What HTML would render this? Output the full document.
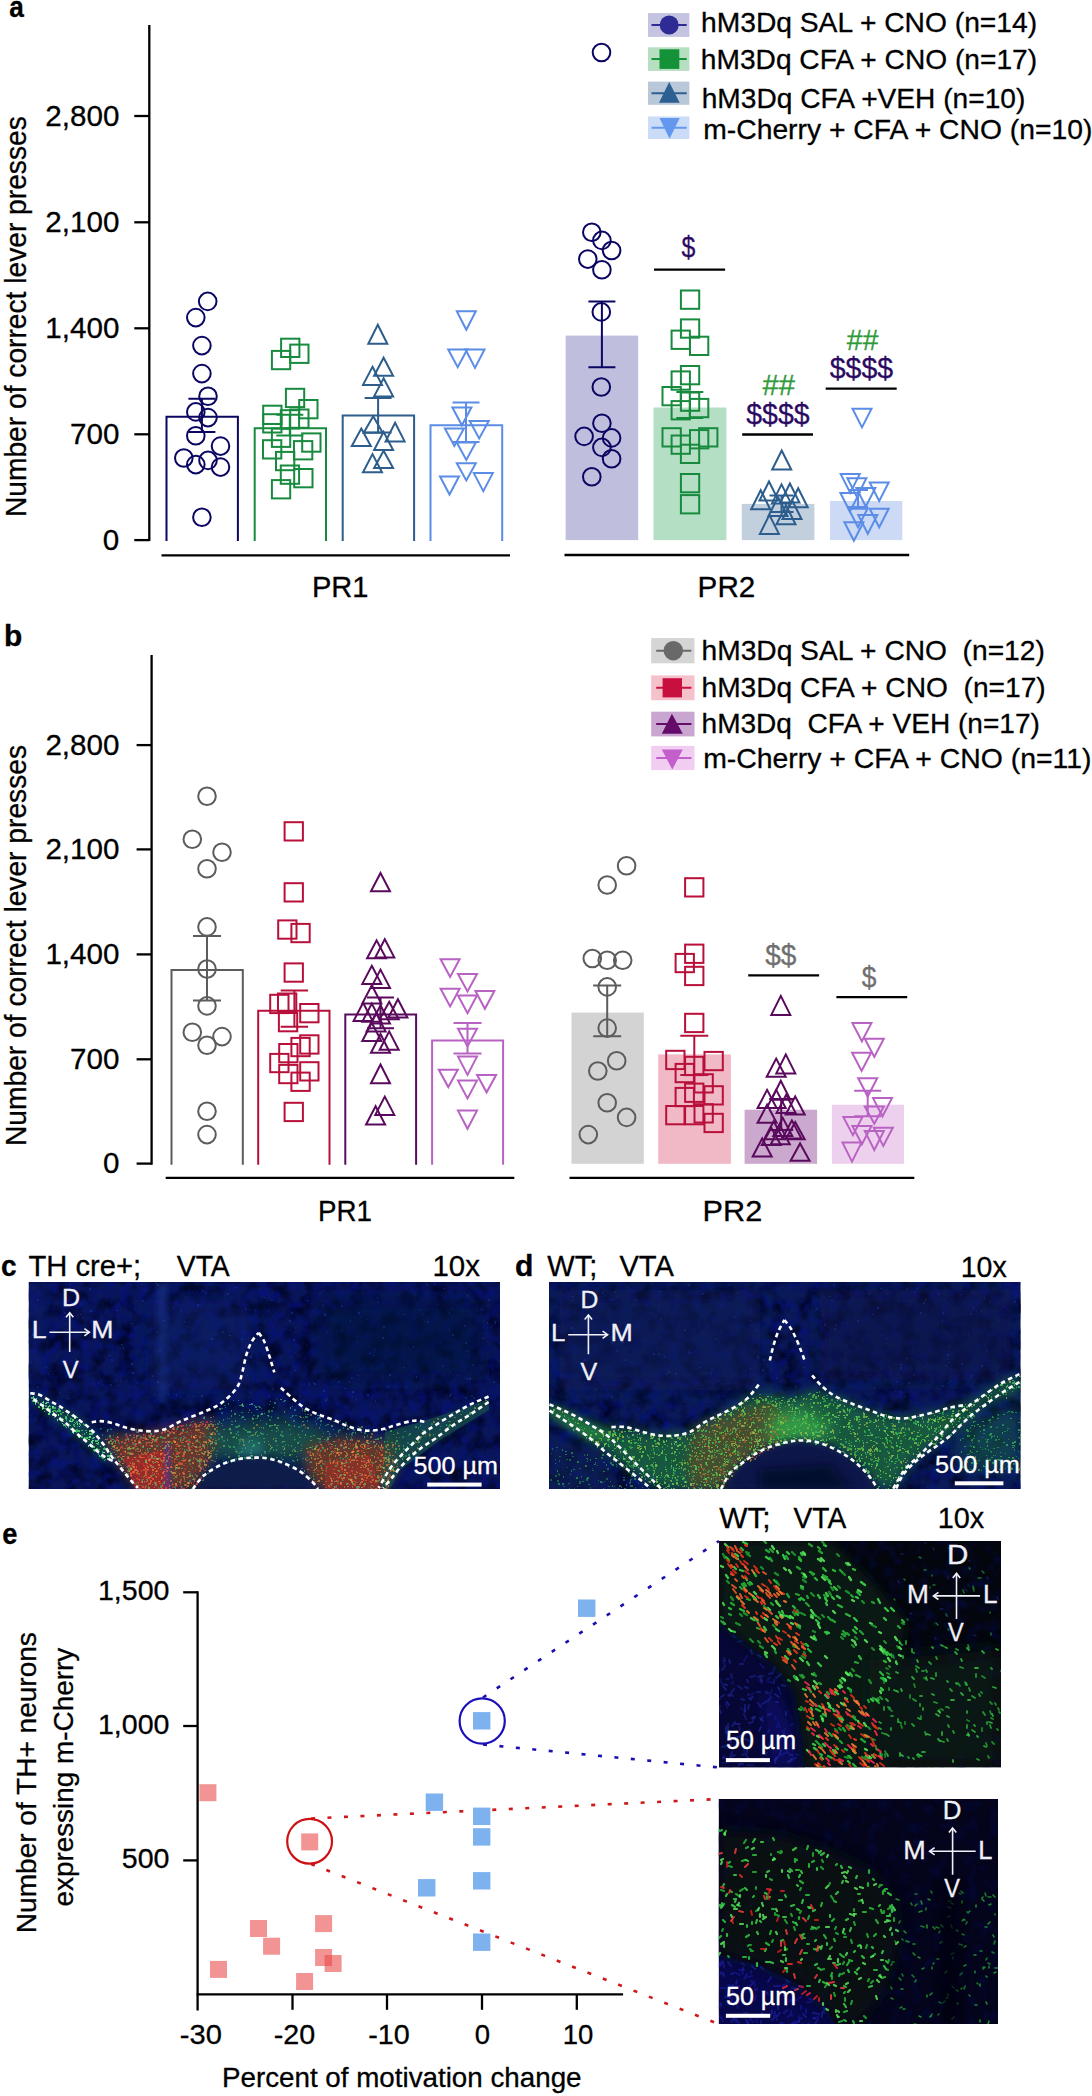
<!DOCTYPE html><html><head><meta charset="utf-8"><style>html,body{margin:0;padding:0;background:#fff;}svg{display:block;}text{font-family:"Liberation Sans",sans-serif;}</style></head><body>
<svg width="1092" height="2096" viewBox="0 0 1092 2096">
<rect width="1092" height="2096" fill="#fff"/>
<text x="9.31" y="17.4" font-size="30" fill="#000" stroke="#000" stroke-width="0.3" font-weight="bold" textLength="14.59" lengthAdjust="spacingAndGlyphs" xml:space="preserve" >a</text>
<line x1="149.3" y1="25" x2="149.3" y2="541.1" stroke="#000" stroke-width="2.3" />
<line x1="134.3" y1="116" x2="149.3" y2="116" stroke="#000" stroke-width="2.3" />
<text x="45.33" y="125.6" font-size="29" fill="#000" stroke="#000" stroke-width="0.3" textLength="74.02" lengthAdjust="spacingAndGlyphs" xml:space="preserve" >2,800</text>
<line x1="134.3" y1="222.3" x2="149.3" y2="222.3" stroke="#000" stroke-width="2.3" />
<text x="45.33" y="231.9" font-size="29" fill="#000" stroke="#000" stroke-width="0.3" textLength="74.02" lengthAdjust="spacingAndGlyphs" xml:space="preserve" >2,100</text>
<line x1="134.3" y1="328.3" x2="149.3" y2="328.3" stroke="#000" stroke-width="2.3" />
<text x="45.33" y="337.90000000000003" font-size="29" fill="#000" stroke="#000" stroke-width="0.3" textLength="74.02" lengthAdjust="spacingAndGlyphs" xml:space="preserve" >1,400</text>
<line x1="134.3" y1="434.3" x2="149.3" y2="434.3" stroke="#000" stroke-width="2.3" />
<text x="70.03" y="443.90000000000003" font-size="29" fill="#000" stroke="#000" stroke-width="0.3" textLength="49.35" lengthAdjust="spacingAndGlyphs" xml:space="preserve" >700</text>
<line x1="134.3" y1="540.1" x2="149.3" y2="540.1" stroke="#000" stroke-width="2.3" />
<text x="102.87" y="549.7" font-size="29" fill="#000" stroke="#000" stroke-width="0.3" textLength="16.45" lengthAdjust="spacingAndGlyphs" xml:space="preserve" >0</text>
<text transform="rotate(-90)" x="-517.05" y="25.7" font-size="29.5" fill="#000" stroke="#000" stroke-width="0.3" textLength="400.81" lengthAdjust="spacingAndGlyphs" xml:space="preserve">Number of correct lever presses</text>
<line x1="161.5" y1="555.3" x2="510" y2="555.3" stroke="#000" stroke-width="2.3" />
<line x1="564.5" y1="555.0" x2="909.2" y2="555.0" stroke="#000" stroke-width="2.3" />
<text x="311.97" y="597.1" font-size="29" fill="#000" stroke="#000" stroke-width="0.3" textLength="56.59" lengthAdjust="spacingAndGlyphs" xml:space="preserve" >PR1</text>
<text x="697.63" y="597.1" font-size="29" fill="#000" stroke="#000" stroke-width="0.3" textLength="57.67" lengthAdjust="spacingAndGlyphs" xml:space="preserve" >PR2</text>
<rect x="565.6" y="335.6" width="72.60000000000002" height="204.5" fill="#bfbfdd"/>
<rect x="653.5" y="407.5" width="72.89999999999998" height="132.60000000000002" fill="#b4dfc5"/>
<rect x="741.8" y="503.9" width="72.60000000000002" height="36.200000000000045" fill="#c2cfdc"/>
<rect x="830" y="501" width="72.29999999999995" height="39.10000000000002" fill="#ccdaf6"/>
<path d="M166.5 541.1V416.8H237.9V541.1" fill="none" stroke="#0b0662" stroke-width="2"/>
<path d="M254.7 541.1V428.2H326V541.1" fill="none" stroke="#178a3e" stroke-width="2"/>
<path d="M342.7 541.1V415.4H414.1V541.1" fill="none" stroke="#2c5d8c" stroke-width="2"/>
<path d="M430.5 541.1V425.3H502.2V541.1" fill="none" stroke="#5b8de6" stroke-width="2"/>
<circle cx="207.7" cy="301.4" r="8.8" fill="none" stroke="#0b0662" stroke-width="2"/>
<circle cx="195.8" cy="317.6" r="8.8" fill="none" stroke="#0b0662" stroke-width="2"/>
<circle cx="201.9" cy="345.6" r="8.8" fill="none" stroke="#0b0662" stroke-width="2"/>
<circle cx="201.9" cy="373.6" r="8.8" fill="none" stroke="#0b0662" stroke-width="2"/>
<circle cx="208.0" cy="396.2" r="8.8" fill="none" stroke="#0b0662" stroke-width="2"/>
<circle cx="195.8" cy="411.9" r="8.8" fill="none" stroke="#0b0662" stroke-width="2"/>
<circle cx="208.0" cy="417.6" r="8.8" fill="none" stroke="#0b0662" stroke-width="2"/>
<circle cx="195.8" cy="435.8" r="8.8" fill="none" stroke="#0b0662" stroke-width="2"/>
<circle cx="220.5" cy="446.1" r="8.8" fill="none" stroke="#0b0662" stroke-width="2"/>
<circle cx="183.8" cy="458.0" r="8.8" fill="none" stroke="#0b0662" stroke-width="2"/>
<circle cx="195.8" cy="464.6" r="8.8" fill="none" stroke="#0b0662" stroke-width="2"/>
<circle cx="208.0" cy="460.4" r="8.8" fill="none" stroke="#0b0662" stroke-width="2"/>
<circle cx="220.5" cy="467.1" r="8.8" fill="none" stroke="#0b0662" stroke-width="2"/>
<circle cx="201.9" cy="517.3" r="8.8" fill="none" stroke="#0b0662" stroke-width="2"/>
<path d="M188.4 398.7H215.4M201.9 398.7V432.0M188.4 432.0H215.4" fill="none" stroke="#0b0662" stroke-width="2"/>
<rect x="281.1" y="338.7" width="18.3" height="18.3" fill="none" stroke="#178a3e" stroke-width="2"/>
<rect x="290.2" y="344.6" width="18.3" height="18.3" fill="none" stroke="#178a3e" stroke-width="2"/>
<rect x="271.9" y="350.9" width="18.3" height="18.3" fill="none" stroke="#178a3e" stroke-width="2"/>
<rect x="285.9" y="388.8" width="18.3" height="18.3" fill="none" stroke="#178a3e" stroke-width="2"/>
<rect x="299.2" y="400.0" width="18.3" height="18.3" fill="none" stroke="#178a3e" stroke-width="2"/>
<rect x="263.2" y="405.7" width="18.3" height="18.3" fill="none" stroke="#178a3e" stroke-width="2"/>
<rect x="263.2" y="414.2" width="18.3" height="18.3" fill="none" stroke="#178a3e" stroke-width="2"/>
<rect x="290.2" y="409.5" width="18.3" height="18.3" fill="none" stroke="#178a3e" stroke-width="2"/>
<rect x="271.9" y="428.6" width="18.3" height="18.3" fill="none" stroke="#178a3e" stroke-width="2"/>
<rect x="302.2" y="433.4" width="18.3" height="18.3" fill="none" stroke="#178a3e" stroke-width="2"/>
<rect x="263.0" y="440.2" width="18.3" height="18.3" fill="none" stroke="#178a3e" stroke-width="2"/>
<rect x="294.0" y="441.1" width="18.3" height="18.3" fill="none" stroke="#178a3e" stroke-width="2"/>
<rect x="276.0" y="451.9" width="18.3" height="18.3" fill="none" stroke="#178a3e" stroke-width="2"/>
<rect x="280.8" y="465.5" width="18.3" height="18.3" fill="none" stroke="#178a3e" stroke-width="2"/>
<rect x="294.2" y="469.0" width="18.3" height="18.3" fill="none" stroke="#178a3e" stroke-width="2"/>
<rect x="271.9" y="480.1" width="18.3" height="18.3" fill="none" stroke="#178a3e" stroke-width="2"/>
<rect x="280.8" y="410.2" width="18.3" height="18.3" fill="none" stroke="#178a3e" stroke-width="2"/>
<path d="M276.3 414.8H303.3M289.8 414.8V435.5M276.3 435.5H303.3" fill="none" stroke="#178a3e" stroke-width="2"/>
<path d="M377.8 324.7L387.3 343.7L368.3 343.7Z" fill="none" stroke="#2c5d8c" stroke-width="2" stroke-linejoin="miter"/>
<path d="M383.6 357.7L393.1 375.8L374.1 375.8Z" fill="none" stroke="#2c5d8c" stroke-width="2" stroke-linejoin="miter"/>
<path d="M372.5 366.8L382.0 384.9L363.0 384.9Z" fill="none" stroke="#2c5d8c" stroke-width="2" stroke-linejoin="miter"/>
<path d="M383.6 378.3L393.1 396.4L374.1 396.4Z" fill="none" stroke="#2c5d8c" stroke-width="2" stroke-linejoin="miter"/>
<path d="M373.2 416.2L382.7 432.7L363.7 432.7Z" fill="none" stroke="#2c5d8c" stroke-width="2" stroke-linejoin="miter"/>
<path d="M361.3 428.6L370.8 445.9L351.8 445.9Z" fill="none" stroke="#2c5d8c" stroke-width="2" stroke-linejoin="miter"/>
<path d="M395.1 422.8L404.6 441.4L385.6 441.4Z" fill="none" stroke="#2c5d8c" stroke-width="2" stroke-linejoin="miter"/>
<path d="M383.6 431.9L393.1 450.0L374.1 450.0Z" fill="none" stroke="#2c5d8c" stroke-width="2" stroke-linejoin="miter"/>
<path d="M383.6 450.8L393.1 468.1L374.1 468.1Z" fill="none" stroke="#2c5d8c" stroke-width="2" stroke-linejoin="miter"/>
<path d="M372.5 454.1L382.0 472.2L363.0 472.2Z" fill="none" stroke="#2c5d8c" stroke-width="2" stroke-linejoin="miter"/>
<path d="M364.6 398.1H391.6M378.1 398.1V432.5M364.6 432.5H391.6" fill="none" stroke="#2c5d8c" stroke-width="2"/>
<path d="M456.8 311.2L475.8 311.2L466.3 329.7Z" fill="none" stroke="#5b8de6" stroke-width="2"/>
<path d="M448.2 349.4L467.2 349.4L457.7 367.2Z" fill="none" stroke="#5b8de6" stroke-width="2"/>
<path d="M465.5 349.4L484.5 349.4L475.0 367.9Z" fill="none" stroke="#5b8de6" stroke-width="2"/>
<path d="M452.4 407.5L471.4 407.5L461.9 425.3Z" fill="none" stroke="#5b8de6" stroke-width="2"/>
<path d="M469.7 421.1L488.7 421.1L479.2 438.5Z" fill="none" stroke="#5b8de6" stroke-width="2"/>
<path d="M444.9 428.6L463.9 428.6L454.4 445.9Z" fill="none" stroke="#5b8de6" stroke-width="2"/>
<path d="M456.8 442.6L475.8 442.6L466.3 459.9Z" fill="none" stroke="#5b8de6" stroke-width="2"/>
<path d="M456.8 463.2L475.8 463.2L466.3 480.5Z" fill="none" stroke="#5b8de6" stroke-width="2"/>
<path d="M473.8 473.1L492.8 473.1L483.3 491.2Z" fill="none" stroke="#5b8de6" stroke-width="2"/>
<path d="M440.0 476.4L459.0 476.4L449.5 494.5Z" fill="none" stroke="#5b8de6" stroke-width="2"/>
<path d="M452.5 402.5H479.5M466 402.5V442.1M452.5 442.1H479.5" fill="none" stroke="#5b8de6" stroke-width="2"/>
<circle cx="601.5" cy="52.5" r="8.8" fill="none" stroke="#0b0662" stroke-width="2"/>
<circle cx="591.8" cy="232.2" r="8.8" fill="none" stroke="#0b0662" stroke-width="2"/>
<circle cx="601.9" cy="240.4" r="8.8" fill="none" stroke="#0b0662" stroke-width="2"/>
<circle cx="611.6" cy="250.5" r="8.8" fill="none" stroke="#0b0662" stroke-width="2"/>
<circle cx="587.8" cy="259.1" r="8.8" fill="none" stroke="#0b0662" stroke-width="2"/>
<circle cx="601.9" cy="269.7" r="8.8" fill="none" stroke="#0b0662" stroke-width="2"/>
<circle cx="601.3" cy="311.9" r="8.8" fill="none" stroke="#0b0662" stroke-width="2"/>
<circle cx="601.3" cy="387.0" r="8.8" fill="none" stroke="#0b0662" stroke-width="2"/>
<circle cx="601.9" cy="423.2" r="8.8" fill="none" stroke="#0b0662" stroke-width="2"/>
<circle cx="584.1" cy="436.4" r="8.8" fill="none" stroke="#0b0662" stroke-width="2"/>
<circle cx="611.6" cy="437.9" r="8.8" fill="none" stroke="#0b0662" stroke-width="2"/>
<circle cx="601.9" cy="447.4" r="8.8" fill="none" stroke="#0b0662" stroke-width="2"/>
<circle cx="611.6" cy="458.8" r="8.8" fill="none" stroke="#0b0662" stroke-width="2"/>
<circle cx="591.8" cy="476.7" r="8.8" fill="none" stroke="#0b0662" stroke-width="2"/>
<path d="M588.4 301.4H615.4M601.9 301.4V367.2M588.4 367.2H615.4" fill="none" stroke="#0b0662" stroke-width="2"/>
<rect x="680.9" y="290.5" width="18.3" height="18.3" fill="none" stroke="#178a3e" stroke-width="2"/>
<rect x="680.9" y="319.4" width="18.3" height="18.3" fill="none" stroke="#178a3e" stroke-width="2"/>
<rect x="671.6" y="330.6" width="18.3" height="18.3" fill="none" stroke="#178a3e" stroke-width="2"/>
<rect x="690.0" y="336.7" width="18.3" height="18.3" fill="none" stroke="#178a3e" stroke-width="2"/>
<rect x="680.9" y="366.0" width="18.3" height="18.3" fill="none" stroke="#178a3e" stroke-width="2"/>
<rect x="671.6" y="371.4" width="18.3" height="18.3" fill="none" stroke="#178a3e" stroke-width="2"/>
<rect x="662.5" y="387.0" width="18.3" height="18.3" fill="none" stroke="#178a3e" stroke-width="2"/>
<rect x="680.9" y="392.5" width="18.3" height="18.3" fill="none" stroke="#178a3e" stroke-width="2"/>
<rect x="671.6" y="401.1" width="18.3" height="18.3" fill="none" stroke="#178a3e" stroke-width="2"/>
<rect x="690.0" y="398.9" width="18.3" height="18.3" fill="none" stroke="#178a3e" stroke-width="2"/>
<rect x="662.5" y="428.2" width="18.3" height="18.3" fill="none" stroke="#178a3e" stroke-width="2"/>
<rect x="671.6" y="435.5" width="18.3" height="18.3" fill="none" stroke="#178a3e" stroke-width="2"/>
<rect x="680.9" y="444.7" width="18.3" height="18.3" fill="none" stroke="#178a3e" stroke-width="2"/>
<rect x="690.0" y="430.1" width="18.3" height="18.3" fill="none" stroke="#178a3e" stroke-width="2"/>
<rect x="699.1" y="428.2" width="18.3" height="18.3" fill="none" stroke="#178a3e" stroke-width="2"/>
<rect x="680.9" y="474.0" width="18.3" height="18.3" fill="none" stroke="#178a3e" stroke-width="2"/>
<rect x="680.9" y="495.1" width="18.3" height="18.3" fill="none" stroke="#178a3e" stroke-width="2"/>
<path d="M676.3 392H703.3M689.8 392V418M676.3 418H703.3" fill="none" stroke="#178a3e" stroke-width="2"/>
<path d="M781.7 450.5L791.2 469.5L772.2 469.5Z" fill="none" stroke="#2c5d8c" stroke-width="2" stroke-linejoin="miter"/>
<path d="M769.0 481.5L778.5 500.5L759.5 500.5Z" fill="none" stroke="#2c5d8c" stroke-width="2" stroke-linejoin="miter"/>
<path d="M760.7 490.2L770.2 509.2L751.2 509.2Z" fill="none" stroke="#2c5d8c" stroke-width="2" stroke-linejoin="miter"/>
<path d="M781.5 484.4L791.0 503.4L772.0 503.4Z" fill="none" stroke="#2c5d8c" stroke-width="2" stroke-linejoin="miter"/>
<path d="M789.9 483.5L799.4 502.5L780.4 502.5Z" fill="none" stroke="#2c5d8c" stroke-width="2" stroke-linejoin="miter"/>
<path d="M798.2 488.3L807.7 507.3L788.7 507.3Z" fill="none" stroke="#2c5d8c" stroke-width="2" stroke-linejoin="miter"/>
<path d="M769.4 514.9L778.9 533.9L759.9 533.9Z" fill="none" stroke="#2c5d8c" stroke-width="2" stroke-linejoin="miter"/>
<path d="M786.0 505.3L795.5 524.3L776.5 524.3Z" fill="none" stroke="#2c5d8c" stroke-width="2" stroke-linejoin="miter"/>
<path d="M778.0 497.0L787.5 516.0L768.5 516.0Z" fill="none" stroke="#2c5d8c" stroke-width="2" stroke-linejoin="miter"/>
<path d="M792.0 500.0L801.5 519.0L782.5 519.0Z" fill="none" stroke="#2c5d8c" stroke-width="2" stroke-linejoin="miter"/>
<path d="M769.5 495.6H793.5M781.5 495.6V512M769.5 512H793.5" fill="none" stroke="#2c5d8c" stroke-width="2"/>
<path d="M852.5 408.8L871.5 408.8L862.0 427.4Z" fill="none" stroke="#5b8de6" stroke-width="2"/>
<path d="M840.7 474.1L859.7 474.1L850.2 492.7Z" fill="none" stroke="#5b8de6" stroke-width="2"/>
<path d="M847.4 478.3L866.4 478.3L856.9 496.9Z" fill="none" stroke="#5b8de6" stroke-width="2"/>
<path d="M869.7 482.4L888.7 482.4L879.2 501.0Z" fill="none" stroke="#5b8de6" stroke-width="2"/>
<path d="M856.3 487.9L875.3 487.9L865.8 506.5Z" fill="none" stroke="#5b8de6" stroke-width="2"/>
<path d="M840.4 493.0L859.4 493.0L849.9 511.6Z" fill="none" stroke="#5b8de6" stroke-width="2"/>
<path d="M869.7 508.7L888.7 508.7L879.2 527.3Z" fill="none" stroke="#5b8de6" stroke-width="2"/>
<path d="M848.5 508.7L867.5 508.7L858.0 527.3Z" fill="none" stroke="#5b8de6" stroke-width="2"/>
<path d="M858.3 515.1L877.3 515.1L867.8 533.7Z" fill="none" stroke="#5b8de6" stroke-width="2"/>
<path d="M844.4 522.2L863.4 522.2L853.9 540.8Z" fill="none" stroke="#5b8de6" stroke-width="2"/>
<path d="M848 490H868M858 490V507.1M848 507.1H868" fill="none" stroke="#5b8de6" stroke-width="2"/>
<line x1="654" y1="269.7" x2="725.1" y2="269.7" stroke="#000" stroke-width="2.3" />
<text x="681.45" y="257" font-size="29" fill="#2b0a63" stroke="#2b0a63" stroke-width="0.3" textLength="13.85" lengthAdjust="spacingAndGlyphs" xml:space="preserve" >$</text>
<line x1="742.2" y1="434.5" x2="813" y2="434.5" stroke="#000" stroke-width="2.3" />
<text x="746.22" y="424.2" font-size="29" fill="#2b0a63" stroke="#2b0a63" stroke-width="0.3" textLength="63.40" lengthAdjust="spacingAndGlyphs" xml:space="preserve" >$$$$</text>
<text x="762.55" y="394.8" font-size="29" fill="#2f9a3a" stroke="#2f9a3a" stroke-width="0.3" textLength="32.36" lengthAdjust="spacingAndGlyphs" xml:space="preserve" >##</text>
<line x1="825.7" y1="388.7" x2="896.7" y2="388.7" stroke="#000" stroke-width="2.3" />
<text x="829.72" y="378.4" font-size="29" fill="#2b0a63" stroke="#2b0a63" stroke-width="0.3" textLength="63.40" lengthAdjust="spacingAndGlyphs" xml:space="preserve" >$$$$</text>
<text x="846.86" y="349.6" font-size="29" fill="#2f9a3a" stroke="#2f9a3a" stroke-width="0.3" textLength="31.55" lengthAdjust="spacingAndGlyphs" xml:space="preserve" >##</text>
<rect x="648" y="13.1" width="41.4" height="23.8" fill="#c4c4e0"/>
<line x1="651.5" y1="25.0" x2="686.7" y2="25.0" stroke="#2e2b95" stroke-width="2" />
<circle cx="669.2" cy="25.0" r="9.5" fill="#2e2b95"/>
<text x="701.03" y="32.3" font-size="28.5" fill="#000" stroke="#000" stroke-width="0.3" textLength="336.05" lengthAdjust="spacingAndGlyphs" xml:space="preserve" >hM3Dq SAL + CNO (n=14)</text>
<rect x="648" y="47.3" width="41.4" height="23.6" fill="#b6dec0"/>
<line x1="651.5" y1="59.1" x2="686.7" y2="59.1" stroke="#149237" stroke-width="2" />
<rect x="659.5" y="49.3" width="19.8" height="19.6" fill="#149237"/>
<text x="700.83" y="68.6" font-size="28.5" fill="#000" stroke="#000" stroke-width="0.3" textLength="336.29" lengthAdjust="spacingAndGlyphs" xml:space="preserve" >hM3Dq CFA + CNO (n=17)</text>
<rect x="648" y="81.6" width="41.4" height="23.2" fill="#b9c8d8"/>
<line x1="651.5" y1="93.19999999999999" x2="686.7" y2="93.19999999999999" stroke="#2d5f90" stroke-width="2" />
<path d="M669.2 82.1L679.7 102.8L659 102.8Z" fill="#2d5f90"/>
<text x="701.73" y="107.8" font-size="28.5" fill="#000" stroke="#000" stroke-width="0.3" textLength="323.58" lengthAdjust="spacingAndGlyphs" xml:space="preserve" >hM3Dq CFA +VEH (n=10)</text>
<rect x="648" y="116.5" width="41.4" height="22.5" fill="#cadcf8"/>
<line x1="651.5" y1="127.75" x2="686.7" y2="127.75" stroke="#6497ee" stroke-width="2" />
<path d="M659.5 118.0L679.7 118.0L669.6 138.7Z" fill="#6497ee"/>
<text x="703.26" y="138.7" font-size="28.5" fill="#000" stroke="#000" stroke-width="0.3" textLength="389.06" lengthAdjust="spacingAndGlyphs" xml:space="preserve" >m-Cherry + CFA + CNO (n=10)</text>
<text x="4.06" y="646.2" font-size="29.5" fill="#000" stroke="#000" stroke-width="0.3" font-weight="bold" textLength="18.27" lengthAdjust="spacingAndGlyphs" xml:space="preserve" >b</text>
<line x1="151.6" y1="655" x2="151.6" y2="1164.8" stroke="#000" stroke-width="2.3" />
<line x1="136.6" y1="745.1" x2="151.6" y2="745.1" stroke="#000" stroke-width="2.3" />
<text x="45.43" y="754.7" font-size="29" fill="#000" stroke="#000" stroke-width="0.3" textLength="74.02" lengthAdjust="spacingAndGlyphs" xml:space="preserve" >2,800</text>
<line x1="136.6" y1="849.4" x2="151.6" y2="849.4" stroke="#000" stroke-width="2.3" />
<text x="45.43" y="859.0" font-size="29" fill="#000" stroke="#000" stroke-width="0.3" textLength="74.02" lengthAdjust="spacingAndGlyphs" xml:space="preserve" >2,100</text>
<line x1="136.6" y1="954.4" x2="151.6" y2="954.4" stroke="#000" stroke-width="2.3" />
<text x="45.43" y="964.0" font-size="29" fill="#000" stroke="#000" stroke-width="0.3" textLength="74.02" lengthAdjust="spacingAndGlyphs" xml:space="preserve" >1,400</text>
<line x1="136.6" y1="1059.3" x2="151.6" y2="1059.3" stroke="#000" stroke-width="2.3" />
<text x="70.13" y="1068.8999999999999" font-size="29" fill="#000" stroke="#000" stroke-width="0.3" textLength="49.35" lengthAdjust="spacingAndGlyphs" xml:space="preserve" >700</text>
<line x1="136.6" y1="1163.6" x2="151.6" y2="1163.6" stroke="#000" stroke-width="2.3" />
<text x="102.97" y="1173.1999999999998" font-size="29" fill="#000" stroke="#000" stroke-width="0.3" textLength="16.45" lengthAdjust="spacingAndGlyphs" xml:space="preserve" >0</text>
<text transform="rotate(-90)" x="-1146.06" y="25.8" font-size="29.5" fill="#000" stroke="#000" stroke-width="0.3" textLength="401.11" lengthAdjust="spacingAndGlyphs" xml:space="preserve">Number of correct lever presses</text>
<line x1="165.7" y1="1177.9" x2="514.3" y2="1177.9" stroke="#000" stroke-width="2.3" />
<line x1="569.5" y1="1177.9" x2="914.3" y2="1177.9" stroke="#000" stroke-width="2.3" />
<text x="317.88" y="1221.1" font-size="29" fill="#000" stroke="#000" stroke-width="0.3" textLength="54.02" lengthAdjust="spacingAndGlyphs" xml:space="preserve" >PR1</text>
<text x="702.54" y="1220.9" font-size="29" fill="#000" stroke="#000" stroke-width="0.3" textLength="59.70" lengthAdjust="spacingAndGlyphs" xml:space="preserve" >PR2</text>
<rect x="571.5" y="1012.6" width="72.29999999999995" height="151.19999999999993" fill="#d3d3d3"/>
<rect x="658.2" y="1054.4" width="72.69999999999993" height="109.39999999999986" fill="#f1b9c6"/>
<rect x="744.6" y="1109.7" width="72.5" height="54.09999999999991" fill="#cba8cd"/>
<rect x="831.9" y="1104.7" width="72.10000000000002" height="59.09999999999991" fill="#edd0ee"/>
<path d="M171.5 1164.8V970.1H242.8V1164.8" fill="none" stroke="#5c5c5c" stroke-width="2"/>
<path d="M258.2 1164.8V1010.7H329.5V1164.8" fill="none" stroke="#b8103a" stroke-width="2"/>
<path d="M345.3 1164.8V1014.5H416.1V1164.8" fill="none" stroke="#5a0a5c" stroke-width="2"/>
<path d="M432.1 1164.8V1040.4H503.1V1164.8" fill="none" stroke="#b862c4" stroke-width="2"/>
<circle cx="207.0" cy="796.3" r="8.8" fill="none" stroke="#5c5c5c" stroke-width="2"/>
<circle cx="192.3" cy="839.3" r="8.8" fill="none" stroke="#5c5c5c" stroke-width="2"/>
<circle cx="222.0" cy="852.3" r="8.8" fill="none" stroke="#5c5c5c" stroke-width="2"/>
<circle cx="207.0" cy="868.7" r="8.8" fill="none" stroke="#5c5c5c" stroke-width="2"/>
<circle cx="207.0" cy="926.9" r="8.8" fill="none" stroke="#5c5c5c" stroke-width="2"/>
<circle cx="207.0" cy="969.0" r="8.8" fill="none" stroke="#5c5c5c" stroke-width="2"/>
<circle cx="207.0" cy="1005.9" r="8.8" fill="none" stroke="#5c5c5c" stroke-width="2"/>
<circle cx="192.3" cy="1032.2" r="8.8" fill="none" stroke="#5c5c5c" stroke-width="2"/>
<circle cx="222.0" cy="1036.6" r="8.8" fill="none" stroke="#5c5c5c" stroke-width="2"/>
<circle cx="207.0" cy="1045.3" r="8.8" fill="none" stroke="#5c5c5c" stroke-width="2"/>
<circle cx="207.0" cy="1111.2" r="8.8" fill="none" stroke="#5c5c5c" stroke-width="2"/>
<circle cx="207.0" cy="1134.6" r="8.8" fill="none" stroke="#5c5c5c" stroke-width="2"/>
<path d="M193 936.1H221M207 936.1V1000.4M193 1000.4H221" fill="none" stroke="#5c5c5c" stroke-width="2"/>
<rect x="284.6" y="822.2" width="18.3" height="18.3" fill="none" stroke="#b8103a" stroke-width="2"/>
<rect x="284.6" y="883.2" width="18.3" height="18.3" fill="none" stroke="#b8103a" stroke-width="2"/>
<rect x="278.2" y="920.4" width="18.3" height="18.3" fill="none" stroke="#b8103a" stroke-width="2"/>
<rect x="291.4" y="923.9" width="18.3" height="18.3" fill="none" stroke="#b8103a" stroke-width="2"/>
<rect x="284.6" y="963.4" width="18.3" height="18.3" fill="none" stroke="#b8103a" stroke-width="2"/>
<rect x="270.2" y="994.8" width="18.3" height="18.3" fill="none" stroke="#b8103a" stroke-width="2"/>
<rect x="278.0" y="993.5" width="18.3" height="18.3" fill="none" stroke="#b8103a" stroke-width="2"/>
<rect x="300.2" y="1004.0" width="18.3" height="18.3" fill="none" stroke="#b8103a" stroke-width="2"/>
<rect x="278.9" y="1013.0" width="18.3" height="18.3" fill="none" stroke="#b8103a" stroke-width="2"/>
<rect x="291.4" y="1037.9" width="18.3" height="18.3" fill="none" stroke="#b8103a" stroke-width="2"/>
<rect x="300.2" y="1035.3" width="18.3" height="18.3" fill="none" stroke="#b8103a" stroke-width="2"/>
<rect x="279.2" y="1044.0" width="18.3" height="18.3" fill="none" stroke="#b8103a" stroke-width="2"/>
<rect x="270.2" y="1053.9" width="18.3" height="18.3" fill="none" stroke="#b8103a" stroke-width="2"/>
<rect x="279.2" y="1064.9" width="18.3" height="18.3" fill="none" stroke="#b8103a" stroke-width="2"/>
<rect x="300.2" y="1062.2" width="18.3" height="18.3" fill="none" stroke="#b8103a" stroke-width="2"/>
<rect x="291.4" y="1072.6" width="18.3" height="18.3" fill="none" stroke="#b8103a" stroke-width="2"/>
<rect x="284.6" y="1102.8" width="18.3" height="18.3" fill="none" stroke="#b8103a" stroke-width="2"/>
<path d="M280.7 990.5H308.09999999999997M294.4 990.5V1026.7M280.7 1026.7H308.09999999999997" fill="none" stroke="#b8103a" stroke-width="2"/>
<path d="M380.5 873.0L390.0 891.3L371.0 891.3Z" fill="none" stroke="#5a0a5c" stroke-width="2" stroke-linejoin="miter"/>
<path d="M376.6 940.4L386.1 958.3L367.1 958.3Z" fill="none" stroke="#5a0a5c" stroke-width="2" stroke-linejoin="miter"/>
<path d="M384.8 939.2L394.3 957.4L375.3 957.4Z" fill="none" stroke="#5a0a5c" stroke-width="2" stroke-linejoin="miter"/>
<path d="M371.8 965.8L381.3 983.9L362.3 983.9Z" fill="none" stroke="#5a0a5c" stroke-width="2" stroke-linejoin="miter"/>
<path d="M380.5 969.6L390.0 987.9L371.0 987.9Z" fill="none" stroke="#5a0a5c" stroke-width="2" stroke-linejoin="miter"/>
<path d="M371.8 985.3L381.3 1003.6L362.3 1003.6Z" fill="none" stroke="#5a0a5c" stroke-width="2" stroke-linejoin="miter"/>
<path d="M363.1 1002.7L372.6 1021.0L353.6 1021.0Z" fill="none" stroke="#5a0a5c" stroke-width="2" stroke-linejoin="miter"/>
<path d="M371.8 1003.6L381.3 1021.8L362.3 1021.8Z" fill="none" stroke="#5a0a5c" stroke-width="2" stroke-linejoin="miter"/>
<path d="M380.5 1005.3L390.0 1023.6L371.0 1023.6Z" fill="none" stroke="#5a0a5c" stroke-width="2" stroke-linejoin="miter"/>
<path d="M389.2 1001.8L398.7 1019.2L379.7 1019.2Z" fill="none" stroke="#5a0a5c" stroke-width="2" stroke-linejoin="miter"/>
<path d="M397.9 999.2L407.4 1017.5L388.4 1017.5Z" fill="none" stroke="#5a0a5c" stroke-width="2" stroke-linejoin="miter"/>
<path d="M376.1 1013.1L385.6 1031.4L366.6 1031.4Z" fill="none" stroke="#5a0a5c" stroke-width="2" stroke-linejoin="miter"/>
<path d="M371.8 1022.7L381.3 1041.0L362.3 1041.0Z" fill="none" stroke="#5a0a5c" stroke-width="2" stroke-linejoin="miter"/>
<path d="M389.2 1031.4L398.7 1049.7L379.7 1049.7Z" fill="none" stroke="#5a0a5c" stroke-width="2" stroke-linejoin="miter"/>
<path d="M380.5 1034.0L390.0 1052.8L371.0 1052.8Z" fill="none" stroke="#5a0a5c" stroke-width="2" stroke-linejoin="miter"/>
<path d="M380.5 1064.5L390.0 1083.2L371.0 1083.2Z" fill="none" stroke="#5a0a5c" stroke-width="2" stroke-linejoin="miter"/>
<path d="M384.8 1096.6L394.3 1114.9L375.3 1114.9Z" fill="none" stroke="#5a0a5c" stroke-width="2" stroke-linejoin="miter"/>
<path d="M375.6 1106.2L385.1 1124.5L366.1 1124.5Z" fill="none" stroke="#5a0a5c" stroke-width="2" stroke-linejoin="miter"/>
<path d="M367.0 997.5H394.0M380.5 997.5V1028.3M367.0 1028.3H394.0" fill="none" stroke="#5a0a5c" stroke-width="2"/>
<path d="M440.6 959.2L459.6 959.2L450.1 976.9Z" fill="none" stroke="#b862c4" stroke-width="2"/>
<path d="M458.0 974.0L477.0 974.0L467.5 991.4Z" fill="none" stroke="#b862c4" stroke-width="2"/>
<path d="M440.6 988.8L459.6 988.8L450.1 1006.5Z" fill="none" stroke="#b862c4" stroke-width="2"/>
<path d="M458.0 995.4L477.0 995.4L467.5 1013.1Z" fill="none" stroke="#b862c4" stroke-width="2"/>
<path d="M475.4 990.9L494.4 990.9L484.9 1008.8Z" fill="none" stroke="#b862c4" stroke-width="2"/>
<path d="M458.0 1028.8L477.0 1028.8L467.5 1046.5Z" fill="none" stroke="#b862c4" stroke-width="2"/>
<path d="M458.0 1056.6L477.0 1056.6L467.5 1074.9Z" fill="none" stroke="#b862c4" stroke-width="2"/>
<path d="M438.8 1069.7L457.8 1069.7L448.3 1087.1Z" fill="none" stroke="#b862c4" stroke-width="2"/>
<path d="M477.1 1074.9L496.1 1074.9L486.6 1092.3Z" fill="none" stroke="#b862c4" stroke-width="2"/>
<path d="M458.0 1080.6L477.0 1080.6L467.5 1098.4Z" fill="none" stroke="#b862c4" stroke-width="2"/>
<path d="M458.0 1110.6L477.0 1110.6L467.5 1128.8Z" fill="none" stroke="#b862c4" stroke-width="2"/>
<path d="M453.5 1023H481.5M467.5 1023V1053.5M453.5 1053.5H481.5" fill="none" stroke="#b862c4" stroke-width="2"/>
<circle cx="626.6" cy="865.8" r="8.8" fill="none" stroke="#5c5c5c" stroke-width="2"/>
<circle cx="607.2" cy="885.0" r="8.8" fill="none" stroke="#5c5c5c" stroke-width="2"/>
<circle cx="592.3" cy="958.5" r="8.8" fill="none" stroke="#5c5c5c" stroke-width="2"/>
<circle cx="607.2" cy="960.2" r="8.8" fill="none" stroke="#5c5c5c" stroke-width="2"/>
<circle cx="622.7" cy="960.2" r="8.8" fill="none" stroke="#5c5c5c" stroke-width="2"/>
<circle cx="607.2" cy="986.9" r="8.8" fill="none" stroke="#5c5c5c" stroke-width="2"/>
<circle cx="607.2" cy="1028.1" r="8.8" fill="none" stroke="#5c5c5c" stroke-width="2"/>
<circle cx="616.7" cy="1060.7" r="8.8" fill="none" stroke="#5c5c5c" stroke-width="2"/>
<circle cx="597.8" cy="1071.0" r="8.8" fill="none" stroke="#5c5c5c" stroke-width="2"/>
<circle cx="607.2" cy="1102.8" r="8.8" fill="none" stroke="#5c5c5c" stroke-width="2"/>
<circle cx="626.6" cy="1117.4" r="8.8" fill="none" stroke="#5c5c5c" stroke-width="2"/>
<circle cx="588.3" cy="1134.6" r="8.8" fill="none" stroke="#5c5c5c" stroke-width="2"/>
<path d="M593.2 985.5H621.2M607.2 985.5V1036.3M593.2 1036.3H621.2" fill="none" stroke="#5c5c5c" stroke-width="2"/>
<rect x="685.1" y="878.2" width="18.3" height="18.3" fill="none" stroke="#b8103a" stroke-width="2"/>
<rect x="685.1" y="944.6" width="18.3" height="18.3" fill="none" stroke="#b8103a" stroke-width="2"/>
<rect x="675.6" y="953.9" width="18.3" height="18.3" fill="none" stroke="#b8103a" stroke-width="2"/>
<rect x="685.1" y="966.8" width="18.3" height="18.3" fill="none" stroke="#b8103a" stroke-width="2"/>
<rect x="685.1" y="1013.8" width="18.3" height="18.3" fill="none" stroke="#b8103a" stroke-width="2"/>
<rect x="666.2" y="1050.8" width="18.3" height="18.3" fill="none" stroke="#b8103a" stroke-width="2"/>
<rect x="704.5" y="1051.9" width="18.3" height="18.3" fill="none" stroke="#b8103a" stroke-width="2"/>
<rect x="685.1" y="1056.8" width="18.3" height="18.3" fill="none" stroke="#b8103a" stroke-width="2"/>
<rect x="675.6" y="1063.9" width="18.3" height="18.3" fill="none" stroke="#b8103a" stroke-width="2"/>
<rect x="694.5" y="1074.2" width="18.3" height="18.3" fill="none" stroke="#b8103a" stroke-width="2"/>
<rect x="675.6" y="1087.9" width="18.3" height="18.3" fill="none" stroke="#b8103a" stroke-width="2"/>
<rect x="685.1" y="1083.6" width="18.3" height="18.3" fill="none" stroke="#b8103a" stroke-width="2"/>
<rect x="704.5" y="1086.2" width="18.3" height="18.3" fill="none" stroke="#b8103a" stroke-width="2"/>
<rect x="666.2" y="1106.0" width="18.3" height="18.3" fill="none" stroke="#b8103a" stroke-width="2"/>
<rect x="685.1" y="1106.0" width="18.3" height="18.3" fill="none" stroke="#b8103a" stroke-width="2"/>
<rect x="694.5" y="1104.2" width="18.3" height="18.3" fill="none" stroke="#b8103a" stroke-width="2"/>
<rect x="704.5" y="1113.8" width="18.3" height="18.3" fill="none" stroke="#b8103a" stroke-width="2"/>
<path d="M680.3 1035.8H708.3M694.3 1035.8V1075M680.3 1075H708.3" fill="none" stroke="#b8103a" stroke-width="2"/>
<path d="M780.8 995.9L790.3 1014.9L771.3 1014.9Z" fill="none" stroke="#5a0a5c" stroke-width="2" stroke-linejoin="miter"/>
<path d="M776.2 1058.6L785.7 1076.7L766.7 1076.7Z" fill="none" stroke="#5a0a5c" stroke-width="2" stroke-linejoin="miter"/>
<path d="M785.8 1054.4L795.3 1073.4L776.3 1073.4Z" fill="none" stroke="#5a0a5c" stroke-width="2" stroke-linejoin="miter"/>
<path d="M780.8 1080.8L790.3 1099.8L771.3 1099.8Z" fill="none" stroke="#5a0a5c" stroke-width="2" stroke-linejoin="miter"/>
<path d="M767.1 1089.9L776.6 1108.0L757.6 1108.0Z" fill="none" stroke="#5a0a5c" stroke-width="2" stroke-linejoin="miter"/>
<path d="M776.2 1089.9L785.7 1108.0L766.7 1108.0Z" fill="none" stroke="#5a0a5c" stroke-width="2" stroke-linejoin="miter"/>
<path d="M795.2 1096.5L804.7 1114.6L785.7 1114.6Z" fill="none" stroke="#5a0a5c" stroke-width="2" stroke-linejoin="miter"/>
<path d="M786.1 1094.8L795.6 1112.9L776.6 1112.9Z" fill="none" stroke="#5a0a5c" stroke-width="2" stroke-linejoin="miter"/>
<path d="M767.1 1104.7L776.6 1122.8L757.6 1122.8Z" fill="none" stroke="#5a0a5c" stroke-width="2" stroke-linejoin="miter"/>
<path d="M773.7 1121.2L783.2 1139.3L764.2 1139.3Z" fill="none" stroke="#5a0a5c" stroke-width="2" stroke-linejoin="miter"/>
<path d="M782.8 1117.9L792.3 1136.0L773.3 1136.0Z" fill="none" stroke="#5a0a5c" stroke-width="2" stroke-linejoin="miter"/>
<path d="M791.9 1120.4L801.4 1138.5L782.4 1138.5Z" fill="none" stroke="#5a0a5c" stroke-width="2" stroke-linejoin="miter"/>
<path d="M795.2 1122.0L804.7 1139.3L785.7 1139.3Z" fill="none" stroke="#5a0a5c" stroke-width="2" stroke-linejoin="miter"/>
<path d="M780.3 1126.1L789.8 1144.3L770.8 1144.3Z" fill="none" stroke="#5a0a5c" stroke-width="2" stroke-linejoin="miter"/>
<path d="M762.2 1138.5L771.7 1156.6L752.7 1156.6Z" fill="none" stroke="#5a0a5c" stroke-width="2" stroke-linejoin="miter"/>
<path d="M800.1 1143.4L809.6 1160.8L790.6 1160.8Z" fill="none" stroke="#5a0a5c" stroke-width="2" stroke-linejoin="miter"/>
<path d="M771.3 1127.8L780.8 1145.0L761.8 1145.0Z" fill="none" stroke="#5a0a5c" stroke-width="2" stroke-linejoin="miter"/>
<path d="M769.2 1099H793.2M781.2 1099V1130M769.2 1130H793.2" fill="none" stroke="#5a0a5c" stroke-width="2"/>
<path d="M852.4 1023.1L871.4 1023.1L861.9 1041.3Z" fill="none" stroke="#b862c4" stroke-width="2"/>
<path d="M864.8 1038.8L883.8 1038.8L874.3 1056.9Z" fill="none" stroke="#b862c4" stroke-width="2"/>
<path d="M852.1 1052.8L871.1 1052.8L861.6 1070.9Z" fill="none" stroke="#b862c4" stroke-width="2"/>
<path d="M858.2 1078.3L877.2 1078.3L867.7 1096.5Z" fill="none" stroke="#b862c4" stroke-width="2"/>
<path d="M873.0 1098.1L892.0 1098.1L882.5 1116.3Z" fill="none" stroke="#b862c4" stroke-width="2"/>
<path d="M864.8 1106.4L883.8 1106.4L874.3 1123.7Z" fill="none" stroke="#b862c4" stroke-width="2"/>
<path d="M843.4 1117.1L862.4 1117.1L852.9 1135.2Z" fill="none" stroke="#b862c4" stroke-width="2"/>
<path d="M852.4 1126.1L871.4 1126.1L861.9 1144.3Z" fill="none" stroke="#b862c4" stroke-width="2"/>
<path d="M873.8 1127.8L892.8 1127.8L883.3 1145.9Z" fill="none" stroke="#b862c4" stroke-width="2"/>
<path d="M864.8 1131.1L883.8 1131.1L874.3 1150.0Z" fill="none" stroke="#b862c4" stroke-width="2"/>
<path d="M842.5 1142.6L861.5 1142.6L852.0 1161.6Z" fill="none" stroke="#b862c4" stroke-width="2"/>
<path d="M854.2 1090.7H881.2M867.7 1090.7V1116.3M854.2 1116.3H881.2" fill="none" stroke="#b862c4" stroke-width="2"/>
<line x1="748.2" y1="975.3" x2="819.1" y2="975.3" stroke="#000" stroke-width="2.3" />
<text x="765.22" y="965" font-size="29" fill="#6f6f6f" stroke="#6f6f6f" stroke-width="0.3" textLength="31.27" lengthAdjust="spacingAndGlyphs" xml:space="preserve" >$$</text>
<line x1="836.4" y1="997.2" x2="907.2" y2="997.2" stroke="#000" stroke-width="2.3" />
<text x="861.64" y="986.5" font-size="29" fill="#6f6f6f" stroke="#6f6f6f" stroke-width="0.3" textLength="14.69" lengthAdjust="spacingAndGlyphs" xml:space="preserve" >$</text>
<rect x="651.2" y="638.1" width="43.3" height="25.2" fill="#d5d5d5"/>
<line x1="656.2" y1="650.7" x2="691.4" y2="650.7" stroke="#696969" stroke-width="2" />
<circle cx="673.3" cy="650.7" r="9.7" fill="#696969"/>
<text x="701.53" y="660.1" font-size="28.5" fill="#000" stroke="#000" stroke-width="0.3" textLength="343.28" lengthAdjust="spacingAndGlyphs" xml:space="preserve" >hM3Dq SAL + CNO  (n=12)</text>
<rect x="651.2" y="675.4" width="43.3" height="24.8" fill="#f5c1cb"/>
<line x1="656.2" y1="687.8" x2="691.4" y2="687.8" stroke="#c8103e" stroke-width="2" />
<rect x="662.6" y="678.2" width="19.4" height="19.2" fill="#c8103e"/>
<text x="701.53" y="697.2" font-size="28.5" fill="#000" stroke="#000" stroke-width="0.3" textLength="344.23" lengthAdjust="spacingAndGlyphs" xml:space="preserve" >hM3Dq CFA + CNO  (n=17)</text>
<rect x="651.2" y="711.7" width="43.3" height="24.7" fill="#c8a6cf"/>
<line x1="656.2" y1="724.05" x2="691.4" y2="724.05" stroke="#650b69" stroke-width="2" />
<path d="M671.9 713.7L682.8 733.8L661.8 733.8Z" fill="#650b69"/>
<text x="701.54" y="732.6" font-size="28.5" fill="#000" stroke="#000" stroke-width="0.3" textLength="338.39" lengthAdjust="spacingAndGlyphs" xml:space="preserve" >hM3Dq  CFA + VEH (n=17)</text>
<rect x="651.2" y="745.9" width="43.3" height="24.2" fill="#f2cdf2"/>
<line x1="656.2" y1="758.0" x2="691.4" y2="758.0" stroke="#c25fcb" stroke-width="2" />
<path d="M661.8 749.5L682.8 749.5L672.3 769.5Z" fill="#c25fcb"/>
<text x="703.15" y="767.9" font-size="28.5" fill="#000" stroke="#000" stroke-width="0.3" textLength="388.39" lengthAdjust="spacingAndGlyphs" xml:space="preserve" >m-Cherry + CFA + CNO (n=11)</text>
<defs>
<filter id="b2" x="-50%" y="-50%" width="200%" height="200%"><feGaussianBlur stdDeviation="2"/></filter>
<filter id="b3" x="-50%" y="-50%" width="200%" height="200%"><feGaussianBlur stdDeviation="3"/></filter>
<filter id="b4" x="-50%" y="-50%" width="200%" height="200%"><feGaussianBlur stdDeviation="4"/></filter>
<filter id="b6" x="-50%" y="-50%" width="200%" height="200%"><feGaussianBlur stdDeviation="6"/></filter>
<filter id="b8" x="-50%" y="-50%" width="200%" height="200%"><feGaussianBlur stdDeviation="8"/></filter>
<filter id="b10" x="-50%" y="-50%" width="200%" height="200%"><feGaussianBlur stdDeviation="10"/></filter>
<filter id="b14" x="-50%" y="-50%" width="200%" height="200%"><feGaussianBlur stdDeviation="14"/></filter>
<clipPath id="cc"><rect x="28.6" y="1282" width="471.4" height="207"/></clipPath>
<clipPath id="cd"><rect x="549" y="1282" width="471.7" height="207"/></clipPath>
<clipPath id="ce1"><rect x="719" y="1541" width="282" height="226.5"/></clipPath>
<clipPath id="ce2"><rect x="718.6" y="1799" width="279.4" height="225"/></clipPath>
<filter id="motB" x="0" y="0" width="100%" height="100%" color-interpolation-filters="sRGB"><feTurbulence type="fractalNoise" baseFrequency="0.1" numOctaves="3" seed="7"/><feColorMatrix type="matrix" values="0 0 0 0 0.03  0 0 0 0 0.07  0 0 0 0 0.55  2.6 0 0 0 -1.15"/></filter>
<filter id="motD" x="0" y="0" width="100%" height="100%" color-interpolation-filters="sRGB"><feTurbulence type="fractalNoise" baseFrequency="0.06" numOctaves="3" seed="11"/><feColorMatrix type="matrix" values="0 0 0 0 0.0  0 0 0 0 0.01  0 0 0 0 0.1  0 2.6 0 0 -1.05"/></filter>
<filter id="motE" x="0" y="0" width="100%" height="100%" color-interpolation-filters="sRGB"><feTurbulence type="fractalNoise" baseFrequency="0.09" numOctaves="3" seed="3"/><feColorMatrix type="matrix" values="0 0 0 0 0.02  0 0 0 0 0.05  0 0 0 0 0.3  2.4 0 0 0 -1.1"/></filter>
</defs>
<text x="1.08" y="1275.8" font-size="29" fill="#000" stroke="#000" stroke-width="0.3" font-weight="bold" textLength="15.60" lengthAdjust="spacingAndGlyphs" xml:space="preserve" >c</text>
<text x="28.47" y="1275.8" font-size="29" fill="#000" stroke="#000" stroke-width="0.3" textLength="112.56" lengthAdjust="spacingAndGlyphs" xml:space="preserve" >TH cre+;</text>
<text x="176.76" y="1275.8" font-size="29" fill="#000" stroke="#000" stroke-width="0.3" textLength="52.96" lengthAdjust="spacingAndGlyphs" xml:space="preserve" >VTA</text>
<text x="432.49" y="1275.9" font-size="29" fill="#000" stroke="#000" stroke-width="0.3" textLength="47.47" lengthAdjust="spacingAndGlyphs" xml:space="preserve" >10x</text>
<g clip-path="url(#cc)">
<rect x="28.6" y="1282" width="471.4" height="207" fill="#09165a"/>
<rect x="28.6" y="1282" width="471.4" height="207" filter="url(#motD)" opacity="0.8"/>
<rect x="28.6" y="1282" width="471.4" height="207" filter="url(#motB)" opacity="0.6"/>
<polygon points="158.0,1282.0 166.0,1282.0 166.0,1400.0 160.0,1400.0" fill="#2a50b0" opacity="0.45" filter="url(#b3)"/>
<polygon points="28.0,1282.0 45.0,1282.0 40.0,1380.0 28.0,1380.0" fill="#0c2070" opacity="0.5" filter="url(#b6)"/>
<polygon points="320.0,1300.0 480.0,1300.0 480.0,1380.0 320.0,1380.0" fill="#06123c" opacity="0.6" filter="url(#b14)"/>
<polygon points="150.0,1300.0 250.0,1300.0 250.0,1390.0 150.0,1390.0" fill="#0c2266" opacity="0.5" filter="url(#b14)"/>
<polygon points="100.0,1432.0 150.0,1438.0 200.0,1428.0 235.0,1412.0 258.0,1416.0 280.0,1410.0 320.0,1425.0 380.0,1438.0 425.0,1430.0 470.0,1410.0 489.0,1402.0 450.0,1432.0 400.0,1462.0 385.0,1489.0 318.0,1489.0 300.0,1470.0 260.0,1458.0 220.0,1462.0 195.0,1489.0 138.0,1489.0 112.0,1458.0" fill="#184a48" opacity="0.5" filter="url(#b6)"/>
<polygon points="30.0,1393.0 80.0,1418.0 112.0,1455.0 105.0,1462.0 72.0,1432.0 32.0,1402.0" fill="#1f6a48" opacity="0.6" filter="url(#b4)"/>
<polygon points="104.0,1438.0 150.0,1432.0 185.0,1423.0 212.0,1419.0 218.0,1440.0 205.0,1470.0 193.0,1489.0 138.0,1489.0 118.0,1462.0" fill="#7a3a26" opacity="0.8" filter="url(#b6)"/>
<polygon points="124.0,1458.0 165.0,1450.0 170.0,1489.0 135.0,1489.0" fill="#a82828" opacity="0.75" filter="url(#b5)"/>
<polygon points="205.0,1432.0 250.0,1425.0 290.0,1425.0 325.0,1432.0 320.0,1452.0 280.0,1458.0 230.0,1458.0 208.0,1448.0" fill="#1e5a48" opacity="0.7" filter="url(#b6)"/>
<polygon points="240.0,1440.0 262.0,1440.0 262.0,1458.0 240.0,1458.0" fill="#2a8a8a" opacity="0.5" filter="url(#b4)"/>
<polygon points="306.0,1446.0 340.0,1438.0 370.0,1440.0 394.0,1444.0 396.0,1468.0 386.0,1489.0 318.0,1489.0 306.0,1470.0" fill="#7a3a24" opacity="0.8" filter="url(#b6)"/>
<polygon points="325.0,1462.0 370.0,1455.0 380.0,1489.0 325.0,1489.0" fill="#a03028" opacity="0.6" filter="url(#b5)"/>
<polygon points="385.0,1432.0 420.0,1422.0 470.0,1406.0 489.0,1399.0 489.0,1410.0 440.0,1440.0 400.0,1470.0 390.0,1489.0 382.0,1489.0" fill="#1c5a48" opacity="0.6" filter="url(#b5)"/>
<polygon points="195.0,1489.0 205.0,1473.0 225.0,1463.0 255.0,1457.0 280.0,1461.0 300.0,1470.0 315.0,1489.0" fill="#081a4a" opacity="1" filter="url(#b3)"/>
<polygon points="165.0,1442.0 170.0,1442.0 170.0,1489.0 165.0,1489.0" fill="#3a3ac0" opacity="0.6" filter="url(#b2)"/>
<path fill="#ff5a3a" opacity="0.5" d="M116 1439h2v2h-2zM117 1436h1v1h-1zM160 1455h1v1h-1zM178 1462h1v2h-1zM135 1450h1v1h-1zM165 1487h2v2h-2zM144 1467h2v1h-2zM206 1422h2v1h-2zM175 1441h1v2h-1zM127 1470h1v2h-1zM147 1457h2v1h-2zM134 1468h1v1h-1zM184 1481h2v1h-2zM205 1428h1v1h-1zM196 1453h1v2h-1zM149 1459h2v2h-2zM133 1447h2v2h-2zM172 1472h2v2h-2zM186 1440h2v2h-2zM182 1440h1v1h-1zM171 1431h2v2h-2zM188 1482h1v2h-1zM120 1453h2v2h-2zM164 1469h2v1h-2zM152 1439h2v2h-2zM143 1457h2v1h-2zM175 1455h1v2h-1zM200 1477h2v2h-2zM166 1454h2v1h-2zM167 1489h2v2h-2zM126 1445h1v2h-1zM199 1460h1v1h-1zM143 1465h2v1h-2zM142 1440h2v1h-2zM123 1461h2v1h-2zM122 1448h1v1h-1zM210 1423h2v2h-2zM150 1454h2v1h-2zM139 1461h1v2h-1zM132 1480h2v1h-2zM138 1442h2v1h-2zM128 1440h1v2h-1zM211 1450h1v2h-1zM146 1465h2v1h-2zM141 1453h2v2h-2zM172 1473h2v1h-2zM167 1452h2v2h-2zM145 1473h1v1h-1zM149 1445h2v1h-2zM137 1470h2v2h-2zM133 1453h1v2h-1zM191 1466h1v1h-1zM139 1455h2v1h-2zM155 1441h2v1h-2zM180 1483h1v2h-1zM192 1426h2v1h-2zM183 1488h2v1h-2zM171 1431h2v2h-2zM130 1475h2v2h-2zM122 1456h2v1h-2zM208 1457h2v1h-2zM150 1435h2v1h-2zM188 1448h1v1h-1zM155 1482h2v2h-2zM145 1477h2v1h-2zM183 1465h2v1h-2zM151 1457h1v1h-1zM130 1472h2v2h-2zM165 1462h1v1h-1zM146 1442h2v2h-2zM180 1445h2v1h-2zM187 1466h1v1h-1zM196 1437h1v1h-1zM188 1434h1v1h-1zM212 1439h2v1h-2zM107 1438h1v2h-1zM132 1442h2v2h-2zM131 1452h1v1h-1zM164 1432h2v1h-2zM126 1437h2v1h-2zM177 1442h1v2h-1zM151 1440h2v1h-2zM195 1484h2v1h-2zM168 1457h1v2h-1zM141 1470h1v2h-1zM168 1450h2v1h-2zM200 1468h2v2h-2zM180 1479h2v2h-2zM202 1423h2v2h-2zM174 1458h2v2h-2zM209 1440h1v1h-1zM171 1438h1v1h-1zM149 1464h2v1h-2zM153 1458h2v2h-2zM121 1446h2v2h-2zM189 1441h2v2h-2zM151 1465h1v1h-1zM131 1439h2v2h-2zM200 1461h2v1h-2zM139 1488h1v1h-1zM167 1443h1v2h-1zM181 1487h2v2h-2zM176 1452h2v2h-2zM119 1461h2v2h-2zM201 1425h1v1h-1zM155 1461h1v1h-1zM184 1449h1v1h-1zM200 1446h1v1h-1zM138 1440h2v2h-2zM158 1473h1v2h-1zM130 1470h1v1h-1zM194 1437h2v2h-2zM151 1476h1v1h-1zM137 1448h2v2h-2z"/>
<path fill="#ff8a3a" opacity="0.5" d="M158 1462h1v1h-1zM179 1462h2v2h-2zM185 1441h2v1h-2zM159 1467h2v1h-2zM146 1463h2v1h-2zM170 1480h2v1h-2zM130 1462h1v2h-1zM183 1460h2v2h-2zM188 1482h2v2h-2zM176 1475h2v1h-2zM170 1441h1v1h-1zM199 1436h2v2h-2zM127 1452h2v2h-2zM124 1442h2v2h-2zM212 1425h2v2h-2zM199 1458h2v2h-2zM173 1440h2v2h-2zM164 1430h2v2h-2zM166 1460h1v2h-1zM199 1449h1v2h-1zM163 1459h1v1h-1zM133 1483h2v1h-2zM183 1473h2v2h-2zM153 1452h1v1h-1zM196 1483h2v2h-2zM202 1444h1v1h-1zM145 1471h2v2h-2zM136 1472h2v2h-2zM147 1452h2v1h-2zM141 1481h2v2h-2zM181 1460h2v1h-2zM125 1439h2v2h-2zM194 1423h2v2h-2zM207 1451h2v2h-2zM192 1479h2v1h-2zM119 1463h1v1h-1zM174 1441h2v2h-2zM163 1459h2v2h-2zM186 1477h2v1h-2zM179 1473h1v2h-1zM156 1470h2v2h-2zM206 1442h1v2h-1zM137 1482h2v1h-2zM193 1484h1v2h-1zM144 1452h2v2h-2zM168 1456h1v2h-1zM138 1484h1v2h-1zM137 1472h1v2h-1zM154 1473h1v2h-1zM185 1459h1v2h-1zM195 1424h2v2h-2zM194 1436h1v1h-1zM151 1445h2v2h-2zM167 1430h2v2h-2zM134 1447h1v1h-1zM173 1453h1v2h-1zM146 1462h1v1h-1zM210 1433h2v2h-2zM145 1459h2v2h-2zM128 1447h2v2h-2zM127 1458h2v1h-2zM147 1466h2v2h-2zM158 1468h1v1h-1zM199 1479h2v1h-2zM170 1466h2v2h-2zM136 1485h2v1h-2zM199 1470h2v2h-2zM115 1442h1v2h-1zM166 1467h2v1h-2zM129 1448h2v1h-2zM148 1483h2v2h-2zM172 1484h2v1h-2zM133 1463h2v2h-2zM150 1480h2v2h-2zM165 1441h2v2h-2zM179 1434h1v1h-1zM183 1452h1v1h-1zM127 1448h2v1h-2zM150 1465h2v2h-2zM179 1481h2v2h-2zM139 1456h2v2h-2zM143 1479h1v1h-1zM182 1425h2v1h-2zM196 1426h1v1h-1zM145 1474h2v2h-2zM146 1444h1v2h-1zM204 1426h2v1h-2zM113 1445h2v2h-2zM138 1442h2v2h-2zM191 1436h1v2h-1zM152 1466h2v2h-2zM213 1449h1v1h-1zM210 1443h1v2h-1zM212 1432h2v1h-2zM133 1471h2v2h-2zM181 1463h2v2h-2zM161 1453h2v1h-2zM197 1440h1v2h-1zM203 1441h2v2h-2zM134 1469h2v2h-2zM161 1488h2v2h-2zM157 1462h2v1h-2zM193 1436h2v2h-2zM164 1454h2v2h-2zM194 1481h1v1h-1zM199 1424h2v1h-2zM124 1451h2v1h-2zM195 1435h1v1h-1zM195 1429h2v2h-2zM172 1483h1v1h-1zM179 1464h2v1h-2zM198 1429h2v2h-2zM132 1464h1v1h-1zM165 1445h2v2h-2zM134 1440h2v2h-2zM184 1484h2v2h-2zM159 1483h2v1h-2zM152 1461h2v1h-2zM146 1481h2v1h-2zM178 1452h2v2h-2zM167 1441h2v1h-2zM132 1466h2v1h-2zM144 1452h2v2h-2zM195 1442h1v1h-1zM115 1448h1v1h-1zM198 1425h2v2h-2zM128 1465h2v2h-2zM208 1452h2v1h-2zM113 1449h2v1h-2zM187 1443h2v2h-2zM190 1430h1v1h-1zM135 1446h2v1h-2z"/>
<path fill="#e83030" opacity="0.5" d="M126 1435h2v2h-2zM127 1466h1v1h-1zM133 1473h2v1h-2zM131 1468h2v2h-2zM158 1444h2v1h-2zM177 1453h1v2h-1zM163 1455h2v1h-2zM159 1482h1v2h-1zM154 1481h2v1h-2zM123 1451h2v2h-2zM148 1455h2v2h-2zM181 1439h1v2h-1zM165 1464h2v2h-2zM161 1476h2v2h-2zM165 1474h1v2h-1zM105 1439h1v1h-1zM196 1482h2v2h-2zM157 1473h2v1h-2zM144 1434h1v2h-1zM110 1438h2v2h-2zM153 1454h2v2h-2zM146 1439h2v1h-2zM149 1460h1v2h-1zM180 1451h2v2h-2zM175 1444h2v2h-2zM184 1432h2v1h-2zM179 1488h1v2h-1zM198 1432h2v1h-2zM179 1425h2v2h-2zM185 1459h2v2h-2zM191 1447h2v1h-2zM151 1477h2v2h-2zM159 1475h1v1h-1zM164 1430h1v1h-1zM176 1485h2v2h-2zM168 1470h2v1h-2zM183 1442h1v2h-1zM168 1458h1v2h-1zM156 1441h2v2h-2zM187 1441h2v2h-2zM201 1461h1v2h-1zM171 1489h2v2h-2zM163 1457h2v2h-2zM176 1459h2v1h-2zM201 1458h2v2h-2zM203 1435h1v1h-1zM133 1479h2v1h-2zM147 1478h2v1h-2zM162 1441h2v1h-2zM173 1438h2v1h-2zM205 1467h1v1h-1zM151 1453h1v2h-1zM195 1446h2v2h-2zM185 1463h2v1h-2zM195 1478h1v2h-1zM135 1459h2v1h-2zM130 1453h2v2h-2zM165 1466h2v2h-2zM146 1473h2v2h-2zM130 1446h2v1h-2zM171 1460h2v2h-2zM116 1437h1v2h-1zM185 1437h2v2h-2zM203 1433h2v1h-2zM197 1431h1v1h-1zM147 1476h2v2h-2zM143 1463h1v2h-1zM183 1471h2v2h-2zM162 1485h2v1h-2zM147 1461h2v1h-2zM178 1463h2v2h-2zM206 1421h2v2h-2zM207 1447h1v2h-1zM172 1486h2v2h-2zM195 1449h2v1h-2zM140 1476h2v1h-2zM159 1488h1v1h-1zM137 1479h1v1h-1zM135 1439h2v1h-2zM171 1464h1v2h-1zM181 1425h2v2h-2zM133 1434h2v2h-2zM116 1440h2v1h-2zM150 1442h2v2h-2zM133 1453h1v2h-1zM195 1469h2v1h-2zM183 1455h2v2h-2zM192 1442h1v2h-1zM190 1456h1v2h-1zM171 1484h2v2h-2zM191 1424h2v1h-2zM145 1434h1v2h-1zM195 1471h1v1h-1zM170 1466h2v1h-2zM184 1468h2v2h-2zM169 1462h1v1h-1zM175 1430h2v2h-2zM203 1435h1v1h-1zM211 1421h1v1h-1zM141 1452h1v1h-1zM199 1467h2v1h-2zM155 1457h2v2h-2zM205 1464h2v2h-2zM148 1477h2v2h-2zM176 1446h2v1h-2zM175 1471h2v1h-2zM119 1461h2v1h-2zM202 1466h1v2h-1zM124 1454h2v1h-2zM147 1448h1v1h-1zM157 1458h2v2h-2zM144 1487h2v2h-2zM182 1428h2v1h-2zM205 1424h2v2h-2zM190 1432h2v1h-2zM156 1452h2v2h-2zM140 1445h2v1h-2zM182 1462h1v1h-1zM139 1438h2v2h-2z"/>
<path fill="#ffb040" opacity="0.5" d="M156 1458h2v2h-2zM204 1461h1v2h-1zM208 1452h2v2h-2zM187 1428h1v1h-1zM167 1467h2v2h-2zM117 1437h2v1h-2zM188 1460h2v2h-2zM130 1468h2v2h-2zM174 1472h2v2h-2zM130 1448h1v1h-1zM175 1483h2v2h-2zM108 1443h2v1h-2zM207 1455h2v1h-2zM168 1441h2v2h-2zM195 1458h1v1h-1zM210 1451h1v1h-1zM118 1449h2v1h-2zM200 1432h2v1h-2zM112 1443h1v2h-1zM169 1456h2v1h-2zM169 1489h2v1h-2zM148 1487h2v2h-2zM176 1448h1v1h-1zM155 1471h2v1h-2zM141 1457h2v1h-2zM139 1441h2v2h-2zM152 1469h2v2h-2zM129 1435h2v1h-2zM164 1481h1v2h-1zM209 1425h1v2h-1zM116 1447h2v2h-2zM118 1450h2v1h-2zM192 1443h2v1h-2zM183 1453h2v2h-2zM175 1467h2v1h-2zM201 1448h1v1h-1zM187 1482h2v2h-2zM208 1457h2v2h-2zM205 1459h1v1h-1zM171 1457h2v1h-2zM172 1428h2v2h-2zM167 1436h1v1h-1zM211 1434h2v1h-2zM191 1452h2v2h-2zM202 1433h2v1h-2zM108 1441h2v2h-2zM136 1469h1v2h-1zM148 1442h2v1h-2zM163 1471h2v1h-2zM205 1464h2v2h-2zM175 1448h1v1h-1zM157 1450h1v1h-1zM149 1436h2v2h-2zM122 1463h2v1h-2zM205 1441h2v2h-2zM133 1466h2v2h-2zM203 1453h2v2h-2zM212 1447h1v2h-1zM188 1471h2v1h-2zM209 1456h2v2h-2zM116 1450h2v1h-2zM213 1424h1v1h-1zM152 1439h2v1h-2zM158 1481h2v1h-2zM193 1436h2v2h-2zM128 1457h1v1h-1zM194 1446h2v1h-2zM182 1429h2v2h-2zM150 1482h1v2h-1zM160 1450h2v1h-2zM198 1465h2v2h-2zM148 1459h2v2h-2zM176 1444h2v1h-2zM147 1469h2v1h-2zM160 1453h2v2h-2zM177 1426h2v2h-2zM156 1461h2v1h-2zM189 1475h2v2h-2zM195 1435h2v1h-2zM207 1454h2v1h-2zM178 1467h2v2h-2zM158 1464h2v2h-2zM154 1448h2v2h-2zM169 1485h1v2h-1zM184 1451h2v2h-2zM112 1446h2v1h-2zM162 1448h2v1h-2zM180 1433h1v2h-1zM204 1451h2v2h-2zM187 1485h2v2h-2zM168 1446h2v1h-2zM114 1446h1v2h-1zM189 1449h2v2h-2zM143 1445h1v2h-1zM160 1453h2v1h-2zM163 1457h2v1h-2zM172 1472h2v2h-2zM145 1438h2v2h-2zM214 1428h2v2h-2zM125 1451h1v2h-1zM136 1435h2v2h-2zM173 1432h2v2h-2zM176 1464h2v2h-2zM131 1453h2v2h-2zM152 1441h1v2h-1zM133 1437h2v1h-2zM178 1445h2v2h-2zM174 1441h2v2h-2zM198 1454h2v1h-2zM192 1462h2v2h-2zM209 1440h2v2h-2zM176 1456h1v2h-1zM196 1440h1v2h-1zM167 1436h2v1h-2zM157 1437h1v1h-1zM154 1468h2v1h-2zM200 1422h2v1h-2zM118 1440h1v2h-1zM181 1442h2v1h-2zM150 1477h1v1h-1z"/>
<path fill="#ff7050" opacity="0.5" d="M156 1438h2v2h-2zM128 1438h1v2h-1zM128 1447h2v1h-2zM194 1479h1v2h-1zM130 1474h2v2h-2zM169 1433h1v1h-1zM161 1460h2v2h-2zM195 1426h2v2h-2zM162 1472h2v2h-2zM136 1466h1v2h-1zM169 1432h2v2h-2zM135 1443h2v2h-2zM173 1427h2v1h-2zM135 1449h1v1h-1zM195 1450h2v2h-2zM163 1457h1v1h-1zM200 1449h2v2h-2zM175 1485h2v1h-2zM195 1446h2v2h-2zM141 1437h1v2h-1zM191 1482h1v2h-1zM188 1446h2v2h-2zM169 1431h1v1h-1zM211 1442h2v2h-2zM203 1445h2v2h-2zM129 1471h1v1h-1zM164 1429h1v1h-1zM135 1469h2v2h-2zM154 1456h2v1h-2zM175 1483h2v2h-2zM161 1432h2v2h-2zM200 1467h2v2h-2zM173 1475h2v1h-2zM183 1476h2v2h-2zM161 1465h1v1h-1zM122 1467h2v1h-2zM186 1487h1v1h-1zM139 1485h1v1h-1zM136 1485h1v1h-1zM205 1442h2v1h-2zM144 1481h1v2h-1zM151 1445h2v2h-2zM145 1468h2v2h-2zM168 1434h2v2h-2zM188 1447h2v2h-2zM176 1454h2v1h-2zM148 1435h2v1h-2zM148 1478h2v1h-2zM134 1445h2v1h-2zM162 1453h1v1h-1zM153 1435h2v2h-2zM161 1477h2v2h-2zM131 1465h2v1h-2zM164 1447h2v2h-2zM145 1486h2v1h-2zM200 1434h1v1h-1zM191 1422h1v1h-1zM143 1469h2v2h-2zM167 1479h1v1h-1zM124 1448h2v1h-2zM180 1439h1v1h-1zM148 1477h2v2h-2zM166 1470h2v2h-2zM143 1434h1v2h-1zM205 1424h1v2h-1zM207 1426h2v1h-2zM169 1488h2v1h-2zM160 1458h1v2h-1zM171 1467h2v1h-2zM182 1455h2v2h-2zM146 1470h2v1h-2zM174 1461h1v2h-1zM147 1439h2v1h-2zM118 1456h2v1h-2zM113 1441h1v2h-1zM215 1443h2v2h-2zM170 1448h2v1h-2zM210 1441h2v1h-2zM150 1454h2v1h-2zM121 1441h2v2h-2zM208 1439h2v2h-2zM138 1479h2v1h-2zM182 1472h2v2h-2zM161 1485h2v2h-2zM132 1471h2v2h-2zM130 1473h2v2h-2zM199 1446h2v2h-2zM139 1480h1v1h-1zM181 1432h2v2h-2zM175 1465h1v2h-1zM149 1458h2v2h-2zM206 1460h2v2h-2zM186 1484h1v2h-1zM142 1486h2v2h-2zM160 1446h1v1h-1zM145 1462h1v1h-1zM171 1446h1v2h-1zM143 1437h2v2h-2zM203 1444h2v2h-2zM120 1447h1v2h-1zM179 1449h1v1h-1zM162 1461h2v1h-2zM193 1457h1v2h-1zM214 1433h2v2h-2zM152 1478h2v2h-2zM137 1451h2v1h-2zM204 1470h2v1h-2zM120 1457h2v1h-2zM173 1428h2v2h-2zM151 1455h2v2h-2zM123 1459h1v2h-1zM127 1456h2v2h-2zM136 1478h2v1h-2zM122 1456h2v1h-2zM145 1450h1v1h-1z"/>
<path fill="#ff6a3a" opacity="0.5" d="M336 1459h1v1h-1zM388 1464h2v1h-2zM356 1488h2v2h-2zM379 1464h2v2h-2zM337 1470h2v1h-2zM351 1451h2v2h-2zM332 1451h2v1h-2zM387 1479h2v2h-2zM377 1457h2v1h-2zM347 1483h2v1h-2zM357 1454h1v1h-1zM376 1466h2v1h-2zM307 1451h2v2h-2zM389 1475h2v2h-2zM363 1470h1v1h-1zM354 1481h2v1h-2zM325 1481h2v1h-2zM354 1484h2v2h-2zM393 1467h2v1h-2zM340 1484h2v1h-2zM378 1476h2v2h-2zM365 1480h2v1h-2zM384 1470h1v2h-1zM334 1486h2v1h-2zM337 1452h2v2h-2zM324 1449h2v2h-2zM358 1440h2v2h-2zM370 1481h2v2h-2zM392 1446h1v2h-1zM321 1468h2v1h-2zM375 1462h1v1h-1zM371 1488h2v1h-2zM371 1455h1v1h-1zM346 1444h1v1h-1zM317 1463h2v1h-2zM379 1452h1v2h-1zM345 1447h2v1h-2zM362 1461h2v1h-2zM364 1474h2v2h-2zM319 1448h1v2h-1zM345 1460h2v2h-2zM340 1467h2v1h-2zM385 1488h2v1h-2zM316 1468h1v1h-1zM361 1455h2v2h-2zM351 1470h2v2h-2zM322 1462h1v2h-1zM337 1483h2v1h-2zM367 1476h2v1h-2zM383 1460h2v1h-2zM389 1474h1v1h-1zM352 1473h1v1h-1zM352 1454h2v2h-2zM320 1455h1v2h-1zM386 1472h2v1h-2zM376 1470h2v1h-2zM353 1444h1v1h-1zM321 1469h1v1h-1zM344 1465h1v2h-1zM381 1450h2v1h-2zM341 1468h2v2h-2zM364 1444h2v2h-2zM332 1462h2v2h-2zM383 1462h1v2h-1zM364 1477h1v1h-1zM396 1466h2v1h-2zM341 1445h2v1h-2zM353 1451h2v1h-2zM341 1477h1v2h-1zM328 1444h1v1h-1zM355 1457h1v2h-1zM320 1489h1v1h-1zM363 1466h1v2h-1zM371 1476h2v2h-2zM329 1456h1v1h-1zM331 1480h2v1h-2zM344 1440h2v2h-2zM356 1447h2v2h-2zM366 1477h2v2h-2zM359 1455h1v2h-1zM364 1454h2v2h-2zM372 1465h1v2h-1zM370 1470h2v2h-2zM320 1457h2v1h-2zM363 1479h1v2h-1zM383 1447h1v1h-1zM336 1480h2v2h-2zM321 1478h1v2h-1zM352 1439h1v2h-1zM366 1462h2v1h-2zM331 1446h2v1h-2zM324 1455h1v1h-1zM320 1473h2v1h-2zM368 1470h1v1h-1zM321 1445h1v1h-1zM350 1443h1v1h-1zM330 1447h1v2h-1zM385 1455h1v1h-1zM364 1446h2v2h-2zM370 1475h1v2h-1zM343 1447h2v2h-2z"/>
<path fill="#ff9a40" opacity="0.5" d="M356 1472h2v1h-2zM337 1449h1v2h-1zM346 1472h2v2h-2zM367 1440h2v1h-2zM348 1466h1v2h-1zM368 1461h2v2h-2zM386 1459h1v1h-1zM359 1484h2v1h-2zM339 1476h1v2h-1zM350 1461h1v2h-1zM338 1452h2v1h-2zM361 1481h2v2h-2zM338 1454h2v2h-2zM379 1447h2v1h-2zM355 1454h2v2h-2zM331 1481h1v1h-1zM317 1449h2v2h-2zM331 1484h1v2h-1zM314 1448h2v2h-2zM360 1445h1v2h-1zM383 1488h2v1h-2zM355 1478h2v1h-2zM350 1479h2v2h-2zM367 1468h2v2h-2zM382 1467h2v1h-2zM386 1464h2v2h-2zM393 1470h2v2h-2zM354 1459h1v2h-1zM370 1447h2v1h-2zM368 1475h1v1h-1zM383 1457h2v2h-2zM369 1472h1v2h-1zM363 1452h2v1h-2zM328 1485h2v2h-2zM385 1488h2v2h-2zM355 1443h2v2h-2zM361 1460h1v2h-1zM368 1459h1v2h-1zM392 1460h2v2h-2zM351 1452h2v1h-2zM306 1460h2v1h-2zM385 1451h2v2h-2zM364 1464h2v1h-2zM356 1471h1v1h-1zM387 1444h2v2h-2zM323 1484h2v1h-2zM375 1461h2v1h-2zM333 1453h1v1h-1zM381 1454h2v2h-2zM377 1486h2v1h-2zM342 1478h1v2h-1zM312 1480h1v2h-1zM362 1447h1v1h-1zM332 1481h1v1h-1zM379 1479h1v2h-1zM344 1472h1v1h-1zM345 1455h2v2h-2zM375 1488h2v1h-2zM344 1465h2v1h-2zM307 1469h2v1h-2zM346 1446h1v1h-1zM384 1457h2v1h-2zM316 1445h2v1h-2zM359 1486h1v2h-1zM389 1452h1v1h-1zM345 1442h1v1h-1zM334 1448h2v1h-2zM392 1455h2v1h-2zM372 1479h2v2h-2zM352 1486h1v2h-1zM371 1485h2v1h-2zM349 1459h2v1h-2zM361 1474h2v2h-2zM314 1458h2v2h-2zM310 1453h1v1h-1zM321 1467h1v2h-1zM381 1444h1v2h-1zM365 1475h2v1h-2zM344 1451h2v1h-2zM376 1468h2v1h-2zM312 1453h2v2h-2zM334 1488h1v1h-1zM388 1469h2v1h-2zM334 1469h1v1h-1z"/>
<path fill="#e84030" opacity="0.5" d="M349 1472h1v1h-1zM366 1456h2v1h-2zM334 1451h2v2h-2zM355 1447h1v1h-1zM330 1477h1v2h-1zM351 1439h2v2h-2zM311 1467h2v1h-2zM338 1442h1v1h-1zM352 1445h1v1h-1zM361 1446h2v2h-2zM330 1483h2v2h-2zM375 1482h2v1h-2zM321 1446h2v2h-2zM320 1477h2v2h-2zM336 1441h1v1h-1zM350 1445h1v1h-1zM386 1486h2v2h-2zM350 1443h1v1h-1zM371 1464h2v1h-2zM377 1458h2v1h-2zM381 1459h1v1h-1zM329 1487h2v1h-2zM367 1452h1v1h-1zM384 1471h2v1h-2zM380 1476h2v2h-2zM325 1487h2v1h-2zM350 1459h1v1h-1zM334 1441h2v1h-2zM348 1478h2v2h-2zM365 1449h2v1h-2zM355 1447h2v2h-2zM329 1458h2v2h-2zM339 1454h1v2h-1zM395 1459h2v2h-2zM316 1452h2v1h-2zM382 1461h2v1h-2zM338 1454h1v1h-1zM352 1450h2v2h-2zM386 1487h2v1h-2zM359 1486h1v2h-1zM346 1473h1v1h-1zM383 1464h1v1h-1zM357 1482h1v1h-1zM367 1471h2v1h-2zM387 1452h2v1h-2zM335 1462h2v2h-2zM364 1461h2v2h-2zM344 1466h2v1h-2zM319 1453h2v1h-2zM382 1457h2v1h-2zM369 1464h2v1h-2zM326 1466h2v2h-2zM361 1473h2v2h-2zM361 1450h2v2h-2zM367 1445h2v2h-2zM356 1441h1v2h-1zM308 1459h2v1h-2zM313 1470h2v1h-2zM380 1454h2v2h-2zM332 1472h2v1h-2zM342 1471h1v1h-1zM349 1484h1v1h-1zM377 1451h1v2h-1zM383 1447h1v2h-1zM356 1476h2v1h-2zM350 1478h2v2h-2zM354 1483h2v1h-2zM352 1480h2v2h-2zM318 1470h1v2h-1zM322 1447h1v1h-1zM354 1456h2v1h-2zM374 1471h1v2h-1zM332 1469h2v1h-2zM325 1470h2v2h-2zM387 1477h2v1h-2zM383 1481h2v1h-2zM319 1454h1v2h-1zM368 1487h1v1h-1zM309 1454h2v2h-2zM315 1455h1v2h-1zM329 1443h1v2h-1zM373 1462h2v1h-2zM359 1450h1v2h-1zM317 1470h1v1h-1zM335 1487h2v1h-2zM314 1481h2v1h-2zM392 1462h1v2h-1zM388 1478h2v1h-2zM381 1446h2v2h-2zM360 1470h1v1h-1zM309 1452h1v1h-1zM321 1479h2v1h-2zM336 1474h2v2h-2zM327 1441h2v2h-2zM341 1442h2v1h-2zM338 1439h2v2h-2zM389 1453h2v2h-2z"/>
<path fill="#ffb050" opacity="0.5" d="M340 1452h2v2h-2zM314 1469h2v1h-2zM337 1461h1v2h-1zM331 1444h2v1h-2zM310 1455h2v1h-2zM330 1478h2v1h-2zM354 1474h2v1h-2zM334 1473h2v1h-2zM343 1474h2v1h-2zM318 1463h2v1h-2zM390 1469h2v2h-2zM361 1478h2v2h-2zM337 1477h2v1h-2zM368 1465h1v1h-1zM317 1458h2v1h-2zM363 1458h2v1h-2zM367 1460h2v1h-2zM337 1450h1v1h-1zM378 1470h2v1h-2zM349 1475h2v1h-2zM340 1482h2v2h-2zM361 1444h2v1h-2zM344 1443h1v2h-1zM360 1467h2v1h-2zM388 1485h1v2h-1zM319 1455h1v1h-1zM347 1486h2v1h-2zM381 1445h1v1h-1zM320 1444h2v1h-2zM350 1456h1v2h-1zM388 1461h2v2h-2zM319 1461h2v2h-2zM392 1469h2v2h-2zM352 1460h2v1h-2zM310 1462h2v1h-2zM388 1482h2v2h-2zM356 1446h2v2h-2zM312 1446h1v1h-1zM320 1460h2v2h-2zM388 1458h2v1h-2zM386 1446h1v2h-1zM306 1448h2v1h-2zM313 1455h1v1h-1zM327 1448h1v2h-1zM374 1456h1v2h-1zM321 1460h2v1h-2zM383 1467h2v2h-2zM350 1479h2v2h-2zM337 1488h1v1h-1zM361 1487h2v1h-2zM337 1448h1v2h-1zM340 1444h2v2h-2zM386 1461h1v1h-1zM331 1479h1v2h-1zM347 1454h1v2h-1zM318 1480h2v2h-2zM377 1476h1v2h-1zM380 1460h2v2h-2zM384 1481h1v1h-1zM351 1460h1v1h-1zM392 1444h2v2h-2zM343 1463h2v1h-2zM379 1470h2v1h-2zM352 1451h2v2h-2zM388 1458h2v2h-2zM366 1440h2v1h-2zM368 1443h2v1h-2zM316 1463h1v1h-1zM346 1452h1v2h-1zM381 1487h1v1h-1zM366 1441h2v2h-2zM387 1449h2v1h-2zM363 1484h1v1h-1zM341 1462h2v2h-2zM316 1464h1v2h-1zM343 1477h2v2h-2zM370 1459h1v2h-1zM356 1460h2v1h-2zM357 1450h2v2h-2zM390 1471h1v1h-1zM337 1463h1v2h-1zM345 1446h1v2h-1zM340 1482h2v1h-2zM344 1469h2v2h-2zM378 1466h1v2h-1zM322 1472h1v2h-1zM361 1465h2v1h-2zM355 1456h2v2h-2zM366 1463h1v1h-1zM368 1448h2v1h-2zM330 1462h1v2h-1zM351 1481h2v2h-2zM375 1480h2v2h-2zM335 1455h1v2h-1zM344 1443h2v1h-2zM385 1461h2v1h-2zM336 1452h2v2h-2zM373 1441h2v2h-2z"/>
<path fill="#3ccf6a" opacity="0.5" d="M145 1460h2v2h-2zM160 1460h2v1h-2zM201 1452h2v2h-2zM470 1412h1v2h-1zM291 1445h1v2h-1zM188 1444h1v2h-1zM364 1432h2v2h-2zM479 1406h2v2h-2zM391 1466h1v1h-1zM162 1437h2v2h-2zM114 1440h2v2h-2zM156 1473h1v1h-1zM102 1434h1v2h-1zM269 1404h1v1h-1zM320 1450h1v2h-1zM323 1433h1v1h-1zM367 1442h2v2h-2zM233 1436h2v2h-2zM407 1446h1v2h-1zM175 1450h2v1h-2zM215 1454h2v1h-2zM118 1460h2v2h-2zM151 1457h2v2h-2zM156 1445h2v2h-2zM193 1459h1v1h-1zM350 1480h1v1h-1zM271 1457h1v1h-1zM184 1478h1v2h-1zM204 1446h1v2h-1zM212 1450h2v1h-2zM319 1438h2v2h-2zM184 1437h1v2h-1zM292 1454h1v1h-1zM384 1441h1v1h-1zM241 1412h2v1h-2zM304 1409h2v2h-2zM347 1425h1v2h-1zM147 1480h1v1h-1zM305 1414h1v1h-1zM268 1410h2v2h-2zM313 1478h1v2h-1zM201 1459h1v1h-1zM158 1487h1v2h-1zM351 1479h2v1h-2zM191 1446h1v1h-1zM362 1456h1v2h-1zM374 1474h1v2h-1zM186 1424h1v2h-1zM202 1456h1v1h-1zM185 1484h1v2h-1zM375 1453h1v1h-1zM195 1451h1v1h-1zM333 1429h1v1h-1zM313 1475h1v2h-1zM356 1486h2v2h-2zM132 1447h2v2h-2zM397 1432h1v1h-1zM267 1434h1v1h-1zM403 1448h2v2h-2zM107 1429h2v1h-2zM148 1432h1v1h-1zM225 1407h1v1h-1zM364 1444h1v1h-1zM272 1458h1v1h-1zM357 1440h1v2h-1zM152 1461h1v2h-1zM162 1468h1v1h-1zM118 1459h1v1h-1zM238 1425h2v2h-2zM114 1452h1v1h-1zM280 1434h2v2h-2zM322 1447h2v2h-2zM401 1455h2v2h-2zM317 1418h1v2h-1zM316 1462h1v1h-1zM355 1432h1v2h-1zM238 1400h1v1h-1zM244 1419h2v1h-2zM163 1482h2v2h-2zM230 1461h1v1h-1zM327 1449h1v1h-1zM238 1434h1v2h-1zM310 1436h2v1h-2zM164 1447h2v2h-2zM313 1472h1v1h-1zM349 1434h1v1h-1zM390 1468h2v1h-2zM315 1421h1v1h-1zM358 1429h1v1h-1zM129 1452h2v1h-2zM418 1427h1v2h-1zM340 1457h1v1h-1zM336 1481h1v1h-1zM438 1434h1v2h-1zM270 1401h1v1h-1zM233 1400h1v1h-1zM245 1447h1v2h-1zM318 1451h1v1h-1zM177 1456h2v1h-2zM338 1470h2v2h-2zM223 1419h1v2h-1zM260 1432h1v2h-1zM127 1473h2v2h-2zM117 1450h1v2h-1zM233 1446h2v2h-2zM207 1450h2v1h-2zM193 1478h2v2h-2zM160 1436h2v2h-2zM277 1417h2v2h-2zM420 1438h1v2h-1zM341 1462h1v1h-1zM288 1424h2v2h-2zM335 1465h2v2h-2zM217 1451h1v1h-1zM410 1433h1v2h-1zM295 1447h1v1h-1zM177 1459h1v1h-1zM149 1437h1v1h-1zM251 1440h2v1h-2zM264 1441h1v2h-1zM129 1448h2v2h-2zM267 1415h2v1h-2zM354 1447h2v1h-2zM253 1444h2v2h-2zM215 1442h2v2h-2zM144 1475h1v2h-1zM370 1441h2v1h-2zM247 1458h1v1h-1zM140 1443h2v1h-2zM202 1445h2v2h-2zM385 1484h1v1h-1zM333 1478h1v1h-1zM252 1455h1v2h-1zM343 1440h1v1h-1zM310 1447h2v1h-2zM313 1435h2v1h-2zM244 1457h2v2h-2zM149 1448h2v1h-2zM412 1443h1v2h-1zM114 1457h2v2h-2zM241 1451h2v1h-2zM197 1451h2v1h-2zM199 1461h1v2h-1zM392 1468h2v2h-2zM283 1401h2v1h-2zM320 1450h2v1h-2zM336 1485h1v2h-1zM307 1420h1v1h-1zM242 1448h1v1h-1zM327 1437h2v1h-2zM228 1403h1v2h-1zM174 1487h1v1h-1zM151 1442h1v2h-1zM274 1402h2v2h-2zM178 1456h2v1h-2zM127 1448h2v2h-2zM211 1424h2v1h-2zM422 1430h2v1h-2zM335 1445h1v1h-1zM229 1446h2v2h-2zM415 1426h2v2h-2zM127 1438h2v2h-2zM250 1435h2v1h-2zM377 1480h2v2h-2zM236 1426h2v2h-2zM188 1450h1v2h-1zM129 1446h1v2h-1zM136 1437h1v2h-1zM228 1461h1v2h-1z"/>
<path fill="#2fb05a" opacity="0.5" d="M352 1459h2v1h-2zM153 1437h1v2h-1zM112 1447h2v1h-2zM193 1477h1v2h-1zM189 1473h2v2h-2zM397 1463h1v2h-1zM285 1444h1v2h-1zM152 1474h2v2h-2zM136 1448h2v2h-2zM186 1449h2v2h-2zM182 1458h2v1h-2zM162 1441h2v1h-2zM294 1437h1v1h-1zM339 1458h2v1h-2zM398 1459h1v2h-1zM121 1465h1v1h-1zM176 1428h2v2h-2zM239 1441h2v1h-2zM190 1469h1v1h-1zM145 1442h1v1h-1zM346 1433h1v2h-1zM224 1405h2v1h-2zM255 1418h2v1h-2zM323 1463h2v2h-2zM279 1463h2v1h-2zM222 1439h1v1h-1zM143 1476h1v2h-1zM273 1449h1v2h-1zM385 1445h2v2h-2zM278 1429h1v2h-1zM370 1487h1v2h-1zM295 1415h2v1h-2zM149 1448h2v1h-2zM145 1485h2v1h-2zM370 1486h1v1h-1zM183 1459h2v1h-2zM162 1462h2v1h-2zM173 1478h2v1h-2zM345 1465h1v2h-1zM230 1429h1v2h-1zM470 1412h1v1h-1zM197 1447h2v1h-2zM317 1453h1v2h-1zM148 1487h2v2h-2zM301 1448h1v1h-1zM436 1438h2v1h-2zM291 1426h1v1h-1zM380 1473h2v1h-2zM206 1437h1v1h-1zM188 1439h2v2h-2zM161 1442h2v1h-2zM135 1483h2v2h-2zM261 1433h1v2h-1zM403 1456h1v2h-1zM335 1445h1v2h-1zM165 1465h2v1h-2zM282 1435h2v2h-2zM174 1486h2v2h-2zM339 1461h2v1h-2zM347 1438h1v2h-1zM218 1438h2v2h-2zM175 1437h2v2h-2zM189 1463h2v2h-2zM216 1458h1v1h-1zM258 1435h2v1h-2zM387 1459h2v2h-2zM151 1438h1v1h-1zM322 1478h1v1h-1zM166 1464h1v1h-1zM174 1472h1v1h-1zM215 1438h1v1h-1zM198 1480h1v2h-1zM154 1439h2v2h-2zM342 1480h2v1h-2zM207 1444h1v2h-1zM429 1427h1v2h-1zM228 1429h1v1h-1zM236 1451h2v2h-2zM109 1437h2v1h-2zM220 1447h1v1h-1zM361 1487h1v1h-1zM134 1457h2v1h-2zM431 1423h2v2h-2zM306 1416h2v2h-2zM181 1476h1v1h-1zM228 1445h1v2h-1zM199 1466h2v2h-2zM210 1437h2v2h-2zM271 1410h2v2h-2zM128 1468h2v2h-2zM348 1489h1v1h-1zM171 1442h2v2h-2zM306 1457h2v1h-2zM154 1444h1v1h-1zM276 1438h1v1h-1zM429 1435h1v2h-1zM388 1449h2v1h-2zM271 1416h1v2h-1zM372 1463h2v1h-2zM238 1453h2v1h-2zM260 1414h2v1h-2zM243 1428h2v2h-2zM329 1476h2v1h-2zM235 1458h2v2h-2zM238 1458h1v2h-1zM388 1437h1v1h-1zM138 1435h2v1h-2zM310 1461h2v1h-2zM204 1463h1v2h-1zM393 1434h2v1h-2zM192 1421h2v1h-2zM151 1466h2v2h-2zM299 1441h1v1h-1zM402 1436h2v2h-2zM239 1440h2v2h-2zM223 1460h1v1h-1zM329 1422h1v1h-1zM251 1459h2v1h-2zM216 1456h1v1h-1zM186 1431h2v2h-2zM254 1434h2v1h-2zM127 1444h1v2h-1zM315 1472h1v1h-1zM118 1443h2v1h-2zM355 1482h2v1h-2zM253 1422h1v2h-1zM290 1417h2v1h-2zM334 1450h1v1h-1zM448 1426h2v2h-2zM182 1448h1v2h-1zM208 1466h1v1h-1zM257 1417h1v2h-1zM217 1423h2v2h-2zM202 1421h2v1h-2zM330 1484h2v1h-2zM110 1452h1v1h-1zM384 1441h1v2h-1zM347 1457h1v2h-1zM111 1443h2v2h-2zM329 1460h2v2h-2zM147 1450h2v2h-2zM344 1457h2v1h-2zM310 1477h2v1h-2zM325 1425h2v1h-2zM183 1436h1v1h-1zM113 1435h1v1h-1zM314 1469h2v1h-2zM117 1433h1v1h-1zM216 1430h2v2h-2zM198 1441h2v2h-2zM152 1438h2v1h-2zM392 1459h1v2h-1zM359 1427h2v2h-2zM325 1441h1v1h-1zM289 1429h2v1h-2zM200 1443h1v2h-1zM209 1432h1v1h-1zM188 1476h1v2h-1zM192 1467h1v2h-1zM276 1445h2v1h-2zM160 1436h1v2h-1zM348 1459h1v1h-1zM238 1439h2v1h-2zM271 1430h2v1h-2zM405 1455h2v2h-2zM294 1439h1v2h-1zM317 1415h2v1h-2zM345 1462h2v2h-2z"/>
<path fill="#7fdc5a" opacity="0.5" d="M128 1470h2v2h-2zM382 1447h1v2h-1zM175 1476h2v2h-2zM302 1410h1v1h-1zM282 1459h2v1h-2zM235 1420h1v2h-1zM284 1448h1v2h-1zM377 1477h2v1h-2zM192 1475h1v2h-1zM395 1442h1v2h-1zM294 1450h2v2h-2zM313 1455h1v1h-1zM131 1469h1v1h-1zM364 1436h1v2h-1zM284 1400h2v1h-2zM254 1405h1v1h-1zM239 1415h1v1h-1zM352 1483h2v2h-2zM333 1441h2v1h-2zM259 1427h1v1h-1zM417 1447h1v2h-1zM294 1425h1v2h-1zM209 1424h1v1h-1zM375 1439h2v1h-2zM352 1467h1v1h-1zM110 1440h2v2h-2zM338 1431h1v2h-1zM277 1425h2v1h-2zM276 1427h2v2h-2zM242 1403h1v2h-1zM283 1441h2v1h-2zM107 1430h1v2h-1zM257 1416h2v1h-2zM154 1487h1v1h-1zM140 1449h1v2h-1zM112 1442h1v2h-1zM317 1438h2v1h-2zM462 1408h1v1h-1zM383 1467h1v2h-1zM155 1439h2v2h-2zM208 1424h1v2h-1zM371 1455h2v1h-2zM357 1463h1v2h-1zM425 1433h1v2h-1zM314 1448h2v2h-2zM236 1437h1v2h-1zM210 1453h2v1h-2zM276 1431h1v1h-1zM297 1451h1v1h-1zM249 1440h1v2h-1zM108 1452h1v1h-1zM399 1448h1v2h-1zM415 1441h1v2h-1zM270 1445h1v2h-1zM364 1445h1v2h-1zM310 1440h2v1h-2zM290 1407h1v2h-1zM347 1428h2v2h-2zM197 1439h1v2h-1zM324 1439h1v1h-1zM355 1445h2v2h-2zM312 1449h1v1h-1zM337 1448h1v1h-1zM317 1481h1v1h-1zM288 1466h1v2h-1zM216 1427h2v1h-2zM158 1458h2v1h-2zM333 1462h1v1h-1zM105 1439h2v1h-2zM256 1409h2v1h-2zM316 1467h1v2h-1zM168 1444h1v2h-1zM153 1463h1v1h-1zM300 1417h2v1h-2zM304 1411h2v1h-2zM311 1457h1v2h-1zM285 1421h1v2h-1zM331 1483h2v1h-2zM449 1424h2v2h-2zM395 1448h2v2h-2zM289 1454h2v2h-2zM357 1453h2v2h-2zM302 1421h2v1h-2zM155 1476h2v1h-2zM305 1427h1v1h-1zM180 1440h1v2h-1zM395 1452h1v1h-1zM469 1413h2v2h-2zM352 1482h1v2h-1zM280 1399h2v1h-2zM214 1447h1v2h-1zM145 1473h1v1h-1zM158 1468h1v1h-1zM157 1437h2v1h-2zM160 1487h2v1h-2zM475 1408h1v1h-1zM177 1481h1v1h-1zM283 1449h1v1h-1zM230 1432h2v2h-2zM365 1465h2v2h-2zM378 1477h1v2h-1zM381 1445h1v2h-1zM384 1481h2v1h-2zM109 1435h2v2h-2zM271 1447h2v1h-2zM245 1430h2v1h-2zM258 1406h2v1h-2zM389 1455h2v1h-2zM305 1434h1v2h-1zM137 1460h2v2h-2zM338 1449h2v1h-2zM155 1439h2v1h-2zM380 1437h2v2h-2zM261 1454h1v2h-1zM347 1453h1v1h-1zM290 1434h1v1h-1zM204 1464h1v2h-1zM252 1435h2v1h-2zM234 1413h2v2h-2zM364 1483h2v2h-2zM282 1441h1v2h-1zM206 1427h2v2h-2zM329 1455h1v1h-1zM145 1487h1v1h-1zM274 1424h2v2h-2zM210 1417h2v1h-2zM229 1428h2v1h-2zM381 1475h1v2h-1zM211 1460h1v1h-1zM385 1457h2v2h-2zM276 1449h1v2h-1zM418 1441h2v2h-2zM304 1470h1v2h-1zM402 1458h1v2h-1zM300 1450h2v1h-2zM255 1432h2v1h-2zM329 1454h1v2h-1zM327 1438h2v2h-2zM228 1456h2v2h-2zM331 1425h2v2h-2zM250 1455h2v1h-2zM223 1445h2v2h-2zM243 1441h1v2h-1zM309 1447h2v1h-2zM284 1411h1v2h-1zM219 1408h2v2h-2zM327 1424h2v1h-2zM211 1433h2v2h-2zM344 1474h2v2h-2zM362 1455h1v1h-1zM225 1454h1v1h-1zM212 1441h1v2h-1zM171 1471h1v2h-1zM354 1476h2v2h-2zM196 1459h2v1h-2zM242 1405h2v2h-2zM231 1424h2v1h-2zM229 1428h2v2h-2zM321 1477h1v2h-1zM352 1432h2v1h-2zM346 1447h1v1h-1zM207 1473h2v1h-2zM203 1460h2v2h-2zM251 1458h2v1h-2z"/>
<path fill="#c0a040" opacity="0.5" d="M196 1475h2v2h-2zM437 1418h2v2h-2zM263 1427h1v2h-1zM181 1426h1v1h-1zM255 1433h1v2h-1zM292 1450h1v2h-1zM303 1424h2v2h-2zM417 1439h2v2h-2zM232 1437h1v1h-1zM252 1434h1v1h-1zM170 1481h2v1h-2zM175 1465h2v1h-2zM333 1421h2v1h-2zM341 1463h2v2h-2zM199 1463h2v2h-2zM403 1451h1v2h-1zM385 1429h2v2h-2zM114 1445h2v1h-2zM388 1466h1v1h-1zM363 1486h2v1h-2zM235 1451h2v1h-2zM429 1434h2v2h-2zM364 1485h1v1h-1zM358 1441h2v1h-2zM303 1417h1v1h-1zM249 1409h1v2h-1zM132 1448h2v1h-2zM293 1449h1v1h-1zM163 1472h1v2h-1zM180 1448h1v1h-1zM284 1447h1v2h-1zM243 1444h2v2h-2zM161 1477h1v2h-1zM429 1433h1v1h-1zM324 1451h2v1h-2zM303 1473h2v1h-2zM142 1437h1v1h-1zM373 1486h1v1h-1zM139 1451h2v1h-2zM170 1471h2v1h-2zM363 1443h1v2h-1zM387 1459h2v2h-2zM310 1451h1v2h-1zM178 1455h1v2h-1zM214 1461h2v1h-2zM302 1408h1v1h-1zM273 1438h1v2h-1zM294 1467h2v1h-2zM202 1480h2v1h-2zM164 1475h1v2h-1zM340 1482h1v2h-1zM301 1468h2v1h-2zM416 1442h2v1h-2zM310 1414h2v2h-2zM215 1440h2v1h-2zM256 1424h2v2h-2zM138 1454h1v1h-1zM145 1436h1v2h-1zM474 1407h2v2h-2zM384 1459h1v1h-1zM234 1459h1v1h-1zM284 1452h1v2h-1zM251 1455h1v1h-1zM395 1451h1v1h-1zM358 1426h1v1h-1zM296 1456h1v1h-1zM333 1460h2v2h-2zM253 1427h2v2h-2zM319 1427h1v2h-1zM421 1446h1v1h-1zM420 1436h2v2h-2zM175 1488h1v2h-1zM156 1476h1v2h-1zM211 1470h2v2h-2zM380 1466h2v2h-2zM363 1448h2v1h-2zM212 1460h1v1h-1zM196 1426h2v1h-2zM119 1464h2v2h-2zM369 1475h1v1h-1zM420 1445h1v1h-1zM132 1459h1v1h-1zM445 1428h1v1h-1zM140 1437h1v1h-1zM184 1446h2v1h-2zM335 1448h2v1h-2zM242 1439h2v2h-2zM152 1436h2v1h-2zM252 1417h1v2h-1zM117 1436h1v1h-1zM371 1433h2v2h-2zM361 1426h2v2h-2zM268 1441h1v1h-1zM330 1453h2v2h-2zM332 1488h2v2h-2zM152 1472h1v1h-1zM154 1452h1v2h-1zM241 1439h2v1h-2zM202 1453h1v1h-1zM213 1416h1v1h-1zM374 1445h2v2h-2zM254 1458h1v2h-1zM485 1400h2v1h-2zM288 1445h1v1h-1zM147 1480h1v1h-1zM375 1461h2v1h-2zM264 1413h1v1h-1zM135 1429h2v2h-2zM145 1454h1v1h-1zM454 1417h2v1h-2zM307 1427h2v2h-2zM448 1421h1v1h-1zM378 1445h1v2h-1zM396 1437h1v1h-1zM117 1456h2v2h-2zM201 1459h1v2h-1zM108 1442h2v1h-2zM146 1453h1v2h-1zM152 1489h2v1h-2zM355 1445h1v2h-1zM126 1433h1v2h-1zM180 1486h2v1h-2zM374 1446h1v2h-1zM364 1467h2v1h-2zM178 1439h1v1h-1zM376 1450h1v1h-1zM320 1417h1v2h-1zM340 1420h1v1h-1zM164 1437h2v2h-2zM271 1447h1v2h-1zM341 1466h2v1h-2zM418 1437h1v1h-1zM261 1433h1v1h-1zM412 1451h1v2h-1zM317 1474h2v1h-2zM124 1472h2v1h-2zM138 1473h2v2h-2zM243 1440h1v1h-1zM314 1470h1v1h-1zM299 1416h2v1h-2zM397 1433h2v1h-2zM130 1448h2v1h-2zM298 1434h1v2h-1zM307 1421h1v1h-1zM196 1429h2v2h-2zM150 1475h2v2h-2zM384 1489h2v2h-2zM460 1414h2v1h-2zM137 1432h2v1h-2zM398 1445h2v2h-2zM344 1486h1v2h-1zM370 1436h2v2h-2zM204 1447h1v2h-1zM268 1444h2v1h-2zM350 1439h1v2h-1zM391 1442h2v1h-2zM433 1421h2v2h-2z"/>
<path fill="#30a0a0" opacity="0.5" d="M353 1429h2v2h-2zM195 1440h1v2h-1zM322 1448h1v1h-1zM189 1443h1v2h-1zM110 1451h1v1h-1zM264 1452h2v2h-2zM221 1412h2v2h-2zM134 1443h2v2h-2zM269 1450h1v2h-1zM115 1454h2v1h-2zM251 1412h1v1h-1zM351 1437h1v2h-1zM379 1459h1v2h-1zM304 1437h1v1h-1zM371 1471h1v1h-1zM340 1445h2v2h-2zM206 1451h1v1h-1zM134 1443h1v2h-1zM398 1443h1v1h-1zM380 1466h1v2h-1zM399 1437h1v1h-1zM336 1435h1v2h-1zM326 1439h2v2h-2zM140 1436h2v1h-2zM469 1412h1v1h-1zM281 1457h1v2h-1zM182 1430h2v2h-2zM231 1421h2v1h-2zM125 1450h1v1h-1zM359 1429h1v1h-1zM281 1452h1v2h-1zM347 1477h1v1h-1zM145 1481h2v1h-2zM154 1457h2v2h-2zM357 1456h2v1h-2zM294 1409h2v2h-2zM309 1475h2v1h-2zM240 1438h1v2h-1zM331 1451h2v2h-2zM351 1434h2v2h-2zM208 1428h1v2h-1zM389 1460h1v2h-1zM315 1417h1v1h-1zM349 1466h1v2h-1zM281 1431h2v2h-2zM372 1430h1v2h-1zM161 1445h1v1h-1zM433 1434h1v2h-1zM126 1474h2v1h-2zM367 1435h1v2h-1zM319 1441h2v2h-2zM320 1465h2v2h-2zM324 1474h2v1h-2zM184 1449h1v2h-1zM269 1419h2v2h-2zM235 1433h2v1h-2zM294 1439h2v1h-2zM182 1440h2v1h-2zM326 1468h1v2h-1zM180 1437h2v2h-2zM191 1475h2v1h-2zM136 1431h2v2h-2zM193 1457h2v1h-2zM383 1476h2v2h-2zM335 1487h2v1h-2zM425 1436h1v1h-1zM370 1473h2v2h-2zM141 1479h2v2h-2zM294 1448h1v2h-1zM213 1460h1v1h-1zM127 1447h1v1h-1zM382 1466h1v1h-1zM358 1429h2v2h-2zM317 1415h2v1h-2zM407 1442h2v2h-2zM223 1440h2v2h-2zM126 1466h2v1h-2zM184 1480h1v1h-1zM141 1485h2v1h-2zM292 1406h1v1h-1zM250 1452h2v2h-2zM239 1452h2v1h-2zM248 1436h2v1h-2zM160 1469h2v1h-2zM235 1449h2v1h-2zM256 1431h2v1h-2zM214 1421h1v1h-1zM203 1479h1v1h-1zM351 1439h2v1h-2zM404 1431h2v1h-2zM314 1479h1v1h-1zM241 1417h1v2h-1zM359 1475h2v1h-2zM216 1450h1v1h-1zM379 1442h1v1h-1zM311 1457h1v1h-1zM160 1468h1v1h-1zM293 1415h1v1h-1zM210 1421h2v1h-2zM110 1428h1v2h-1zM119 1442h1v1h-1zM343 1427h1v2h-1zM447 1425h2v1h-2zM335 1434h1v1h-1zM348 1443h1v2h-1zM130 1434h1v1h-1zM374 1439h1v1h-1zM324 1461h2v1h-2zM364 1460h1v2h-1zM151 1466h2v1h-2zM112 1452h1v1h-1zM351 1433h2v1h-2zM261 1413h2v2h-2zM203 1436h1v1h-1zM320 1424h1v2h-1zM204 1416h1v2h-1zM202 1473h1v2h-1zM301 1425h1v2h-1zM262 1433h2v2h-2zM263 1434h1v1h-1zM301 1444h1v2h-1zM183 1436h2v1h-2zM346 1462h2v1h-2zM356 1451h1v2h-1zM356 1477h1v1h-1zM148 1436h2v1h-2zM316 1423h1v2h-1zM115 1450h2v1h-2zM209 1436h2v2h-2zM188 1439h1v1h-1zM132 1444h2v1h-2zM100 1428h2v1h-2zM237 1431h2v2h-2zM420 1425h1v2h-1zM160 1485h2v2h-2zM218 1433h2v2h-2zM221 1408h2v1h-2zM339 1475h2v2h-2zM203 1468h1v2h-1zM222 1412h1v2h-1zM174 1437h1v2h-1zM293 1461h2v1h-2zM340 1476h1v1h-1zM439 1429h2v1h-2zM373 1430h1v1h-1zM229 1418h1v1h-1zM352 1428h2v1h-2zM162 1483h1v2h-1zM293 1420h2v2h-2zM204 1435h1v2h-1zM125 1434h1v2h-1zM342 1458h2v2h-2zM357 1486h2v1h-2zM348 1462h1v1h-1zM395 1443h1v2h-1zM189 1480h2v2h-2zM241 1452h1v1h-1zM183 1445h2v1h-2zM100 1429h1v1h-1zM309 1462h2v1h-2zM268 1412h2v1h-2zM339 1429h2v2h-2zM253 1415h2v1h-2zM235 1426h1v2h-1zM139 1488h2v1h-2zM318 1417h2v2h-2zM227 1418h1v1h-1zM261 1408h1v1h-1zM388 1462h2v1h-2zM440 1426h2v1h-2zM302 1458h2v1h-2zM302 1430h1v2h-1zM455 1425h1v2h-1zM124 1472h1v1h-1zM298 1426h2v2h-2zM368 1470h2v1h-2zM167 1444h1v1h-1zM343 1447h2v2h-2zM462 1411h1v1h-1z"/>
<path fill="#50e080" opacity="0.5" d="M197 1460h2v2h-2zM367 1448h2v1h-2zM239 1405h2v1h-2zM161 1479h1v1h-1zM340 1474h2v2h-2zM248 1442h1v1h-1zM322 1436h1v1h-1zM376 1443h1v2h-1zM329 1433h1v2h-1zM151 1455h2v2h-2zM396 1440h2v2h-2zM334 1481h2v1h-2zM210 1443h2v1h-2zM143 1454h1v1h-1zM219 1421h1v2h-1zM121 1458h2v2h-2zM157 1458h2v2h-2zM167 1460h1v2h-1zM271 1425h2v1h-2zM134 1457h2v1h-2zM299 1437h2v1h-2zM177 1451h1v1h-1zM338 1481h1v1h-1zM111 1448h1v1h-1zM146 1479h2v1h-2zM360 1482h1v2h-1zM249 1431h2v2h-2zM334 1486h1v2h-1zM276 1457h2v1h-2zM251 1450h1v1h-1zM223 1429h2v1h-2zM183 1438h1v2h-1zM152 1484h1v1h-1zM251 1455h1v2h-1zM270 1448h1v2h-1zM478 1404h1v1h-1zM292 1415h1v2h-1zM282 1446h2v1h-2zM282 1436h1v1h-1zM329 1436h2v1h-2zM222 1425h1v1h-1zM330 1443h1v1h-1zM269 1425h2v2h-2zM145 1462h1v1h-1zM147 1448h1v2h-1zM357 1488h2v2h-2zM380 1448h1v2h-1zM257 1415h2v1h-2zM255 1406h2v2h-2zM145 1461h2v2h-2zM150 1433h2v2h-2zM259 1407h2v1h-2zM348 1448h2v1h-2zM154 1482h2v2h-2zM359 1473h2v1h-2zM297 1459h1v2h-1zM322 1470h2v1h-2zM387 1441h1v1h-1zM111 1443h1v1h-1zM371 1462h2v1h-2zM191 1488h1v1h-1zM251 1403h2v2h-2zM227 1439h1v2h-1zM319 1417h1v1h-1zM154 1441h1v1h-1zM273 1407h1v1h-1zM275 1440h2v2h-2zM263 1438h2v1h-2zM123 1456h2v1h-2zM137 1471h1v1h-1zM231 1415h1v2h-1zM292 1460h2v1h-2zM317 1474h1v1h-1zM176 1467h2v2h-2zM260 1420h1v1h-1zM215 1424h1v1h-1zM377 1438h2v2h-2zM409 1433h1v2h-1zM384 1488h1v1h-1zM252 1446h2v1h-2zM268 1415h1v2h-1zM409 1444h1v1h-1zM189 1459h2v2h-2zM458 1420h1v2h-1zM331 1451h1v1h-1zM195 1474h1v1h-1zM252 1418h2v2h-2zM252 1455h1v1h-1zM221 1423h1v1h-1zM199 1460h2v2h-2zM130 1467h2v2h-2zM214 1442h1v1h-1zM210 1455h2v2h-2zM338 1430h1v1h-1zM275 1438h1v1h-1zM236 1434h1v1h-1zM464 1419h1v1h-1zM315 1446h2v2h-2zM327 1431h2v1h-2zM247 1431h2v2h-2zM242 1416h2v2h-2zM305 1416h1v2h-1zM284 1455h1v1h-1zM142 1446h2v2h-2zM197 1461h1v1h-1zM189 1425h1v1h-1zM320 1420h2v2h-2zM257 1435h1v2h-1zM348 1479h2v1h-2zM241 1404h2v2h-2zM305 1458h1v2h-1zM127 1467h1v1h-1zM408 1454h2v2h-2zM307 1414h2v1h-2zM181 1468h2v1h-2zM346 1436h1v2h-1zM175 1468h1v2h-1zM385 1485h2v1h-2zM261 1413h2v2h-2zM231 1410h1v2h-1zM361 1432h1v1h-1zM346 1483h2v2h-2zM433 1434h1v1h-1zM249 1404h2v1h-2zM197 1451h1v1h-1zM191 1435h1v1h-1zM192 1445h2v1h-2zM297 1442h2v2h-2zM390 1430h2v2h-2zM357 1486h2v2h-2zM388 1456h1v2h-1zM261 1427h1v1h-1zM190 1424h1v2h-1zM353 1448h1v2h-1zM154 1462h2v1h-2zM129 1453h2v2h-2zM449 1421h2v1h-2zM208 1442h1v1h-1zM377 1475h2v1h-2zM345 1422h2v2h-2zM381 1478h2v1h-2zM132 1462h1v2h-1zM112 1439h2v1h-2zM196 1446h1v2h-1zM258 1442h2v2h-2zM264 1451h2v1h-2zM408 1435h1v1h-1zM203 1417h2v2h-2zM446 1424h1v2h-1zM111 1429h1v1h-1zM248 1412h1v1h-1zM463 1408h1v1h-1zM238 1455h2v2h-2zM167 1434h2v2h-2zM155 1484h2v2h-2zM459 1422h1v1h-1zM266 1423h1v2h-1zM221 1436h2v2h-2zM403 1445h1v2h-1zM148 1486h1v1h-1zM239 1443h1v1h-1zM142 1481h1v2h-1zM176 1468h2v1h-2z"/>
<path fill="#50e070" opacity="0.8" d="M107 1455h2v2h-2zM38 1406h2v2h-2zM59 1410h2v2h-2zM72 1431h2v1h-2zM49 1411h1v1h-1zM98 1449h1v2h-1zM93 1446h2v2h-2zM69 1420h2v2h-2zM65 1417h2v2h-2zM96 1449h2v2h-2zM35 1404h1v1h-1zM62 1421h2v1h-2zM62 1418h1v2h-1zM109 1457h1v1h-1zM31 1397h2v2h-2zM70 1425h1v1h-1zM71 1415h1v1h-1zM89 1433h2v2h-2zM48 1407h1v2h-1zM63 1424h2v2h-2zM74 1431h2v1h-2zM96 1441h2v1h-2zM52 1406h1v1h-1zM62 1412h2v1h-2zM81 1436h2v2h-2zM77 1431h1v1h-1zM40 1405h1v1h-1zM90 1434h2v1h-2zM78 1430h2v2h-2zM76 1431h2v1h-2zM94 1450h1v2h-1zM72 1419h2v2h-2zM44 1411h1v1h-1zM32 1398h2v1h-2zM72 1415h1v2h-1zM49 1405h1v2h-1zM72 1430h1v1h-1zM60 1419h1v2h-1zM66 1427h1v1h-1zM99 1456h2v1h-2zM65 1425h1v2h-1zM103 1452h2v1h-2zM52 1414h2v1h-2zM42 1408h1v2h-1zM71 1415h1v1h-1zM45 1408h1v1h-1zM36 1399h1v1h-1zM80 1420h1v2h-1zM107 1451h1v2h-1zM96 1443h2v1h-2zM73 1432h1v2h-1zM75 1423h1v1h-1zM104 1448h2v1h-2zM50 1408h1v2h-1zM107 1449h1v1h-1zM93 1437h2v1h-2zM78 1436h2v2h-2zM92 1438h2v1h-2zM95 1440h2v2h-2zM94 1447h1v1h-1zM109 1455h1v2h-1zM99 1455h1v2h-1zM60 1417h1v1h-1zM74 1426h1v1h-1zM94 1449h2v2h-2zM86 1437h2v2h-2zM110 1454h1v2h-1zM91 1433h2v2h-2z"/>
<path fill="#3cc060" opacity="0.8" d="M86 1430h1v1h-1zM83 1423h1v2h-1zM74 1422h1v1h-1zM83 1438h2v2h-2zM71 1429h1v1h-1zM57 1410h2v2h-2zM86 1438h1v2h-1zM55 1410h1v2h-1zM53 1410h2v1h-2zM32 1400h1v2h-1zM73 1415h1v2h-1zM79 1424h2v1h-2zM97 1440h2v1h-2zM52 1414h1v1h-1zM86 1430h1v1h-1zM102 1457h2v2h-2zM53 1411h1v2h-1zM43 1403h1v2h-1zM62 1421h2v1h-2zM56 1411h1v2h-1zM84 1424h1v2h-1zM86 1441h1v1h-1zM70 1418h2v1h-2zM97 1443h2v2h-2zM101 1456h1v2h-1zM96 1440h1v1h-1zM46 1402h1v1h-1zM104 1447h1v2h-1zM54 1417h1v1h-1zM70 1428h1v2h-1zM52 1408h2v1h-2zM46 1406h1v1h-1zM84 1437h2v2h-2zM63 1419h1v1h-1zM78 1436h2v2h-2zM66 1419h1v2h-1zM111 1456h2v2h-2zM67 1425h1v1h-1zM45 1405h2v2h-2zM58 1414h1v1h-1zM59 1410h1v1h-1zM37 1402h1v1h-1zM80 1424h1v2h-1zM76 1429h2v2h-2zM84 1433h1v2h-1zM82 1434h1v1h-1zM103 1456h2v2h-2zM77 1426h1v1h-1zM93 1449h2v2h-2zM91 1431h1v2h-1zM33 1400h2v1h-2zM76 1421h2v2h-2zM104 1460h1v1h-1zM49 1408h1v2h-1zM96 1448h2v2h-2zM54 1408h1v1h-1zM102 1451h1v2h-1zM105 1459h1v1h-1zM103 1445h1v1h-1zM60 1413h2v2h-2zM99 1449h1v1h-1zM80 1421h1v2h-1zM65 1416h2v1h-2zM67 1414h1v2h-1zM54 1407h2v2h-2zM43 1408h2v1h-2zM81 1430h2v1h-2zM38 1402h1v2h-1zM59 1410h2v1h-2zM70 1418h1v2h-1zM85 1430h2v1h-2zM98 1453h1v2h-1zM76 1431h1v2h-1zM45 1406h2v1h-2zM60 1419h2v2h-2zM49 1406h2v1h-2zM103 1448h2v2h-2zM88 1437h2v1h-2zM58 1408h2v2h-2zM35 1400h1v1h-1zM68 1426h1v2h-1zM73 1424h2v2h-2zM55 1411h2v1h-2zM88 1445h1v1h-1z"/>
<path fill="#80ff90" opacity="0.8" d="M52 1411h1v1h-1zM98 1442h1v1h-1zM110 1453h2v1h-2zM36 1398h1v1h-1zM79 1426h1v1h-1zM35 1402h1v2h-1zM76 1417h2v1h-2zM75 1430h1v2h-1zM74 1417h2v2h-2zM42 1407h2v2h-2zM107 1458h2v2h-2zM57 1419h1v2h-1zM48 1406h1v1h-1zM46 1402h2v1h-2zM46 1402h1v1h-1zM42 1402h1v1h-1zM79 1423h1v1h-1zM91 1441h2v2h-2zM73 1431h1v2h-1zM33 1396h1v2h-1zM92 1443h1v1h-1zM72 1431h1v2h-1zM86 1432h1v1h-1zM88 1445h1v2h-1zM92 1440h2v1h-2zM52 1406h2v2h-2zM100 1446h1v1h-1zM48 1402h1v1h-1zM53 1407h1v1h-1zM79 1419h1v2h-1zM58 1414h1v2h-1zM103 1452h2v1h-2zM77 1423h1v2h-1zM88 1439h2v1h-2zM43 1405h1v2h-1zM33 1401h2v1h-2zM62 1423h1v1h-1zM48 1413h2v2h-2zM49 1411h2v2h-2zM90 1445h1v2h-1zM70 1421h2v1h-2zM89 1430h2v2h-2zM43 1401h1v2h-1zM97 1437h1v1h-1zM89 1436h2v2h-2zM72 1421h1v1h-1zM45 1403h2v1h-2zM52 1414h2v2h-2z"/>
<path fill="#1e3a90" opacity="0.4" d="M484 1283h1v2h-1zM356 1335h1v2h-1zM449 1329h1v2h-1zM206 1381h1v1h-1zM440 1341h1v1h-1zM193 1328h1v1h-1zM110 1384h2v2h-2zM466 1351h2v1h-2zM103 1384h1v1h-1zM357 1341h1v2h-1zM142 1300h2v2h-2zM375 1349h1v2h-1zM290 1356h2v1h-2zM463 1333h1v1h-1zM191 1379h2v1h-2zM275 1313h1v1h-1zM272 1388h2v2h-2zM357 1375h2v1h-2zM65 1324h2v1h-2zM246 1346h2v1h-2zM457 1375h1v1h-1zM464 1325h2v2h-2zM420 1309h1v2h-1zM271 1299h2v2h-2zM397 1341h1v1h-1zM153 1394h2v1h-2zM117 1385h2v1h-2zM273 1291h1v2h-1zM245 1308h2v2h-2zM112 1335h1v1h-1zM472 1364h2v2h-2zM225 1294h1v2h-1zM141 1284h2v1h-2zM64 1312h2v2h-2zM149 1329h2v1h-2zM210 1283h1v2h-1zM437 1304h1v1h-1zM499 1343h2v2h-2zM342 1329h1v1h-1zM382 1364h1v2h-1zM152 1375h2v2h-2zM45 1367h2v1h-2zM349 1381h1v2h-1zM170 1398h1v1h-1zM377 1297h1v2h-1zM93 1383h1v2h-1zM327 1331h1v2h-1zM192 1396h2v1h-2zM442 1365h2v2h-2zM415 1294h1v1h-1zM466 1294h1v2h-1zM471 1395h2v2h-2zM351 1377h2v2h-2zM99 1293h1v2h-1zM352 1396h1v2h-1zM188 1395h2v1h-2zM192 1291h1v1h-1zM337 1366h1v2h-1zM412 1289h1v2h-1zM201 1355h1v1h-1zM488 1372h1v1h-1zM169 1384h1v2h-1zM380 1289h1v2h-1zM452 1334h2v2h-2zM222 1331h2v2h-2z"/>
<path fill="#24409a" opacity="0.4" d="M37 1386h2v2h-2zM465 1342h2v2h-2zM37 1299h2v2h-2zM290 1329h1v2h-1zM423 1314h1v1h-1zM450 1393h2v2h-2zM494 1321h2v1h-2zM179 1353h1v1h-1zM217 1385h1v1h-1zM338 1381h2v2h-2zM383 1326h2v2h-2zM403 1367h2v1h-2zM377 1302h2v1h-2zM252 1337h1v1h-1zM465 1397h2v2h-2zM242 1330h1v2h-1zM184 1321h1v2h-1zM48 1373h1v2h-1zM379 1349h1v1h-1zM109 1355h2v1h-2zM262 1296h1v2h-1zM80 1314h2v1h-2zM276 1398h2v2h-2zM373 1355h1v1h-1zM82 1317h1v2h-1zM499 1360h2v1h-2zM319 1293h2v1h-2zM331 1371h1v1h-1zM473 1397h2v2h-2zM145 1290h1v1h-1zM98 1382h1v2h-1zM67 1398h2v1h-2zM452 1307h1v2h-1zM443 1288h2v1h-2zM159 1350h2v2h-2zM341 1305h2v2h-2zM245 1353h2v2h-2zM493 1381h2v2h-2zM32 1334h2v2h-2zM324 1313h1v1h-1zM406 1386h1v2h-1zM327 1398h1v1h-1zM260 1373h1v1h-1zM120 1380h1v1h-1zM229 1289h1v1h-1zM260 1327h1v1h-1zM266 1340h1v1h-1zM386 1395h1v1h-1zM427 1321h2v2h-2zM488 1299h2v2h-2zM264 1297h2v1h-2zM424 1321h1v1h-1zM41 1374h1v1h-1zM235 1287h2v1h-2zM367 1319h2v1h-2zM482 1338h2v1h-2zM483 1389h1v2h-1zM375 1400h1v2h-1zM313 1382h1v2h-1zM255 1310h1v1h-1zM324 1314h2v2h-2zM75 1359h2v1h-2zM358 1312h2v2h-2zM135 1309h1v1h-1zM260 1289h1v1h-1zM268 1396h2v1h-2zM181 1310h1v2h-1zM449 1312h1v2h-1zM291 1312h2v2h-2zM449 1395h2v2h-2zM111 1359h2v2h-2zM89 1288h2v2h-2zM250 1392h1v1h-1zM449 1372h2v1h-2z"/>
<path fill="#183080" opacity="0.4" d="M142 1322h1v1h-1zM136 1383h2v1h-2zM259 1336h1v1h-1zM195 1310h1v2h-1zM69 1283h2v2h-2zM233 1289h2v1h-2zM341 1330h1v2h-1zM398 1294h1v2h-1zM156 1331h2v2h-2zM156 1350h1v2h-1zM215 1333h2v2h-2zM273 1360h2v2h-2zM184 1317h1v1h-1zM299 1395h2v2h-2zM205 1292h2v2h-2zM202 1290h2v2h-2zM439 1357h2v1h-2zM477 1308h1v2h-1zM137 1326h1v1h-1zM139 1363h1v1h-1zM387 1386h2v2h-2zM306 1345h2v1h-2zM140 1366h1v1h-1zM171 1349h1v2h-1zM433 1374h1v2h-1zM196 1316h1v1h-1zM404 1355h1v1h-1zM467 1295h2v2h-2zM268 1297h2v2h-2zM159 1395h2v1h-2zM59 1392h2v2h-2zM349 1315h1v1h-1zM404 1359h1v2h-1zM126 1380h1v2h-1zM229 1347h2v1h-2zM141 1306h1v1h-1zM491 1327h1v1h-1zM212 1334h1v2h-1zM366 1335h1v2h-1zM420 1282h1v2h-1zM289 1349h1v2h-1zM206 1351h2v1h-2zM97 1397h1v1h-1zM322 1304h2v2h-2zM428 1353h1v1h-1zM284 1307h2v1h-2zM130 1367h1v1h-1zM129 1387h2v1h-2zM49 1371h2v1h-2zM241 1310h2v1h-2zM434 1283h1v2h-1zM265 1395h1v1h-1zM230 1298h2v1h-2zM268 1310h1v2h-1z"/>
<path fill="#2a4ab0" opacity="0.4" d="M427 1284h1v2h-1zM211 1338h2v2h-2zM481 1309h2v1h-2zM416 1376h1v2h-1zM245 1354h2v1h-2zM325 1399h2v2h-2zM352 1391h2v2h-2zM197 1304h2v2h-2zM30 1362h1v1h-1zM247 1375h1v1h-1zM241 1339h2v1h-2zM132 1372h2v2h-2zM350 1320h1v2h-1zM250 1356h2v2h-2zM250 1309h1v1h-1zM173 1307h1v1h-1zM116 1310h2v1h-2zM326 1370h1v1h-1zM32 1334h1v1h-1zM367 1394h2v2h-2zM149 1299h1v1h-1zM168 1394h1v1h-1zM201 1395h2v2h-2zM123 1347h1v2h-1zM289 1320h2v2h-2zM81 1303h1v2h-1zM466 1378h2v1h-2zM469 1378h2v2h-2zM293 1339h2v2h-2zM176 1394h1v2h-1zM157 1284h2v2h-2zM314 1383h2v2h-2zM131 1363h2v2h-2zM294 1370h2v1h-2zM389 1374h2v2h-2zM403 1314h2v1h-2zM198 1371h1v1h-1zM356 1398h1v2h-1zM487 1322h1v2h-1zM382 1337h2v2h-2zM90 1310h2v2h-2zM495 1322h1v2h-1zM323 1390h2v2h-2zM157 1381h2v2h-2zM227 1293h2v2h-2zM121 1344h2v1h-2zM427 1390h1v1h-1zM229 1335h2v1h-2zM248 1337h1v1h-1zM369 1353h2v1h-2zM307 1300h2v1h-2zM413 1346h1v2h-1zM155 1283h2v1h-2zM131 1323h2v1h-2zM344 1388h2v1h-2zM309 1383h1v2h-1zM163 1320h2v1h-2z"/>
<path d="M91.7 1422.3C92.9 1422.1 96.3 1421.3 98.9 1421.2C101.5 1421.1 104.3 1421.3 107.1 1421.8C109.8 1422.3 112.8 1423.2 115.4 1424.0C118.0 1424.8 119.8 1425.9 122.5 1426.7C125.2 1427.5 128.4 1428.3 131.3 1428.9C134.2 1429.5 136.8 1430.1 140.1 1430.5C143.4 1430.9 147.1 1431.4 151.1 1431.2C155.1 1431.0 159.2 1431.2 164.3 1429.5C169.4 1427.8 175.2 1423.6 181.8 1420.7C188.4 1417.8 197.2 1414.8 203.8 1411.9C210.4 1409.0 215.9 1407.1 221.4 1403.1C226.9 1399.1 233.3 1392.8 236.8 1387.7C240.3 1382.6 240.8 1377.6 242.3 1372.3C243.8 1367.0 244.5 1361.0 246.0 1356.0C247.5 1351.0 249.4 1345.9 251.5 1342.0C253.6 1338.1 257.6 1334.2 258.8 1332.7" fill="none" stroke="#fff" stroke-width="2.6" stroke-dasharray="4.5 3.5"/>
<path d="M258.8 1332.7C259.8 1334.2 262.8 1338.3 264.5 1342.0C266.2 1345.7 267.8 1351.5 269.0 1355.0C270.2 1358.5 270.6 1360.1 271.5 1363.0C272.4 1365.9 273.8 1370.8 274.3 1372.3" fill="none" stroke="#fff" stroke-width="2.6" stroke-dasharray="4.5 3.5"/>
<path d="M280.9 1387.7C282.9 1389.5 289.1 1395.4 293.0 1398.7C296.9 1402.0 300.0 1405.0 304.0 1407.5C308.0 1410.0 312.4 1412.0 317.1 1414.0C321.9 1416.0 327.4 1417.6 332.5 1419.6C337.6 1421.6 342.8 1424.4 347.9 1426.2C353.0 1428.0 357.8 1430.0 363.3 1430.5C368.8 1431.0 375.4 1430.4 380.9 1429.5C386.4 1428.6 390.8 1426.5 396.3 1425.0C401.8 1423.5 409.1 1421.2 413.8 1420.7C418.6 1420.2 423.0 1421.6 424.8 1421.8" fill="none" stroke="#fff" stroke-width="2.6" stroke-dasharray="4.5 3.5"/>
<path d="M30.2 1393.2C31.5 1393.4 35.3 1393.5 37.9 1394.3C40.5 1395.1 43.1 1396.7 45.6 1398.1C48.1 1399.5 50.3 1401.1 52.7 1402.5C55.1 1403.9 57.5 1404.9 59.9 1406.4C62.3 1407.9 64.7 1409.8 67.0 1411.3C69.3 1412.8 71.3 1414.0 73.6 1415.7C75.9 1417.4 78.4 1419.5 80.7 1421.2C83.0 1423.0 85.2 1424.5 87.3 1426.2C89.3 1427.9 91.2 1429.6 93.0 1431.5C94.8 1433.4 96.5 1435.5 98.3 1437.7C100.1 1439.9 102.1 1442.5 103.8 1444.8C105.5 1447.1 106.6 1449.1 108.2 1451.4C109.8 1453.7 111.7 1456.6 113.2 1458.6C114.7 1460.6 115.5 1461.7 117.0 1463.5C118.5 1465.3 120.3 1467.6 122.0 1469.6C123.7 1471.6 125.2 1473.5 126.9 1475.6C128.6 1477.7 130.6 1480.1 132.4 1482.2C134.2 1484.3 137.0 1487.0 137.9 1488.0" fill="none" stroke="#fff" stroke-width="2.6" stroke-dasharray="4.5 3.5"/>
<path d="M33.5 1399.2C34.7 1400.0 38.3 1402.6 40.6 1404.2C42.9 1405.8 45.0 1407.4 47.2 1409.1C49.4 1410.8 51.6 1412.4 53.8 1414.1C56.0 1415.8 58.2 1417.3 60.4 1419.0C62.6 1420.7 64.9 1422.2 67.0 1424.0C69.1 1425.8 71.1 1428.1 73.1 1430.0C75.1 1431.9 77.0 1433.7 79.1 1435.5C81.2 1437.3 83.5 1439.2 85.7 1441.0C87.9 1442.8 90.2 1444.7 92.3 1446.5C94.4 1448.3 96.2 1450.3 98.3 1452.0C100.4 1453.7 102.3 1455.4 104.9 1456.9C107.5 1458.5 112.2 1460.6 113.7 1461.3" fill="none" stroke="#fff" stroke-width="2.6" stroke-dasharray="4.5 3.5"/>
<path d="M488.6 1396.5C485.7 1397.8 476.9 1401.3 471.0 1404.2C465.1 1407.1 459.3 1410.5 453.4 1414.0C447.5 1417.5 440.9 1421.7 435.8 1425.0C430.7 1428.3 426.6 1430.5 422.6 1433.8C418.6 1437.1 415.2 1441.1 411.6 1444.8C408.0 1448.5 404.4 1451.8 400.7 1455.8C397.0 1459.8 393.4 1463.6 389.7 1469.0C386.0 1474.4 380.5 1484.8 378.7 1488.0" fill="none" stroke="#fff" stroke-width="2.6" stroke-dasharray="4.5 3.5"/>
<path d="M488.6 1402.0C485.7 1404.0 476.9 1410.2 471.0 1414.0C465.1 1417.8 459.3 1421.0 453.4 1425.0C447.5 1429.0 440.9 1434.5 435.8 1438.2C430.7 1441.9 426.6 1444.1 422.6 1447.0C418.6 1449.9 415.2 1452.5 411.6 1455.8C408.0 1459.1 404.0 1463.1 400.7 1466.8C397.4 1470.5 394.8 1474.3 391.9 1477.8C389.0 1481.3 384.6 1486.3 383.1 1488.0" fill="none" stroke="#fff" stroke-width="2.6" stroke-dasharray="4.5 3.5"/>
<path d="M192.8 1489.0C194.6 1486.8 199.0 1479.7 203.8 1475.6C208.6 1471.5 215.5 1467.3 221.4 1464.6C227.3 1461.8 233.5 1460.3 239.0 1459.1C244.5 1457.9 249.6 1457.7 254.4 1457.6C259.2 1457.5 263.4 1457.7 268.0 1458.5C272.6 1459.3 276.7 1460.3 282.0 1462.4C287.3 1464.5 294.5 1467.9 299.6 1471.2C304.7 1474.5 309.6 1479.2 312.7 1482.2C315.8 1485.2 317.1 1487.9 318.0 1489.0" fill="none" stroke="#fff" stroke-width="2.6" stroke-dasharray="4.5 3.5"/>
</g>
<path d="M69.7 1312.7V1352M49.5 1332.2H89.4" stroke="#f0f0f8" stroke-width="1.6" fill="none"/>
<path d="M66.0 1317.3L69.7 1312.7L73.4 1317.3" stroke="#f0f0f8" stroke-width="1.6" fill="none"/>
<path d="M84.4 1328.6000000000001L89.4 1332.2L84.4 1335.8" stroke="#f0f0f8" stroke-width="1.6" fill="none"/>
<text x="61.90" y="1305.6" font-size="24" fill="#f0f0f8" stroke="#f0f0f8" stroke-width="0.3" textLength="18.09" lengthAdjust="spacingAndGlyphs" xml:space="preserve" >D</text>
<text x="31.86" y="1338.3" font-size="24" fill="#f0f0f8" stroke="#f0f0f8" stroke-width="0.3" textLength="14.87" lengthAdjust="spacingAndGlyphs" xml:space="preserve" >L</text>
<text x="91.37" y="1338.3" font-size="24" fill="#f0f0f8" stroke="#f0f0f8" stroke-width="0.3" textLength="22.13" lengthAdjust="spacingAndGlyphs" xml:space="preserve" >M</text>
<text x="62.68" y="1377.7" font-size="24" fill="#f0f0f8" stroke="#f0f0f8" stroke-width="0.3" textLength="15.89" lengthAdjust="spacingAndGlyphs" xml:space="preserve" >V</text>
<text x="413.60" y="1474.2" font-size="24.5" fill="#fff" stroke="#fff" stroke-width="0.3" textLength="84.25" lengthAdjust="spacingAndGlyphs" xml:space="preserve" >500 µm</text>
<rect x="427.2" y="1482.6" width="54.4" height="4" fill="#fff"/>
<text x="515.00" y="1276.3" font-size="29" fill="#000" stroke="#000" stroke-width="0.3" font-weight="bold" textLength="18.39" lengthAdjust="spacingAndGlyphs" xml:space="preserve" >d</text>
<text x="547.35" y="1276.3" font-size="29" fill="#000" stroke="#000" stroke-width="0.3" textLength="49.96" lengthAdjust="spacingAndGlyphs" xml:space="preserve" >WT;</text>
<text x="619.45" y="1276.3" font-size="29" fill="#000" stroke="#000" stroke-width="0.3" textLength="54.47" lengthAdjust="spacingAndGlyphs" xml:space="preserve" >VTA</text>
<text x="960.76" y="1276.6" font-size="29" fill="#000" stroke="#000" stroke-width="0.3" textLength="45.99" lengthAdjust="spacingAndGlyphs" xml:space="preserve" >10x</text>
<g clip-path="url(#cd)">
<rect x="549" y="1282" width="471.7" height="207" fill="#0b1a58"/>
<rect x="549" y="1282" width="471.7" height="207" filter="url(#motD)" opacity="0.8"/>
<rect x="549" y="1282" width="471.7" height="207" filter="url(#motB)" opacity="0.6"/>
<polygon points="560.0,1290.0 760.0,1290.0 760.0,1390.0 560.0,1390.0" fill="#0a1a55" opacity="0.6" filter="url(#b14)"/>
<polygon points="820.0,1290.0 1010.0,1290.0 1010.0,1380.0 820.0,1380.0" fill="#0a1848" opacity="0.6" filter="url(#b14)"/>
<polygon points="549.0,1404.0 592.0,1426.0 611.0,1427.0 660.0,1435.0 690.0,1432.0 718.0,1415.0 747.0,1398.0 765.0,1392.0 790.0,1398.0 815.0,1390.0 835.0,1396.0 870.0,1411.0 902.0,1418.0 935.0,1412.0 964.0,1405.0 1001.0,1383.0 1021.0,1374.0 1021.0,1392.0 986.0,1404.0 950.0,1435.0 917.0,1457.0 893.0,1489.0 878.0,1489.0 862.0,1468.0 833.0,1448.0 800.0,1440.0 768.0,1447.0 742.0,1463.0 721.0,1489.0 660.0,1489.0 616.0,1460.0 549.0,1411.0" fill="#1f6a3a" opacity="0.8" filter="url(#b6)"/>
<polygon points="695.0,1428.0 740.0,1410.0 770.0,1402.0 788.0,1418.0 775.0,1448.0 745.0,1463.0 722.0,1489.0 690.0,1489.0 688.0,1455.0" fill="#6a4a28" opacity="0.55" filter="url(#b6)"/>
<polygon points="770.0,1415.0 800.0,1410.0 835.0,1425.0 815.0,1442.0 790.0,1440.0 770.0,1445.0" fill="#3aa84a" opacity="0.85" filter="url(#b8)"/>
<polygon points="549.0,1404.0 600.0,1428.0 612.0,1440.0 590.0,1440.0 549.0,1415.0" fill="#2a8a40" opacity="0.7" filter="url(#b4)"/>
<polygon points="960.0,1425.0 1021.0,1405.0 1021.0,1470.0 960.0,1470.0" fill="#155a4a" opacity="0.6" filter="url(#b8)"/>
<path fill="#3ccf5a" opacity="0.6" d="M983 1465h1v2h-1zM1012 1442h2v2h-2zM998 1459h2v2h-2zM992 1462h2v1h-2zM964 1446h2v1h-2zM991 1436h2v1h-2zM971 1446h1v1h-1zM1018 1429h2v2h-2zM1003 1442h2v1h-2zM992 1416h1v2h-1zM985 1468h2v1h-2zM1019 1468h2v1h-2zM994 1461h1v2h-1zM961 1451h1v2h-1zM982 1421h2v1h-2zM987 1439h2v1h-2zM987 1458h1v1h-1zM1012 1457h2v2h-2zM967 1461h1v2h-1zM1018 1437h2v1h-2zM1005 1453h1v1h-1zM1010 1418h2v1h-2zM987 1445h1v2h-1zM981 1470h1v1h-1zM990 1451h1v1h-1zM973 1446h2v2h-2zM967 1430h2v2h-2zM1007 1430h1v1h-1zM990 1433h2v2h-2zM970 1445h1v1h-1zM1011 1468h2v2h-2zM1020 1412h2v2h-2zM993 1455h1v1h-1zM967 1435h1v2h-1zM1014 1445h1v2h-1zM1020 1451h1v2h-1zM1019 1443h2v2h-2zM1014 1441h2v2h-2zM1005 1468h1v1h-1zM997 1459h1v1h-1zM1008 1411h2v1h-2zM1000 1456h2v1h-2zM1000 1452h1v1h-1zM977 1424h2v1h-2zM1012 1445h2v1h-2zM975 1463h1v1h-1zM999 1469h2v1h-2zM989 1459h2v2h-2zM971 1440h2v1h-2zM980 1431h1v1h-1zM997 1418h2v1h-2zM971 1440h1v1h-1zM978 1469h2v2h-2zM1002 1432h1v2h-1zM971 1425h2v1h-2zM975 1456h1v2h-1zM986 1455h1v1h-1zM971 1462h2v2h-2zM979 1426h2v1h-2zM984 1466h2v1h-2zM1020 1468h2v1h-2zM974 1425h1v2h-1zM983 1429h2v2h-2zM960 1439h1v2h-1zM990 1422h1v1h-1zM1020 1434h1v2h-1zM970 1450h1v2h-1zM1011 1467h1v2h-1zM1008 1457h2v1h-2zM983 1425h2v1h-2zM990 1426h2v2h-2zM974 1435h1v2h-1zM1006 1444h2v2h-2zM976 1451h2v1h-2zM973 1421h1v2h-1zM1012 1447h2v1h-2zM988 1420h2v1h-2zM966 1429h2v2h-2zM1003 1414h2v1h-2zM998 1415h1v1h-1zM993 1417h1v1h-1zM991 1457h2v1h-2zM962 1466h2v2h-2z"/>
<path fill="#2fb04a" opacity="0.6" d="M1018 1422h2v1h-2zM982 1449h1v1h-1zM995 1455h1v1h-1zM970 1469h2v1h-2zM989 1419h2v2h-2zM1008 1439h1v1h-1zM988 1449h1v2h-1zM1017 1461h1v2h-1zM998 1439h2v1h-2zM1002 1424h2v2h-2zM997 1414h2v1h-2zM1016 1456h1v1h-1zM1000 1466h2v1h-2zM1014 1449h1v2h-1zM964 1467h2v2h-2zM967 1469h2v2h-2zM1019 1438h1v1h-1zM1021 1409h1v1h-1zM1010 1462h1v2h-1zM1018 1432h1v1h-1zM962 1462h1v1h-1zM1007 1412h1v1h-1zM1013 1463h2v2h-2zM986 1468h2v2h-2zM1015 1412h2v1h-2zM976 1463h2v1h-2zM995 1439h2v2h-2zM1004 1431h2v1h-2zM994 1435h1v2h-1zM987 1440h1v2h-1zM996 1427h2v1h-2zM1018 1458h1v1h-1zM1018 1469h2v2h-2zM967 1454h2v1h-2zM993 1448h2v1h-2zM983 1433h2v1h-2zM985 1448h1v2h-1zM1007 1428h2v1h-2zM968 1435h2v2h-2zM974 1421h2v1h-2zM974 1466h1v2h-1zM1007 1466h2v1h-2zM997 1447h2v1h-2zM989 1434h2v2h-2zM991 1451h1v2h-1zM972 1442h1v1h-1zM982 1437h1v1h-1zM970 1431h1v1h-1zM985 1439h1v1h-1zM973 1438h2v1h-2zM997 1436h1v2h-1zM978 1460h2v1h-2zM970 1427h1v2h-1zM992 1463h2v1h-2zM991 1437h1v2h-1zM962 1438h2v1h-2zM978 1440h2v2h-2zM971 1452h2v1h-2zM964 1460h1v2h-1zM1018 1451h1v1h-1zM1009 1461h1v2h-1zM969 1453h1v1h-1zM1011 1411h2v2h-2zM980 1447h1v1h-1zM986 1441h2v2h-2zM971 1439h2v1h-2zM1012 1412h2v1h-2z"/>
<polygon points="721.0,1489.0 742.0,1463.0 768.0,1447.0 800.0,1440.0 833.0,1448.0 862.0,1468.0 878.0,1489.0" fill="#0a1848" opacity="1" filter="url(#b3)"/>
<polygon points="760.0,1470.0 830.0,1465.0 850.0,1489.0 760.0,1489.0" fill="#050c28" opacity="0.8" filter="url(#b4)"/>
<polygon points="549.0,1440.0 600.0,1450.0 620.0,1489.0 549.0,1489.0" fill="#0d2050" opacity="0.6" filter="url(#b6)"/>
<path fill="#3ccf5a" opacity="0.7" d="M1018 1386h2v2h-2zM657 1479h1v1h-1zM726 1459h2v1h-2zM825 1428h2v1h-2zM815 1426h2v2h-2zM913 1431h2v1h-2zM673 1469h1v2h-1zM808 1424h2v1h-2zM809 1393h2v1h-2zM836 1424h1v1h-1zM878 1459h2v1h-2zM681 1464h2v1h-2zM628 1437h2v1h-2zM715 1436h1v2h-1zM927 1421h2v2h-2zM1012 1382h2v2h-2zM824 1405h2v2h-2zM840 1400h2v1h-2zM776 1404h1v1h-1zM806 1413h2v2h-2zM750 1405h1v1h-1zM837 1417h1v1h-1zM737 1446h1v2h-1zM762 1409h1v2h-1zM850 1427h1v2h-1zM709 1485h2v2h-2zM713 1425h1v1h-1zM816 1392h2v1h-2zM640 1448h1v1h-1zM864 1430h1v2h-1zM784 1402h1v1h-1zM815 1431h2v2h-2zM653 1482h1v2h-1zM787 1428h1v2h-1zM770 1441h2v2h-2zM652 1457h2v1h-2zM928 1428h2v2h-2zM665 1456h1v2h-1zM685 1450h2v1h-2zM1014 1384h1v2h-1zM724 1476h1v2h-1zM821 1418h2v1h-2zM780 1437h2v1h-2zM735 1431h1v2h-1zM665 1458h2v2h-2zM883 1471h1v2h-1zM768 1418h2v1h-2zM908 1453h2v1h-2zM880 1417h1v1h-1zM885 1437h2v2h-2zM905 1428h1v2h-1zM817 1432h2v1h-2zM643 1473h1v1h-1zM855 1440h2v2h-2zM755 1435h1v2h-1zM763 1439h1v2h-1zM732 1429h2v1h-2zM934 1421h1v1h-1zM890 1482h1v1h-1zM699 1488h2v2h-2zM650 1465h2v1h-2zM780 1403h2v1h-2zM892 1417h2v1h-2zM653 1448h1v1h-1zM643 1472h1v1h-1zM622 1435h1v1h-1zM905 1467h2v2h-2zM703 1470h1v1h-1zM608 1446h2v1h-2zM801 1396h1v1h-1zM747 1454h1v1h-1zM685 1481h2v2h-2zM849 1448h1v2h-1zM819 1435h2v2h-2zM660 1477h1v1h-1zM758 1431h1v2h-1zM643 1433h2v2h-2zM859 1459h1v1h-1zM614 1432h2v2h-2zM564 1415h1v2h-1zM812 1418h2v2h-2zM923 1421h1v2h-1zM875 1428h1v1h-1zM744 1415h1v1h-1zM863 1464h2v2h-2zM937 1421h2v1h-2zM730 1456h1v1h-1zM673 1472h1v2h-1zM665 1475h1v2h-1zM694 1456h2v1h-2zM858 1416h2v2h-2zM637 1434h1v1h-1zM712 1442h2v2h-2zM895 1477h2v1h-2zM868 1463h2v2h-2zM552 1413h2v1h-2zM1003 1393h1v2h-1zM868 1429h2v2h-2zM815 1417h1v1h-1zM684 1445h2v2h-2zM830 1447h2v2h-2zM974 1402h1v1h-1zM674 1435h1v1h-1zM896 1442h1v2h-1zM575 1422h1v1h-1zM794 1426h1v1h-1zM823 1409h1v1h-1zM845 1417h1v2h-1zM793 1417h2v2h-2zM682 1478h2v2h-2zM584 1428h1v1h-1zM747 1401h1v1h-1zM834 1446h1v2h-1zM739 1440h2v1h-2zM727 1470h1v2h-1zM858 1459h1v1h-1zM804 1422h2v1h-2zM934 1430h2v2h-2zM964 1406h1v1h-1zM680 1473h1v1h-1zM692 1476h2v1h-2zM917 1416h2v1h-2zM733 1414h1v1h-1zM672 1477h1v2h-1zM927 1426h1v2h-1zM921 1440h1v2h-1zM915 1420h1v1h-1zM728 1460h1v1h-1zM875 1478h1v1h-1zM596 1441h2v1h-2zM762 1399h2v2h-2zM950 1434h2v2h-2zM963 1406h1v1h-1zM845 1438h1v2h-1zM859 1465h1v2h-1zM759 1429h2v2h-2zM700 1459h2v1h-2zM869 1420h2v1h-2zM859 1460h2v2h-2zM901 1467h2v2h-2zM839 1430h1v1h-1zM708 1444h1v2h-1zM965 1409h1v2h-1zM772 1426h2v2h-2zM866 1454h1v1h-1zM928 1434h1v1h-1zM659 1483h2v1h-2zM889 1418h2v1h-2zM708 1437h1v2h-1zM732 1410h1v1h-1zM873 1461h2v1h-2zM662 1446h1v2h-1zM836 1407h2v2h-2zM907 1450h2v1h-2zM683 1469h1v2h-1zM942 1434h2v1h-2zM735 1429h2v2h-2zM903 1432h2v1h-2zM879 1450h2v2h-2zM640 1446h1v1h-1zM607 1453h1v1h-1zM895 1461h2v1h-2zM653 1452h2v1h-2zM883 1419h1v2h-1zM912 1438h2v2h-2zM705 1443h1v2h-1zM794 1413h1v2h-1zM779 1404h1v2h-1zM865 1452h1v2h-1zM1020 1387h1v1h-1zM740 1464h2v2h-2zM917 1448h1v2h-1zM884 1418h2v1h-2zM862 1440h1v1h-1zM779 1407h2v1h-2zM608 1444h1v1h-1zM811 1414h1v2h-1zM664 1449h1v1h-1zM699 1453h2v1h-2zM701 1430h2v2h-2zM702 1435h2v2h-2zM559 1415h2v2h-2zM819 1431h1v2h-1zM688 1470h1v2h-1zM705 1430h2v2h-2zM864 1462h2v2h-2zM673 1467h1v2h-1zM754 1453h2v1h-2zM924 1439h1v2h-1zM826 1398h2v1h-2zM891 1480h1v1h-1zM860 1448h1v2h-1zM886 1415h1v2h-1zM666 1471h1v1h-1zM1014 1381h1v2h-1zM709 1431h1v2h-1zM911 1461h2v1h-2zM1019 1383h2v1h-2zM782 1397h2v1h-2zM812 1396h2v2h-2zM684 1481h2v2h-2zM752 1432h1v2h-1zM849 1409h2v2h-2zM907 1451h1v2h-1zM1012 1380h2v1h-2zM717 1488h2v1h-2zM744 1438h1v2h-1zM889 1485h2v1h-2zM578 1420h1v1h-1zM901 1471h1v2h-1zM680 1437h2v1h-2zM831 1422h2v1h-2zM671 1460h1v1h-1zM886 1439h2v1h-2zM623 1436h1v2h-1zM877 1460h2v2h-2zM963 1411h1v2h-1zM876 1464h2v2h-2zM751 1442h1v2h-1zM851 1442h1v1h-1zM1012 1387h2v2h-2zM869 1422h2v1h-2zM663 1440h1v2h-1zM781 1443h2v1h-2zM896 1445h2v2h-2zM933 1419h2v2h-2zM708 1440h1v2h-1zM789 1436h2v1h-2zM963 1417h2v1h-2zM801 1424h1v1h-1zM944 1417h1v1h-1zM818 1435h2v1h-2zM722 1452h1v1h-1zM961 1423h1v1h-1zM758 1420h2v1h-2zM884 1426h2v1h-2zM856 1455h1v1h-1zM814 1412h1v1h-1zM702 1446h1v2h-1zM730 1412h2v2h-2zM824 1415h2v1h-2zM778 1420h1v1h-1zM842 1444h2v2h-2zM824 1441h1v1h-1zM867 1451h1v2h-1zM886 1427h2v2h-2zM733 1428h1v1h-1zM916 1436h2v1h-2zM932 1422h1v2h-1zM724 1449h2v1h-2zM765 1424h2v2h-2zM897 1454h1v2h-1zM734 1447h1v1h-1zM940 1417h2v2h-2zM627 1435h1v2h-1zM840 1443h2v1h-2zM817 1421h1v2h-1zM699 1429h1v2h-1zM922 1419h1v1h-1zM743 1412h2v1h-2zM644 1475h1v2h-1zM829 1403h1v2h-1zM756 1447h2v1h-2zM806 1441h2v1h-2zM772 1404h2v2h-2zM849 1411h1v2h-1zM858 1421h2v1h-2zM897 1438h2v1h-2zM751 1453h2v2h-2zM676 1444h1v1h-1zM916 1442h1v2h-1zM940 1417h1v2h-1zM876 1463h2v2h-2zM730 1433h2v1h-2zM720 1466h1v2h-1zM758 1449h2v2h-2zM915 1421h2v1h-2zM896 1432h1v1h-1zM877 1450h1v2h-1zM689 1454h2v2h-2zM716 1473h2v1h-2zM634 1442h2v2h-2zM815 1443h2v2h-2zM679 1437h2v1h-2zM875 1437h2v1h-2zM714 1449h1v2h-1zM823 1401h1v1h-1zM1007 1385h1v2h-1zM905 1465h2v2h-2zM909 1437h2v2h-2zM676 1479h2v2h-2zM633 1466h2v1h-2zM718 1441h2v2h-2zM716 1445h1v1h-1zM920 1425h1v2h-1zM682 1442h1v2h-1zM689 1434h2v1h-2zM624 1431h2v1h-2zM950 1418h2v2h-2zM863 1448h1v2h-1zM635 1442h2v1h-2zM736 1407h2v2h-2zM678 1468h2v1h-2zM675 1458h1v2h-1zM852 1458h1v2h-1zM743 1425h2v2h-2zM771 1396h1v2h-1zM898 1421h1v2h-1zM804 1415h2v2h-2zM737 1454h2v2h-2zM699 1488h2v1h-2zM778 1417h1v2h-1zM870 1432h1v2h-1zM854 1445h1v2h-1zM612 1450h2v1h-2zM741 1413h2v1h-2zM808 1394h2v1h-2zM922 1439h2v1h-2zM840 1426h1v1h-1zM868 1471h2v2h-2zM915 1423h2v2h-2zM812 1435h2v1h-2zM655 1446h2v1h-2zM718 1450h1v1h-1zM880 1438h1v1h-1zM690 1439h2v2h-2zM786 1425h2v1h-2zM894 1463h2v1h-2zM896 1433h2v2h-2zM756 1454h1v1h-1zM622 1440h2v2h-2zM899 1447h1v1h-1zM658 1487h2v1h-2zM703 1479h2v1h-2zM826 1413h1v1h-1zM652 1465h1v2h-1zM760 1438h1v2h-1zM817 1424h2v1h-2zM653 1436h1v2h-1zM769 1440h2v1h-2zM786 1442h2v2h-2zM654 1440h2v2h-2zM827 1414h2v2h-2zM590 1439h2v1h-2zM799 1412h1v2h-1zM849 1445h2v1h-2zM758 1444h1v2h-1zM778 1438h1v2h-1zM727 1444h1v1h-1zM856 1416h2v2h-2zM813 1423h1v2h-1zM945 1428h1v2h-1zM792 1401h1v1h-1zM942 1412h2v1h-2zM665 1460h2v1h-2zM618 1458h2v1h-2zM716 1450h2v2h-2zM777 1436h1v2h-1z"/>
<path fill="#2fb04a" opacity="0.7" d="M791 1432h2v1h-2zM617 1460h2v1h-2zM893 1420h1v1h-1zM674 1470h2v2h-2zM781 1417h2v1h-2zM871 1460h1v1h-1zM840 1411h1v1h-1zM572 1424h1v2h-1zM740 1423h1v1h-1zM725 1444h2v2h-2zM644 1475h1v1h-1zM971 1417h2v2h-2zM803 1421h2v2h-2zM715 1435h1v1h-1zM898 1459h2v2h-2zM897 1458h1v1h-1zM694 1447h2v2h-2zM598 1445h2v1h-2zM855 1416h2v1h-2zM959 1413h2v2h-2zM880 1477h2v1h-2zM704 1477h1v2h-1zM886 1461h1v2h-1zM876 1464h2v1h-2zM772 1433h2v1h-2zM777 1422h2v2h-2zM736 1445h1v1h-1zM791 1404h2v1h-2zM728 1446h1v2h-1zM711 1451h2v2h-2zM728 1413h1v2h-1zM991 1396h1v2h-1zM737 1454h2v2h-2zM952 1410h1v1h-1zM647 1468h2v2h-2zM637 1443h2v1h-2zM873 1478h1v2h-1zM895 1458h2v1h-2zM795 1428h1v1h-1zM645 1478h1v2h-1zM705 1436h2v2h-2zM865 1468h2v2h-2zM702 1452h1v1h-1zM604 1443h2v2h-2zM811 1407h2v1h-2zM900 1431h1v1h-1zM892 1428h2v2h-2zM1005 1394h2v1h-2zM759 1394h2v1h-2zM763 1429h2v2h-2zM810 1403h1v2h-1zM653 1462h1v2h-1zM900 1440h2v2h-2zM719 1432h2v2h-2zM765 1422h2v1h-2zM659 1454h2v1h-2zM810 1440h1v1h-1zM608 1433h1v2h-1zM745 1447h1v1h-1zM559 1415h1v2h-1zM967 1415h2v2h-2zM864 1431h2v2h-2zM845 1441h2v2h-2zM775 1405h1v1h-1zM922 1439h2v1h-2zM831 1399h2v2h-2zM769 1403h2v1h-2zM633 1431h2v1h-2zM970 1413h2v2h-2zM886 1488h1v2h-1zM591 1431h2v1h-2zM718 1453h2v1h-2zM893 1450h1v1h-1zM908 1417h2v2h-2zM725 1466h1v1h-1zM630 1448h2v1h-2zM725 1460h1v2h-1zM853 1409h2v1h-2zM889 1463h1v2h-1zM884 1458h1v2h-1zM693 1471h2v2h-2zM944 1427h1v2h-1zM754 1400h2v1h-2zM723 1466h1v1h-1zM948 1436h2v2h-2zM869 1464h1v1h-1zM858 1421h1v2h-1zM707 1471h2v2h-2zM773 1423h1v1h-1zM682 1459h1v2h-1zM658 1475h1v1h-1zM764 1420h1v2h-1zM778 1398h2v1h-2zM706 1464h2v2h-2zM654 1471h1v2h-1zM653 1467h1v2h-1zM1012 1391h1v1h-1zM937 1416h1v2h-1zM765 1432h2v1h-2zM701 1476h1v1h-1zM741 1406h1v2h-1zM920 1425h2v1h-2zM883 1430h2v1h-2zM905 1423h1v2h-1zM724 1458h1v2h-1zM772 1411h2v1h-2zM869 1450h2v2h-2zM761 1429h1v1h-1zM771 1413h2v2h-2zM878 1436h1v2h-1zM904 1434h2v2h-2zM752 1432h2v2h-2zM619 1436h2v1h-2zM681 1476h2v1h-2zM928 1424h1v1h-1zM650 1454h1v1h-1zM927 1421h2v1h-2zM816 1425h2v1h-2zM708 1470h2v2h-2zM767 1402h2v2h-2zM936 1442h1v1h-1zM780 1444h1v2h-1zM870 1458h1v2h-1zM671 1462h1v1h-1zM984 1406h2v1h-2zM733 1409h1v1h-1zM828 1421h2v2h-2zM615 1433h1v1h-1zM689 1466h2v1h-2zM778 1417h2v1h-2zM608 1445h1v2h-1zM726 1418h2v2h-2zM845 1454h1v1h-1zM702 1425h1v1h-1zM733 1464h1v1h-1zM979 1406h2v1h-2zM953 1410h1v2h-1zM707 1465h1v1h-1zM797 1432h1v1h-1zM647 1465h1v1h-1zM689 1442h1v2h-1zM1007 1390h1v1h-1zM843 1452h2v1h-2zM639 1437h1v2h-1zM849 1440h1v2h-1zM798 1407h1v2h-1zM708 1470h2v1h-2zM698 1487h1v1h-1zM918 1442h1v2h-1zM749 1415h2v1h-2zM685 1436h1v2h-1zM751 1439h2v1h-2zM883 1421h2v1h-2zM883 1416h2v2h-2zM714 1439h2v2h-2zM759 1439h1v2h-1zM608 1441h1v1h-1zM668 1477h2v1h-2zM898 1428h1v1h-1zM700 1450h2v2h-2zM959 1410h1v1h-1zM753 1422h2v2h-2zM729 1459h1v1h-1zM755 1449h2v1h-2zM671 1467h1v2h-1zM799 1430h1v2h-1zM795 1408h1v2h-1zM756 1439h1v2h-1zM568 1418h1v2h-1zM768 1441h2v1h-2zM687 1463h2v2h-2zM847 1447h2v2h-2zM823 1444h2v2h-2zM770 1436h2v2h-2zM765 1425h1v1h-1zM882 1416h2v1h-2zM698 1467h2v1h-2zM839 1447h2v1h-2zM773 1441h1v2h-1zM624 1448h2v2h-2zM897 1455h1v1h-1zM777 1429h2v2h-2zM665 1466h1v2h-1zM772 1428h1v2h-1zM768 1401h1v1h-1zM833 1432h1v2h-1zM934 1419h1v1h-1zM899 1446h2v2h-2zM742 1415h2v2h-2zM824 1400h2v2h-2zM885 1431h1v2h-1zM710 1481h1v2h-1zM763 1413h2v2h-2zM839 1432h2v1h-2zM795 1396h2v2h-2zM834 1402h2v1h-2zM1005 1389h1v2h-1zM695 1480h1v1h-1zM705 1470h1v1h-1zM687 1454h1v1h-1zM651 1450h1v1h-1zM674 1477h2v1h-2zM902 1452h2v1h-2zM757 1403h1v2h-1zM640 1437h2v1h-2zM849 1424h1v2h-1zM714 1454h1v2h-1zM637 1436h1v2h-1zM668 1484h2v2h-2zM674 1453h1v2h-1zM652 1480h1v1h-1zM620 1436h1v1h-1zM951 1415h2v2h-2zM636 1464h1v1h-1zM1017 1384h1v1h-1zM656 1454h2v1h-2zM898 1432h2v2h-2zM899 1478h1v1h-1zM581 1427h1v1h-1zM860 1419h1v1h-1zM852 1404h2v2h-2zM658 1449h1v1h-1zM692 1470h2v1h-2zM694 1482h1v2h-1zM918 1421h1v1h-1zM725 1446h2v2h-2zM886 1440h2v2h-2zM628 1441h2v2h-2zM589 1436h2v2h-2zM838 1450h2v1h-2zM667 1445h1v2h-1zM774 1429h2v1h-2zM770 1401h2v1h-2zM648 1481h1v1h-1zM953 1421h2v1h-2zM820 1440h2v1h-2zM920 1434h2v2h-2zM727 1427h1v1h-1zM882 1442h2v2h-2zM929 1429h1v2h-1zM828 1420h2v1h-2zM915 1438h2v2h-2zM913 1422h2v2h-2zM650 1478h2v1h-2zM655 1443h2v2h-2zM812 1395h1v2h-1zM942 1412h1v1h-1zM792 1406h1v2h-1zM619 1433h2v2h-2zM803 1422h1v1h-1zM831 1437h2v2h-2zM775 1398h2v2h-2zM700 1484h1v2h-1zM860 1448h2v1h-2zM991 1393h1v1h-1zM885 1479h2v1h-2zM689 1476h1v1h-1zM847 1410h2v1h-2zM870 1421h2v1h-2zM579 1427h1v1h-1zM891 1423h2v1h-2zM654 1484h1v2h-1zM854 1452h2v2h-2zM690 1459h2v1h-2zM753 1451h1v2h-1zM733 1438h2v1h-2zM653 1449h1v2h-1zM633 1439h2v1h-2zM592 1438h2v2h-2zM826 1395h2v1h-2zM876 1463h2v2h-2zM629 1446h2v2h-2zM913 1440h2v1h-2zM734 1464h2v2h-2zM743 1411h2v1h-2zM740 1415h1v1h-1zM941 1420h2v1h-2zM674 1473h1v2h-1zM772 1400h2v1h-2zM737 1451h2v2h-2zM1015 1377h2v1h-2zM989 1402h1v2h-1zM939 1413h2v1h-2zM864 1435h2v1h-2zM572 1418h2v1h-2zM905 1438h1v1h-1zM665 1487h2v1h-2zM651 1437h2v2h-2zM803 1435h1v2h-1zM889 1440h2v2h-2zM973 1415h2v2h-2zM649 1457h2v1h-2zM788 1399h2v2h-2zM721 1450h1v2h-1zM779 1420h2v2h-2zM878 1487h1v2h-1zM842 1409h2v1h-2zM653 1477h1v1h-1zM608 1431h1v2h-1zM609 1435h2v1h-2zM756 1445h2v1h-2zM620 1448h1v1h-1zM676 1464h2v1h-2zM654 1435h2v1h-2zM828 1404h2v2h-2zM698 1427h1v2h-1zM915 1422h1v2h-1zM724 1430h2v2h-2zM685 1433h1v1h-1zM837 1424h1v1h-1zM716 1480h2v1h-2zM833 1436h2v1h-2zM728 1471h2v2h-2zM672 1452h1v1h-1zM695 1448h1v1h-1zM787 1402h1v2h-1zM838 1438h1v1h-1zM629 1466h2v1h-2zM885 1414h2v1h-2zM783 1436h1v2h-1zM885 1467h1v1h-1zM938 1430h1v2h-1zM738 1466h1v1h-1zM936 1427h1v2h-1zM694 1488h2v2h-2zM733 1465h1v1h-1zM819 1391h1v2h-1zM756 1402h1v2h-1zM723 1474h1v1h-1zM851 1449h1v2h-1zM1020 1381h1v2h-1zM897 1436h1v1h-1zM787 1427h1v2h-1zM639 1451h2v2h-2zM721 1453h2v2h-2zM582 1430h2v1h-2zM910 1446h2v2h-2zM942 1414h2v1h-2zM805 1420h2v2h-2zM715 1477h2v1h-2zM886 1458h1v1h-1zM705 1463h2v1h-2zM890 1445h1v1h-1zM827 1407h2v1h-2zM851 1425h2v2h-2zM793 1417h2v1h-2zM969 1412h2v1h-2zM782 1443h2v1h-2zM693 1475h2v1h-2zM961 1407h2v1h-2zM753 1413h1v2h-1zM909 1419h2v1h-2zM823 1398h2v2h-2zM623 1456h1v2h-1zM679 1452h1v2h-1zM811 1414h1v2h-1z"/>
<path fill="#7fdc5a" opacity="0.7" d="M627 1453h1v1h-1zM741 1425h2v2h-2zM706 1462h1v1h-1zM901 1429h1v2h-1zM694 1435h1v2h-1zM609 1436h1v2h-1zM632 1456h2v2h-2zM623 1458h2v2h-2zM896 1485h1v2h-1zM754 1452h2v2h-2zM672 1483h2v2h-2zM788 1401h2v1h-2zM898 1476h2v1h-2zM832 1414h2v2h-2zM727 1430h1v2h-1zM646 1465h2v2h-2zM987 1397h2v1h-2zM553 1409h2v2h-2zM673 1469h1v2h-1zM859 1419h1v1h-1zM758 1401h2v2h-2zM844 1405h1v2h-1zM602 1433h2v2h-2zM880 1470h1v2h-1zM965 1404h1v1h-1zM736 1465h2v2h-2zM737 1425h1v1h-1zM913 1453h1v2h-1zM642 1451h2v2h-2zM738 1458h1v2h-1zM820 1402h1v2h-1zM730 1414h2v2h-2zM707 1458h1v2h-1zM759 1439h2v2h-2zM725 1452h2v1h-2zM754 1407h2v2h-2zM989 1395h1v1h-1zM752 1422h2v1h-2zM608 1439h2v1h-2zM792 1428h1v1h-1zM571 1425h2v2h-2zM639 1445h1v1h-1zM676 1455h1v1h-1zM930 1418h1v1h-1zM605 1443h2v1h-2zM716 1484h1v2h-1zM823 1443h1v2h-1zM656 1446h2v1h-2zM679 1444h2v2h-2zM754 1413h1v1h-1zM826 1405h2v1h-2zM690 1483h2v2h-2zM941 1435h2v2h-2zM893 1477h1v2h-1zM758 1443h1v1h-1zM602 1430h2v1h-2zM794 1401h2v1h-2zM723 1437h1v1h-1zM700 1464h1v1h-1zM753 1432h2v2h-2zM705 1478h2v2h-2zM834 1421h2v2h-2zM891 1461h2v1h-2zM940 1438h2v2h-2zM628 1440h2v2h-2zM653 1474h1v2h-1zM659 1437h1v1h-1zM740 1459h1v2h-1zM854 1433h2v2h-2zM775 1402h1v1h-1zM802 1423h1v1h-1zM590 1434h2v2h-2zM827 1433h1v1h-1zM866 1442h2v1h-2zM586 1435h2v1h-2zM795 1407h2v2h-2zM965 1420h1v2h-1zM695 1468h2v2h-2zM755 1441h2v1h-2zM604 1445h1v2h-1zM675 1441h2v2h-2zM742 1439h2v2h-2zM664 1477h1v1h-1zM820 1440h2v1h-2zM893 1431h1v2h-1zM665 1469h2v1h-2zM873 1422h2v1h-2zM925 1425h1v1h-1zM793 1437h2v1h-2zM812 1432h2v2h-2zM754 1429h2v2h-2zM775 1405h2v2h-2zM1016 1387h1v1h-1zM737 1422h2v1h-2zM876 1443h2v1h-2zM767 1396h2v1h-2zM662 1484h1v1h-1zM863 1442h1v2h-1zM879 1429h1v2h-1zM668 1486h2v1h-2zM732 1431h1v2h-1zM717 1446h1v2h-1zM620 1451h1v1h-1zM694 1465h2v1h-2zM834 1416h1v1h-1zM772 1401h1v1h-1zM805 1411h1v2h-1zM935 1418h1v2h-1zM918 1424h1v2h-1zM931 1419h2v1h-2zM812 1413h2v1h-2zM632 1434h2v2h-2zM897 1456h1v2h-1zM705 1473h1v1h-1zM822 1417h1v2h-1zM916 1454h2v1h-2zM734 1445h1v1h-1zM693 1433h1v1h-1zM721 1433h1v1h-1zM952 1413h2v1h-2zM827 1406h1v2h-1zM641 1456h1v2h-1zM770 1431h2v2h-2zM619 1435h1v1h-1zM733 1443h2v1h-2zM731 1455h1v1h-1zM725 1442h1v1h-1zM661 1452h2v2h-2zM764 1422h1v1h-1zM849 1420h2v1h-2zM688 1487h1v2h-1zM656 1479h1v2h-1zM931 1427h1v2h-1zM701 1481h1v1h-1zM614 1434h2v1h-2zM843 1447h1v1h-1zM613 1439h1v2h-1zM837 1405h2v2h-2zM741 1437h1v1h-1zM685 1475h1v1h-1zM892 1455h1v1h-1zM939 1417h1v2h-1zM612 1434h2v2h-2zM685 1481h1v2h-1zM846 1414h2v2h-2zM876 1465h1v2h-1zM898 1422h2v1h-2zM577 1423h2v1h-2zM785 1420h1v2h-1zM955 1414h2v2h-2zM891 1431h2v2h-2zM734 1428h2v1h-2zM936 1432h1v1h-1zM776 1403h2v1h-2zM701 1487h1v2h-1zM692 1483h1v1h-1zM952 1411h2v1h-2zM793 1433h2v1h-2zM935 1436h2v2h-2zM846 1426h1v1h-1zM684 1485h1v2h-1zM1000 1384h2v2h-2zM844 1417h2v1h-2zM758 1440h2v2h-2zM731 1443h2v1h-2zM721 1479h2v1h-2zM614 1439h1v2h-1zM661 1475h1v1h-1zM815 1437h1v1h-1zM622 1464h1v2h-1zM673 1460h1v2h-1zM625 1450h2v2h-2zM758 1430h1v2h-1zM857 1450h1v1h-1zM876 1448h2v2h-2zM813 1434h2v1h-2zM677 1445h2v2h-2zM590 1438h1v1h-1zM770 1409h1v2h-1zM656 1476h2v2h-2zM848 1426h2v2h-2zM749 1426h2v2h-2zM709 1451h1v1h-1zM917 1421h2v2h-2zM839 1404h2v2h-2zM889 1459h1v2h-1zM812 1415h1v2h-1zM604 1444h2v1h-2zM760 1445h2v2h-2zM755 1448h1v2h-1zM620 1451h1v2h-1zM931 1426h1v2h-1zM1005 1391h1v2h-1zM889 1475h2v2h-2zM641 1455h2v2h-2zM884 1444h1v2h-1zM830 1446h1v1h-1zM734 1450h2v2h-2zM672 1475h2v1h-2zM717 1438h2v2h-2zM642 1471h2v1h-2zM692 1434h1v1h-1zM887 1435h2v1h-2zM887 1434h1v1h-1zM633 1470h2v1h-2zM775 1401h1v2h-1zM595 1444h1v1h-1zM718 1417h1v2h-1zM956 1415h1v1h-1zM1006 1386h1v2h-1zM854 1446h1v1h-1zM979 1398h1v1h-1zM848 1422h2v2h-2zM708 1446h2v1h-2zM655 1464h2v2h-2zM888 1488h1v1h-1zM973 1404h2v2h-2zM676 1449h2v1h-2zM890 1469h1v2h-1zM712 1469h1v2h-1zM666 1440h1v2h-1zM761 1432h1v1h-1zM932 1413h2v1h-2zM890 1437h2v1h-2zM811 1416h2v1h-2zM719 1474h2v2h-2zM889 1489h1v2h-1zM902 1448h2v1h-2zM708 1450h2v1h-2zM743 1434h1v1h-1zM667 1475h2v2h-2zM1019 1376h2v1h-2zM828 1419h2v2h-2zM917 1432h2v1h-2zM783 1418h1v1h-1zM871 1434h2v2h-2zM876 1447h1v2h-1zM656 1481h2v2h-2zM773 1439h1v1h-1zM778 1444h2v2h-2zM696 1472h1v1h-1zM725 1462h1v1h-1zM837 1400h1v1h-1zM682 1449h1v1h-1zM763 1448h2v1h-2zM717 1437h2v1h-2zM958 1425h1v1h-1zM844 1400h2v1h-2zM752 1398h2v1h-2zM893 1455h1v1h-1zM754 1445h1v2h-1zM822 1397h1v2h-1zM965 1421h1v1h-1zM658 1443h1v2h-1zM726 1474h1v2h-1zM742 1410h2v2h-2zM830 1431h2v2h-2zM764 1407h2v1h-2zM860 1461h1v1h-1zM867 1435h2v1h-2zM602 1447h2v2h-2zM855 1408h1v1h-1zM725 1433h1v2h-1zM792 1408h1v2h-1zM781 1400h2v1h-2zM755 1410h1v2h-1zM667 1486h2v1h-2zM746 1440h1v1h-1zM573 1429h1v2h-1zM595 1433h2v2h-2zM739 1465h2v1h-2zM867 1472h2v2h-2zM940 1425h1v2h-1zM859 1457h1v2h-1zM614 1455h2v1h-2zM920 1424h1v2h-1zM870 1440h2v1h-2zM843 1400h2v2h-2zM861 1454h1v2h-1zM657 1485h1v2h-1zM630 1431h2v1h-2zM920 1442h1v2h-1zM795 1438h2v1h-2zM934 1420h2v2h-2zM640 1448h1v2h-1zM813 1411h2v1h-2zM733 1443h2v1h-2zM862 1465h1v1h-1zM866 1469h1v2h-1zM857 1448h2v1h-2zM850 1433h2v1h-2zM821 1426h2v2h-2zM639 1473h2v1h-2zM940 1429h1v2h-1zM806 1441h2v2h-2zM871 1466h1v1h-1zM633 1464h2v2h-2zM764 1445h1v1h-1zM765 1399h2v2h-2zM653 1470h2v1h-2zM697 1447h2v1h-2zM671 1488h1v2h-1zM770 1426h1v2h-1zM723 1482h2v2h-2zM799 1430h1v1h-1zM626 1461h2v1h-2zM820 1431h1v1h-1zM870 1451h1v1h-1zM843 1426h2v2h-2zM875 1419h1v2h-1zM614 1444h1v2h-1zM813 1402h2v2h-2zM826 1439h1v2h-1zM868 1418h1v1h-1zM780 1421h2v2h-2zM875 1448h1v2h-1zM877 1415h2v2h-2zM801 1434h1v2h-1zM918 1451h1v1h-1zM663 1441h2v2h-2zM955 1418h1v2h-1zM731 1412h1v1h-1zM674 1435h1v1h-1zM847 1408h1v2h-1zM843 1410h2v2h-2zM925 1437h1v1h-1zM556 1415h2v2h-2zM884 1430h2v2h-2zM790 1398h2v1h-2zM795 1425h1v2h-1zM751 1457h1v1h-1zM633 1456h2v2h-2zM615 1459h2v1h-2zM856 1418h2v2h-2zM717 1416h1v2h-1zM878 1426h1v1h-1zM986 1395h1v2h-1zM847 1424h2v1h-2zM926 1436h2v1h-2zM852 1429h2v1h-2zM987 1401h2v1h-2zM676 1482h2v2h-2zM805 1432h2v2h-2zM935 1444h1v1h-1zM671 1465h1v2h-1zM655 1465h2v2h-2zM681 1467h1v2h-1zM688 1449h1v1h-1zM757 1443h1v1h-1zM710 1451h1v2h-1zM807 1434h1v2h-1zM894 1429h2v1h-2zM617 1437h2v2h-2zM715 1433h1v2h-1zM933 1420h1v1h-1zM957 1427h1v1h-1zM603 1435h1v2h-1zM664 1482h2v2h-2zM670 1480h1v1h-1zM843 1415h2v1h-2zM706 1425h2v1h-2zM934 1415h1v1h-1zM662 1450h1v2h-1zM711 1487h1v2h-1zM905 1471h2v1h-2zM768 1443h2v1h-2zM729 1411h1v1h-1zM838 1450h2v2h-2zM659 1443h1v2h-1zM811 1414h1v1h-1zM796 1408h2v1h-2zM659 1439h1v2h-1zM711 1478h1v2h-1zM719 1418h2v2h-2zM797 1408h1v1h-1zM778 1420h1v1h-1zM875 1420h2v2h-2zM821 1425h2v2h-2zM753 1449h2v2h-2zM800 1404h1v2h-1zM671 1453h2v1h-2zM758 1450h2v1h-2zM756 1441h2v1h-2zM704 1484h2v2h-2zM722 1413h1v1h-1zM783 1432h2v2h-2zM707 1422h1v2h-1zM879 1469h1v1h-1z"/>
<path fill="#60c040" opacity="0.7" d="M813 1438h1v2h-1zM721 1426h1v1h-1zM985 1394h1v2h-1zM814 1425h2v1h-2zM723 1463h2v2h-2zM870 1455h2v1h-2zM665 1479h1v1h-1zM734 1420h2v1h-2zM749 1448h2v2h-2zM823 1440h1v1h-1zM896 1467h2v1h-2zM891 1442h1v2h-1zM712 1461h2v2h-2zM756 1401h2v2h-2zM817 1402h2v2h-2zM573 1418h1v2h-1zM1002 1384h1v2h-1zM674 1460h2v1h-2zM850 1448h2v2h-2zM736 1468h2v2h-2zM947 1426h2v2h-2zM683 1469h1v2h-1zM671 1436h1v2h-1zM766 1431h1v2h-1zM941 1434h2v1h-2zM955 1415h1v2h-1zM647 1454h1v2h-1zM919 1452h2v1h-2zM765 1448h2v1h-2zM733 1418h2v2h-2zM659 1484h1v2h-1zM891 1446h2v2h-2zM804 1411h2v1h-2zM938 1422h1v1h-1zM614 1448h2v1h-2zM850 1422h1v1h-1zM794 1411h2v1h-2zM877 1475h2v2h-2zM708 1443h2v1h-2zM639 1446h1v2h-1zM701 1455h2v1h-2zM815 1396h2v2h-2zM686 1448h1v2h-1zM903 1436h1v1h-1zM917 1454h2v1h-2zM999 1390h1v1h-1zM927 1435h2v2h-2zM967 1417h2v1h-2zM586 1437h1v2h-1zM867 1470h2v2h-2zM848 1443h2v1h-2zM827 1436h1v1h-1zM765 1398h2v1h-2zM869 1463h1v2h-1zM739 1420h2v2h-2zM601 1440h1v1h-1zM737 1424h1v1h-1zM917 1444h1v2h-1zM593 1440h1v2h-1zM705 1462h2v1h-2zM723 1486h1v2h-1zM795 1412h1v1h-1zM799 1410h1v2h-1zM683 1477h2v2h-2zM645 1473h1v1h-1zM896 1481h1v2h-1zM874 1454h1v1h-1zM806 1415h2v2h-2zM889 1456h1v1h-1zM744 1418h1v2h-1zM854 1418h1v2h-1zM896 1477h1v1h-1zM726 1441h2v1h-2zM778 1414h1v2h-1zM716 1456h1v2h-1zM799 1419h1v2h-1zM956 1429h1v1h-1zM839 1419h1v1h-1zM657 1465h1v1h-1zM682 1486h2v1h-2zM791 1415h1v1h-1zM852 1459h1v2h-1zM892 1437h1v2h-1zM908 1428h2v2h-2zM810 1414h2v1h-2zM837 1440h1v1h-1zM628 1440h1v1h-1zM756 1399h2v2h-2zM863 1414h2v2h-2zM693 1437h1v1h-1zM727 1441h1v1h-1zM653 1473h2v1h-2zM822 1415h1v1h-1zM869 1475h2v1h-2zM664 1444h2v1h-2zM714 1424h2v1h-2zM840 1398h1v2h-1zM869 1453h2v2h-2zM761 1411h1v1h-1zM671 1438h2v1h-2zM871 1464h2v1h-2zM651 1437h2v2h-2zM719 1426h1v1h-1zM719 1462h1v1h-1zM783 1417h1v2h-1zM951 1415h2v2h-2zM640 1446h2v1h-2zM815 1397h2v2h-2zM813 1437h1v1h-1zM628 1430h2v2h-2zM729 1434h2v1h-2zM899 1435h1v2h-1zM614 1455h2v2h-2zM882 1420h2v1h-2zM795 1431h1v2h-1zM924 1440h2v2h-2zM589 1440h1v1h-1zM631 1447h2v1h-2zM628 1461h2v2h-2zM918 1448h1v1h-1zM928 1418h1v2h-1zM701 1476h1v1h-1zM777 1429h2v1h-2zM758 1400h2v2h-2zM715 1472h1v1h-1zM630 1442h2v2h-2zM797 1419h1v2h-1zM760 1430h1v2h-1zM731 1422h1v1h-1zM883 1416h1v2h-1zM654 1481h1v2h-1zM850 1431h1v1h-1zM703 1482h2v1h-2zM897 1450h2v2h-2zM992 1389h1v2h-1zM896 1445h2v1h-2zM744 1459h2v2h-2zM617 1440h1v1h-1zM709 1478h1v1h-1zM731 1462h1v1h-1zM932 1434h2v1h-2zM1014 1383h1v1h-1zM569 1421h1v1h-1zM835 1416h2v2h-2zM882 1438h1v1h-1zM731 1444h2v2h-2zM851 1445h1v2h-1zM935 1443h1v2h-1zM751 1422h1v2h-1zM666 1474h2v2h-2zM883 1423h1v2h-1zM870 1478h2v1h-2zM727 1461h2v2h-2zM640 1443h1v1h-1zM826 1415h1v1h-1zM888 1452h2v2h-2zM708 1458h1v2h-1zM894 1434h1v1h-1zM915 1443h2v1h-2zM1014 1388h1v1h-1zM806 1398h1v2h-1zM833 1405h1v1h-1zM734 1439h2v1h-2zM953 1408h2v1h-2zM665 1454h2v1h-2zM706 1481h1v2h-1zM749 1455h1v2h-1zM681 1462h2v2h-2zM735 1448h1v2h-1zM811 1429h1v2h-1zM839 1405h1v2h-1zM942 1413h1v1h-1zM917 1435h1v2h-1zM916 1457h2v2h-2zM759 1440h1v1h-1zM933 1443h2v2h-2zM942 1416h2v1h-2zM740 1404h2v2h-2zM960 1418h1v1h-1zM679 1462h2v1h-2zM855 1451h2v1h-2zM747 1456h2v1h-2zM761 1449h1v1h-1zM966 1406h2v2h-2zM938 1427h2v1h-2zM865 1416h2v2h-2zM856 1460h2v2h-2zM751 1437h1v2h-1zM1007 1385h1v2h-1zM871 1459h2v1h-2zM905 1451h2v1h-2zM689 1444h2v1h-2zM616 1446h1v2h-1zM779 1409h1v1h-1zM901 1428h1v1h-1zM806 1417h2v1h-2zM711 1457h1v2h-1zM822 1439h2v2h-2zM730 1471h1v1h-1zM612 1433h2v1h-2zM769 1443h2v2h-2zM757 1417h1v2h-1zM910 1419h2v2h-2zM728 1478h1v1h-1zM750 1432h1v1h-1zM715 1483h1v1h-1zM774 1439h1v1h-1zM675 1468h2v1h-2zM648 1455h1v2h-1zM873 1441h2v1h-2zM952 1423h1v2h-1zM780 1416h1v1h-1zM828 1412h2v2h-2zM700 1472h1v2h-1zM721 1432h2v1h-2zM931 1440h2v2h-2zM690 1440h1v1h-1zM582 1429h1v1h-1zM844 1412h2v1h-2zM858 1448h2v2h-2zM779 1402h2v1h-2zM601 1438h1v2h-1zM854 1454h2v2h-2zM616 1445h1v2h-1zM780 1423h2v2h-2zM887 1451h1v1h-1zM683 1454h1v1h-1zM609 1433h2v2h-2zM617 1440h1v2h-1zM770 1414h2v1h-2zM955 1415h1v2h-1zM664 1481h1v1h-1zM694 1472h1v1h-1zM909 1430h1v1h-1zM776 1429h2v1h-2zM674 1441h2v1h-2zM684 1468h2v2h-2zM869 1435h2v1h-2zM956 1424h1v1h-1zM749 1442h2v1h-2zM863 1465h1v1h-1zM638 1439h1v2h-1zM695 1466h2v2h-2zM736 1436h1v2h-1zM947 1415h1v1h-1zM886 1433h1v1h-1zM825 1426h1v2h-1zM616 1445h2v1h-2zM784 1439h2v2h-2zM917 1444h2v2h-2zM752 1431h2v2h-2zM918 1436h2v1h-2zM915 1438h2v2h-2zM780 1429h2v1h-2zM893 1417h2v2h-2zM732 1452h1v1h-1zM1004 1383h2v1h-2zM739 1432h1v1h-1zM858 1427h2v2h-2zM919 1445h1v1h-1zM782 1435h1v1h-1zM864 1424h1v2h-1zM959 1418h1v2h-1zM885 1446h2v2h-2zM885 1438h2v1h-2zM726 1428h2v2h-2zM717 1485h2v2h-2zM842 1451h2v1h-2zM676 1483h2v2h-2zM780 1411h2v2h-2zM667 1488h1v2h-1zM742 1409h2v2h-2zM823 1433h1v2h-1zM711 1455h2v2h-2zM715 1481h2v1h-2zM778 1437h1v2h-1zM764 1406h2v2h-2zM679 1438h2v1h-2zM880 1474h1v1h-1zM720 1453h2v2h-2zM768 1424h2v1h-2zM908 1439h2v1h-2zM743 1402h1v2h-1zM851 1408h1v1h-1zM713 1430h2v1h-2zM686 1485h1v2h-1zM584 1434h2v1h-2zM803 1421h1v2h-1zM700 1437h2v1h-2zM895 1432h1v2h-1zM763 1406h2v2h-2zM848 1429h1v1h-1zM695 1448h1v1h-1zM695 1455h2v1h-2zM711 1438h1v1h-1zM649 1458h1v2h-1zM874 1456h1v2h-1zM787 1414h1v1h-1zM898 1420h2v1h-2zM958 1421h2v1h-2zM684 1460h1v1h-1zM903 1460h1v2h-1zM712 1474h2v2h-2zM733 1451h2v2h-2zM910 1437h1v2h-1zM861 1447h2v2h-2zM794 1426h2v2h-2zM632 1458h2v2h-2zM716 1474h2v2h-2zM823 1396h2v1h-2zM785 1406h1v1h-1zM670 1435h2v1h-2zM850 1453h2v2h-2zM713 1474h2v2h-2zM694 1437h2v2h-2zM782 1429h1v2h-1zM859 1440h1v2h-1zM633 1461h1v2h-1zM712 1430h1v1h-1zM892 1425h2v2h-2zM878 1486h2v1h-2zM935 1428h2v2h-2zM658 1438h2v2h-2zM734 1467h1v1h-1zM612 1436h2v1h-2zM887 1447h1v1h-1zM689 1458h2v2h-2zM782 1414h1v1h-1zM823 1417h1v1h-1zM883 1483h2v2h-2zM811 1406h2v2h-2zM880 1415h2v1h-2zM638 1460h1v1h-1zM813 1418h1v1h-1zM724 1454h1v2h-1zM890 1431h2v1h-2zM698 1442h2v1h-2zM771 1408h1v1h-1zM816 1435h2v1h-2zM875 1442h2v1h-2zM893 1447h1v2h-1zM732 1472h1v1h-1zM805 1417h2v2h-2zM943 1410h1v2h-1zM824 1405h2v2h-2zM732 1452h1v2h-1zM599 1438h2v1h-2zM571 1424h2v1h-2zM904 1471h2v2h-2zM631 1431h1v1h-1zM890 1457h2v2h-2zM894 1468h1v1h-1zM607 1439h2v2h-2zM635 1466h2v1h-2zM722 1465h2v1h-2zM861 1458h2v1h-2zM840 1444h2v1h-2zM829 1438h2v1h-2z"/>
<path fill="#a0c040" opacity="0.7" d="M905 1462h2v1h-2zM783 1431h2v2h-2zM819 1411h1v2h-1zM900 1461h2v2h-2zM780 1440h2v2h-2zM907 1451h2v2h-2zM621 1431h2v2h-2zM870 1449h2v2h-2zM715 1445h1v1h-1zM744 1400h2v2h-2zM639 1449h1v1h-1zM687 1462h1v1h-1zM921 1454h1v2h-1zM631 1440h1v1h-1zM701 1456h2v1h-2zM674 1451h2v2h-2zM954 1431h2v1h-2zM739 1460h2v1h-2zM644 1446h2v2h-2zM877 1464h1v1h-1zM855 1448h1v2h-1zM709 1437h1v1h-1zM843 1446h1v1h-1zM718 1420h1v2h-1zM802 1418h2v2h-2zM651 1464h2v1h-2zM724 1458h1v2h-1zM817 1435h2v2h-2zM950 1409h1v1h-1zM755 1430h1v2h-1zM868 1449h2v2h-2zM864 1413h1v2h-1zM733 1465h2v1h-2zM706 1424h2v2h-2zM887 1466h2v1h-2zM922 1417h1v2h-1zM926 1436h2v1h-2zM865 1424h1v1h-1zM726 1464h2v1h-2zM893 1433h1v2h-1zM597 1446h1v2h-1zM894 1425h2v2h-2zM911 1432h2v2h-2zM715 1466h2v1h-2zM613 1457h2v1h-2zM928 1440h1v1h-1zM946 1426h1v2h-1zM805 1433h2v1h-2zM731 1470h2v2h-2zM885 1473h2v1h-2zM716 1431h2v1h-2zM928 1419h2v2h-2zM798 1439h1v2h-1zM770 1438h2v2h-2zM724 1471h2v1h-2zM988 1398h1v2h-1zM768 1418h2v2h-2zM676 1464h1v2h-1zM719 1474h1v2h-1zM754 1451h2v2h-2zM904 1449h1v1h-1zM833 1404h1v1h-1zM866 1416h2v1h-2zM640 1438h1v2h-1zM777 1441h1v2h-1zM866 1456h1v2h-1zM723 1448h2v1h-2zM724 1461h1v1h-1zM870 1448h1v1h-1zM761 1398h1v1h-1zM728 1473h1v1h-1zM782 1422h2v2h-2zM1006 1397h1v2h-1zM609 1431h1v2h-1zM801 1405h2v1h-2zM704 1446h2v1h-2zM615 1435h2v1h-2zM635 1460h1v1h-1zM679 1439h2v1h-2zM898 1476h1v2h-1zM684 1447h1v1h-1zM792 1420h2v1h-2zM778 1428h1v1h-1zM671 1447h2v2h-2zM748 1437h1v2h-1zM744 1413h1v2h-1zM755 1414h2v1h-2zM845 1417h1v1h-1zM646 1440h1v2h-1zM677 1476h2v1h-2zM738 1445h2v2h-2zM754 1441h1v1h-1zM884 1443h1v2h-1zM639 1459h1v2h-1zM959 1417h2v1h-2zM738 1409h1v2h-1zM697 1430h2v2h-2zM707 1484h2v1h-2zM856 1420h2v1h-2zM598 1443h2v2h-2zM638 1467h1v1h-1zM687 1438h1v2h-1zM878 1419h1v2h-1zM598 1430h2v1h-2zM934 1428h1v1h-1zM878 1457h1v2h-1zM837 1412h1v1h-1zM762 1417h1v2h-1zM654 1453h1v2h-1zM833 1432h1v2h-1zM939 1419h1v1h-1zM716 1466h2v1h-2zM641 1476h2v2h-2zM735 1444h2v1h-2zM757 1441h1v2h-1zM751 1424h1v2h-1zM874 1449h1v1h-1zM707 1477h2v1h-2zM716 1486h2v2h-2zM872 1446h1v2h-1zM737 1458h1v2h-1zM657 1481h1v1h-1zM617 1438h2v2h-2zM844 1446h2v2h-2zM718 1416h1v2h-1zM857 1438h2v1h-2zM944 1419h2v1h-2zM653 1466h1v1h-1zM702 1441h1v2h-1zM671 1443h1v2h-1zM876 1450h2v1h-2zM840 1439h2v1h-2zM873 1445h2v1h-2zM832 1429h1v1h-1zM705 1436h1v1h-1zM847 1410h1v1h-1zM744 1407h1v2h-1zM595 1441h2v1h-2zM674 1443h1v2h-1zM701 1466h1v2h-1zM971 1406h2v1h-2zM774 1415h2v1h-2zM809 1425h1v1h-1zM988 1400h1v1h-1zM598 1441h1v2h-1zM806 1438h1v2h-1zM762 1448h1v2h-1zM829 1423h1v1h-1zM899 1480h1v1h-1zM639 1433h1v2h-1zM859 1424h2v1h-2zM790 1407h1v1h-1zM820 1430h2v1h-2zM863 1412h1v2h-1zM860 1460h1v2h-1zM893 1424h1v1h-1zM671 1480h1v2h-1zM807 1427h2v2h-2zM900 1443h2v1h-2zM658 1455h2v1h-2zM651 1479h1v2h-1zM795 1415h1v1h-1zM863 1416h2v2h-2zM685 1435h1v2h-1zM677 1437h2v2h-2zM855 1456h1v2h-1zM650 1435h2v2h-2zM731 1475h2v2h-2zM689 1473h1v2h-1zM948 1418h2v1h-2zM709 1440h2v1h-2zM645 1448h1v2h-1zM650 1438h1v1h-1zM657 1442h2v2h-2zM867 1452h2v1h-2zM696 1484h2v1h-2zM787 1401h2v1h-2zM904 1458h2v1h-2zM806 1423h1v1h-1zM834 1437h2v2h-2zM682 1464h1v2h-1zM718 1469h1v1h-1zM716 1472h1v2h-1zM937 1419h2v1h-2zM694 1452h1v1h-1zM839 1411h2v2h-2zM818 1395h1v2h-1zM663 1488h2v2h-2zM724 1475h1v2h-1zM791 1411h2v1h-2zM988 1397h1v1h-1zM678 1485h1v1h-1zM937 1440h1v1h-1zM759 1436h1v1h-1zM715 1418h1v1h-1zM726 1455h1v2h-1zM690 1484h2v2h-2zM655 1468h1v1h-1zM905 1451h1v1h-1zM900 1432h2v2h-2zM902 1427h2v2h-2zM717 1484h2v2h-2zM653 1436h1v2h-1zM723 1432h1v1h-1zM963 1422h1v1h-1zM553 1411h1v1h-1zM570 1426h1v1h-1zM901 1462h1v2h-1zM777 1408h1v1h-1zM822 1431h2v2h-2zM755 1438h1v2h-1zM810 1399h2v1h-2zM757 1427h1v1h-1zM887 1442h1v2h-1zM922 1426h1v2h-1zM898 1437h1v2h-1zM863 1445h1v2h-1zM982 1406h1v1h-1zM826 1443h2v2h-2zM621 1432h1v1h-1zM714 1420h2v1h-2zM870 1453h2v1h-2zM829 1439h1v1h-1zM899 1449h2v2h-2zM803 1398h1v2h-1zM769 1426h2v1h-2zM813 1394h2v2h-2zM759 1397h2v1h-2zM857 1433h1v2h-1zM788 1429h2v1h-2zM866 1422h2v2h-2zM640 1439h1v2h-1zM803 1398h2v1h-2zM832 1430h2v2h-2zM720 1441h1v1h-1zM656 1486h1v1h-1zM958 1410h1v2h-1zM618 1429h1v2h-1zM853 1432h2v1h-2zM637 1445h2v1h-2zM692 1450h1v2h-1zM800 1425h1v1h-1zM823 1423h2v1h-2zM856 1416h1v1h-1zM866 1426h2v1h-2zM862 1449h2v2h-2zM942 1419h2v2h-2zM622 1436h2v2h-2zM889 1418h1v2h-1zM876 1425h1v2h-1zM673 1488h2v1h-2zM988 1399h1v2h-1zM788 1404h2v2h-2zM641 1448h1v1h-1zM768 1406h2v1h-2zM1009 1381h2v2h-2zM724 1414h2v2h-2zM708 1455h2v2h-2zM703 1429h1v2h-1zM971 1413h2v1h-2zM830 1403h1v1h-1zM875 1467h1v2h-1zM719 1424h1v1h-1zM872 1451h1v1h-1zM854 1436h2v1h-2zM1005 1392h2v1h-2zM706 1462h1v2h-1zM750 1433h1v2h-1zM963 1410h2v2h-2zM822 1433h2v1h-2zM874 1450h1v2h-1zM914 1442h2v2h-2zM891 1455h2v2h-2zM977 1401h2v1h-2zM735 1441h1v2h-1zM716 1424h2v2h-2zM822 1425h1v2h-1zM810 1438h1v1h-1zM637 1447h2v2h-2zM708 1442h2v1h-2zM919 1430h1v1h-1zM679 1466h1v1h-1zM739 1457h1v2h-1zM984 1406h2v1h-2zM649 1481h2v2h-2zM800 1432h2v2h-2zM745 1413h1v2h-1zM655 1462h1v1h-1zM810 1414h1v1h-1zM979 1399h1v1h-1zM875 1460h2v1h-2zM788 1411h2v1h-2zM953 1426h1v2h-1zM610 1431h1v2h-1zM753 1432h1v2h-1zM629 1465h1v1h-1zM681 1484h1v1h-1zM709 1439h1v1h-1zM838 1415h2v1h-2zM831 1418h1v1h-1zM808 1439h2v1h-2zM880 1477h1v1h-1zM847 1449h2v2h-2zM600 1429h2v2h-2zM703 1439h2v1h-2zM726 1461h2v1h-2zM750 1426h1v2h-1zM691 1466h1v1h-1zM805 1423h1v1h-1zM596 1442h2v2h-2zM791 1439h1v1h-1zM793 1399h2v2h-2zM907 1460h1v1h-1zM804 1437h2v2h-2zM696 1452h1v2h-1zM895 1473h1v1h-1zM857 1439h2v1h-2zM751 1446h1v2h-1zM875 1458h2v1h-2zM786 1434h2v1h-2zM838 1417h1v1h-1zM711 1447h2v1h-2zM996 1388h1v1h-1zM684 1462h2v2h-2zM966 1409h2v2h-2zM736 1434h2v1h-2zM675 1477h1v2h-1zM995 1396h1v1h-1zM661 1472h1v2h-1zM1000 1395h1v1h-1zM744 1422h2v2h-2zM803 1403h1v2h-1zM729 1414h1v1h-1zM969 1403h1v2h-1zM562 1411h1v2h-1zM735 1453h1v1h-1zM652 1445h2v2h-2zM820 1406h1v1h-1zM735 1408h2v2h-2zM613 1430h2v2h-2z"/>
<path fill="#e08030" opacity="0.5" d="M690 1489h2v2h-2zM693 1487h2v2h-2zM744 1437h1v2h-1zM697 1441h1v1h-1zM739 1437h1v1h-1zM700 1464h2v2h-2zM769 1425h1v2h-1zM751 1432h2v2h-2zM758 1417h2v1h-2zM713 1477h1v2h-1zM773 1405h2v2h-2zM711 1425h2v2h-2zM773 1447h1v2h-1zM712 1447h1v1h-1zM720 1469h2v2h-2zM699 1444h2v1h-2zM700 1475h1v1h-1zM752 1457h2v1h-2zM768 1434h2v1h-2zM739 1416h1v1h-1zM757 1449h1v2h-1zM719 1451h1v1h-1zM749 1446h1v1h-1zM723 1438h1v2h-1zM737 1453h1v1h-1zM714 1430h1v2h-1zM776 1434h1v1h-1zM762 1445h2v1h-2zM723 1468h1v2h-1zM713 1432h1v1h-1zM763 1447h2v2h-2zM739 1453h2v1h-2zM774 1431h2v2h-2zM713 1482h1v2h-1zM747 1424h1v2h-1zM772 1431h2v1h-2zM728 1449h2v2h-2zM712 1458h1v1h-1zM693 1483h1v2h-1zM770 1424h1v1h-1zM772 1418h2v1h-2zM738 1415h1v2h-1zM720 1472h1v1h-1zM739 1455h1v1h-1zM690 1461h1v2h-1zM742 1425h2v2h-2zM699 1427h2v2h-2zM722 1473h2v1h-2zM730 1441h2v1h-2zM727 1450h2v1h-2zM757 1444h1v2h-1zM751 1440h1v1h-1zM726 1427h1v1h-1zM739 1442h2v1h-2zM751 1446h1v1h-1zM698 1459h1v2h-1zM691 1479h1v2h-1zM750 1459h2v2h-2zM771 1404h2v1h-2zM698 1470h1v1h-1zM725 1463h1v2h-1zM745 1430h1v1h-1zM770 1441h2v1h-2zM744 1440h2v1h-2zM759 1419h2v2h-2zM715 1441h2v2h-2zM758 1421h1v1h-1zM729 1445h1v1h-1zM724 1465h2v1h-2zM707 1474h2v1h-2zM740 1414h2v2h-2zM755 1409h2v1h-2zM739 1423h2v2h-2zM776 1441h2v2h-2zM734 1443h2v1h-2zM704 1474h1v2h-1z"/>
<path fill="#d06030" opacity="0.5" d="M721 1418h1v2h-1zM722 1480h2v2h-2zM746 1456h1v2h-1zM693 1462h1v1h-1zM706 1486h1v1h-1zM723 1471h2v2h-2zM785 1419h1v2h-1zM706 1446h2v1h-2zM719 1479h1v2h-1zM704 1427h1v2h-1zM744 1441h2v2h-2zM755 1433h2v2h-2zM755 1441h1v2h-1zM705 1489h1v2h-1zM752 1455h1v2h-1zM751 1431h2v1h-2zM689 1459h1v2h-1zM773 1436h1v2h-1zM734 1420h2v1h-2zM703 1473h2v1h-2zM719 1477h1v1h-1zM757 1412h1v1h-1zM699 1445h1v1h-1zM765 1410h1v2h-1zM770 1435h2v2h-2zM725 1473h1v2h-1zM733 1472h1v1h-1zM732 1428h2v2h-2zM728 1438h1v2h-1zM759 1452h2v2h-2zM716 1425h2v2h-2zM723 1422h2v2h-2zM704 1468h1v2h-1zM721 1457h2v1h-2zM786 1420h2v1h-2zM785 1416h2v2h-2zM731 1422h1v2h-1zM691 1455h2v2h-2zM782 1419h1v2h-1zM767 1406h2v2h-2zM696 1483h1v2h-1zM739 1430h2v2h-2zM760 1436h1v1h-1zM725 1434h2v2h-2zM693 1465h1v2h-1zM759 1455h1v1h-1zM701 1476h1v2h-1zM723 1484h2v2h-2zM741 1446h2v1h-2zM714 1434h1v1h-1zM777 1433h1v2h-1zM705 1446h2v1h-2zM737 1445h2v2h-2zM734 1454h2v1h-2zM759 1409h2v1h-2zM755 1410h1v1h-1zM735 1460h1v1h-1zM715 1440h1v2h-1zM702 1468h2v2h-2zM755 1417h2v1h-2zM704 1440h1v2h-1zM691 1471h2v2h-2zM742 1414h1v1h-1zM747 1454h1v1h-1zM721 1419h1v2h-1zM729 1453h2v2h-2zM706 1480h2v1h-2zM736 1433h2v1h-2zM744 1452h1v1h-1zM758 1419h1v2h-1zM761 1451h2v2h-2zM731 1460h2v1h-2zM732 1445h2v2h-2zM736 1462h1v1h-1zM759 1414h2v1h-2zM756 1456h1v2h-1zM723 1436h2v2h-2zM776 1441h1v1h-1zM717 1427h2v1h-2zM718 1467h2v2h-2zM737 1435h2v2h-2zM757 1437h1v2h-1zM774 1413h1v2h-1zM704 1488h1v2h-1zM704 1434h1v1h-1zM734 1462h1v2h-1zM764 1419h1v2h-1zM692 1465h2v1h-2zM725 1450h1v2h-1zM746 1436h2v2h-2zM728 1431h2v1h-2zM780 1416h1v1h-1zM733 1419h2v2h-2zM692 1442h2v2h-2zM785 1416h1v1h-1zM750 1418h2v2h-2zM770 1415h1v2h-1zM721 1487h2v1h-2z"/>
<path fill="#c0a040" opacity="0.5" d="M693 1479h1v1h-1zM741 1465h1v1h-1zM702 1474h2v1h-2zM740 1438h2v1h-2zM742 1440h2v1h-2zM706 1481h1v1h-1zM753 1420h1v1h-1zM762 1443h1v2h-1zM773 1422h1v1h-1zM714 1486h1v1h-1zM752 1417h2v1h-2zM696 1460h1v1h-1zM721 1486h1v1h-1zM719 1449h2v1h-2zM692 1485h2v1h-2zM722 1435h2v1h-2zM767 1449h2v2h-2zM722 1437h2v2h-2zM766 1422h1v1h-1zM693 1483h2v1h-2zM762 1406h2v2h-2zM699 1472h2v1h-2zM701 1434h2v1h-2zM705 1464h2v1h-2zM732 1441h2v1h-2zM714 1452h2v1h-2zM751 1429h1v1h-1zM750 1460h1v2h-1zM690 1457h1v1h-1zM740 1414h2v1h-2zM712 1450h1v2h-1zM715 1430h1v1h-1zM727 1433h2v1h-2zM719 1427h2v2h-2zM708 1447h2v2h-2zM751 1457h2v1h-2zM728 1448h1v2h-1zM748 1413h1v1h-1zM691 1446h1v2h-1zM692 1478h2v1h-2zM754 1458h2v2h-2zM729 1454h2v2h-2zM733 1427h2v1h-2zM723 1444h1v1h-1zM704 1457h1v2h-1zM698 1469h1v1h-1zM741 1410h1v2h-1zM756 1433h2v1h-2zM775 1442h2v2h-2zM713 1466h2v2h-2zM703 1452h2v2h-2zM778 1417h1v2h-1zM730 1429h1v2h-1zM709 1459h1v1h-1zM753 1413h2v1h-2zM696 1458h2v2h-2zM746 1419h2v1h-2zM718 1485h1v2h-1zM765 1427h1v2h-1zM727 1479h2v1h-2zM698 1466h1v1h-1zM718 1488h1v2h-1zM713 1457h2v1h-2zM741 1457h2v2h-2zM760 1413h2v1h-2zM756 1439h2v2h-2zM731 1415h1v2h-1zM714 1430h2v1h-2zM715 1443h1v1h-1zM697 1456h2v1h-2zM742 1439h2v1h-2zM716 1469h1v2h-1zM747 1430h1v1h-1zM705 1438h2v2h-2zM763 1405h1v2h-1zM711 1473h1v1h-1zM763 1438h1v2h-1zM743 1453h2v2h-2zM770 1425h2v1h-2zM726 1441h1v1h-1zM776 1429h2v1h-2zM760 1430h2v1h-2zM747 1458h2v1h-2zM704 1445h1v2h-1zM746 1421h1v1h-1zM737 1428h2v1h-2z"/>
<path fill="#3ab050" opacity="0.6" d="M642 1487h1v1h-1zM587 1461h1v1h-1zM612 1485h1v2h-1zM628 1471h2v2h-2zM598 1480h1v1h-1zM582 1481h2v1h-2zM571 1452h2v2h-2zM573 1469h2v1h-2zM631 1475h2v2h-2zM603 1488h1v2h-1zM587 1454h1v2h-1zM618 1463h2v1h-2zM579 1483h2v1h-2zM557 1470h1v2h-1zM594 1464h1v1h-1zM609 1489h2v1h-2zM577 1486h1v1h-1zM588 1484h2v1h-2zM606 1464h1v2h-1zM577 1461h2v2h-2zM641 1474h1v1h-1zM624 1488h2v1h-2zM632 1472h1v1h-1zM558 1483h2v2h-2zM587 1479h1v1h-1zM570 1474h1v1h-1zM612 1464h2v2h-2zM616 1464h1v1h-1zM613 1456h1v1h-1zM631 1465h2v1h-2zM602 1454h2v2h-2zM629 1470h1v2h-1zM623 1477h2v1h-2zM633 1467h1v2h-1zM610 1462h2v2h-2zM630 1473h1v1h-1zM595 1458h2v1h-2zM630 1480h1v2h-1zM634 1478h2v2h-2zM603 1471h2v1h-2zM610 1481h1v1h-1zM571 1470h1v2h-1zM562 1483h2v2h-2zM626 1465h1v2h-1zM641 1480h1v2h-1zM587 1477h2v2h-2zM576 1477h2v2h-2zM555 1463h1v1h-1zM648 1488h1v1h-1zM587 1459h1v1h-1zM631 1485h2v2h-2zM595 1462h1v1h-1zM563 1476h1v2h-1zM611 1464h1v1h-1zM569 1488h1v1h-1zM626 1484h1v2h-1zM562 1449h1v2h-1zM600 1481h2v2h-2zM590 1459h1v2h-1zM602 1482h1v1h-1zM625 1458h1v2h-1zM619 1485h2v2h-2zM565 1454h2v1h-2zM616 1466h1v1h-1zM630 1485h1v2h-1zM565 1451h2v1h-2zM585 1465h2v2h-2z"/>
<path fill="#2a9040" opacity="0.6" d="M592 1468h1v1h-1zM586 1478h2v1h-2zM592 1470h2v1h-2zM586 1458h2v1h-2zM625 1465h1v1h-1zM604 1481h1v1h-1zM550 1479h2v2h-2zM613 1460h1v2h-1zM597 1465h1v1h-1zM638 1483h1v1h-1zM595 1463h1v2h-1zM631 1466h2v2h-2zM574 1488h1v2h-1zM567 1467h1v1h-1zM623 1466h2v2h-2zM608 1486h2v1h-2zM606 1478h2v2h-2zM555 1459h1v1h-1zM579 1481h2v2h-2zM644 1475h2v1h-2zM618 1488h1v1h-1zM581 1476h1v2h-1zM563 1486h2v1h-2zM557 1480h2v2h-2zM601 1457h2v2h-2zM614 1486h1v1h-1zM555 1475h2v2h-2zM559 1456h2v1h-2zM584 1454h1v2h-1zM556 1447h2v1h-2zM623 1479h2v2h-2zM579 1468h2v1h-2zM628 1469h1v2h-1zM558 1473h1v2h-1zM627 1463h2v2h-2zM568 1483h2v1h-2zM559 1474h1v2h-1zM640 1478h2v1h-2zM586 1479h2v2h-2zM569 1459h2v2h-2zM590 1487h1v2h-1zM572 1456h2v1h-2zM607 1468h2v2h-2zM644 1482h2v1h-2zM566 1459h2v1h-2zM629 1482h2v2h-2zM552 1448h1v2h-1zM603 1462h2v1h-2zM621 1486h1v2h-1zM551 1453h1v1h-1zM630 1479h2v1h-2zM559 1460h1v2h-1zM635 1487h1v2h-1z"/>
<path fill="#1e3a90" opacity="0.4" d="M885 1381h1v1h-1zM882 1367h1v2h-1zM908 1382h2v2h-2zM698 1388h1v1h-1zM900 1391h2v2h-2zM857 1320h2v2h-2zM942 1312h2v2h-2zM881 1334h1v2h-1zM923 1302h2v2h-2zM602 1292h2v2h-2zM898 1300h1v1h-1zM852 1298h1v2h-1zM836 1394h2v1h-2zM989 1302h2v1h-2zM815 1310h1v1h-1zM824 1324h2v2h-2zM835 1324h2v2h-2zM794 1335h1v2h-1zM729 1284h1v2h-1zM658 1353h2v2h-2zM1003 1306h2v1h-2zM1014 1301h2v2h-2zM886 1338h2v1h-2zM604 1295h1v2h-1zM925 1299h1v2h-1zM702 1293h2v2h-2zM834 1328h2v2h-2zM611 1299h2v1h-2zM694 1329h1v2h-1zM816 1308h2v2h-2zM757 1356h2v2h-2zM932 1381h1v2h-1zM942 1385h2v2h-2zM907 1288h1v2h-1zM633 1362h1v1h-1zM644 1339h2v1h-2zM750 1325h1v1h-1zM736 1293h1v1h-1zM895 1364h2v1h-2zM833 1284h2v2h-2zM724 1374h1v1h-1zM698 1325h1v2h-1zM1016 1295h1v1h-1zM987 1333h1v1h-1zM823 1314h1v2h-1zM946 1332h2v1h-2zM970 1375h2v2h-2zM887 1317h1v1h-1zM988 1365h2v1h-2zM719 1380h1v1h-1zM913 1351h1v2h-1zM622 1341h2v2h-2zM961 1363h2v2h-2zM605 1305h2v1h-2zM861 1340h2v1h-2zM621 1375h2v2h-2zM727 1383h2v1h-2zM927 1364h1v1h-1zM679 1326h1v1h-1zM653 1353h2v2h-2zM1005 1375h1v2h-1zM776 1377h2v2h-2zM900 1364h2v2h-2zM804 1311h1v1h-1zM968 1333h1v2h-1zM960 1294h2v1h-2zM847 1322h1v2h-1zM942 1320h1v2h-1zM813 1376h1v2h-1zM756 1330h2v1h-2z"/>
<path fill="#24409a" opacity="0.4" d="M948 1362h2v1h-2zM831 1300h2v1h-2zM664 1356h1v2h-1zM658 1306h1v1h-1zM710 1387h1v2h-1zM950 1381h1v1h-1zM734 1316h1v2h-1zM699 1367h2v1h-2zM973 1307h1v2h-1zM880 1288h2v1h-2zM796 1344h1v2h-1zM763 1359h2v2h-2zM611 1396h2v2h-2zM970 1313h2v2h-2zM718 1381h1v1h-1zM666 1373h1v2h-1zM904 1396h2v1h-2zM630 1326h2v1h-2zM625 1359h2v2h-2zM584 1382h2v1h-2zM947 1354h2v2h-2zM594 1389h2v1h-2zM795 1386h1v2h-1zM938 1293h1v2h-1zM847 1286h1v1h-1zM684 1329h2v2h-2zM829 1296h2v1h-2zM986 1350h1v2h-1zM549 1361h1v1h-1zM715 1338h1v2h-1zM900 1367h2v2h-2zM726 1398h1v1h-1zM849 1394h1v1h-1zM675 1373h2v2h-2zM705 1373h2v1h-2zM916 1288h2v1h-2zM762 1369h2v2h-2zM984 1297h1v2h-1zM997 1372h1v2h-1zM803 1367h2v1h-2zM981 1310h1v2h-1zM668 1371h2v2h-2zM607 1328h1v1h-1zM981 1365h2v2h-2zM554 1380h1v2h-1zM915 1291h1v2h-1zM872 1314h2v1h-2zM691 1352h1v1h-1zM637 1400h1v1h-1zM897 1374h1v1h-1zM572 1296h2v1h-2zM688 1284h2v2h-2zM945 1365h2v1h-2zM845 1353h1v1h-1zM972 1386h1v1h-1zM829 1341h1v1h-1zM750 1368h1v2h-1zM811 1400h2v1h-2zM659 1291h2v1h-2zM952 1309h1v1h-1zM877 1307h2v2h-2zM729 1389h1v1h-1zM817 1299h1v1h-1zM906 1358h2v1h-2zM938 1313h1v1h-1zM562 1325h1v1h-1zM947 1359h1v1h-1zM809 1392h1v2h-1zM998 1319h1v2h-1zM873 1387h2v1h-2zM920 1312h2v2h-2zM949 1346h1v2h-1zM571 1327h2v2h-2z"/>
<path fill="#183080" opacity="0.4" d="M629 1362h2v1h-2zM1015 1296h1v1h-1zM584 1359h2v2h-2zM611 1342h2v2h-2zM885 1378h1v2h-1zM708 1389h2v1h-2zM673 1346h2v1h-2zM635 1299h2v2h-2zM638 1326h2v1h-2zM710 1372h2v2h-2zM660 1318h2v2h-2zM993 1311h2v1h-2zM652 1380h1v1h-1zM913 1374h2v2h-2zM650 1312h2v1h-2zM711 1368h2v2h-2zM721 1305h2v2h-2zM614 1291h2v2h-2zM896 1381h2v2h-2zM608 1333h1v2h-1zM787 1370h1v2h-1zM743 1390h1v1h-1zM616 1350h2v2h-2zM669 1377h2v1h-2zM707 1397h2v1h-2zM611 1336h1v2h-1zM868 1293h2v2h-2zM658 1309h1v2h-1zM688 1351h2v1h-2zM705 1330h1v2h-1zM750 1301h1v1h-1zM972 1293h2v1h-2zM890 1372h1v2h-1zM787 1358h2v1h-2zM617 1296h2v1h-2zM701 1385h2v1h-2zM721 1331h1v2h-1zM581 1370h2v1h-2zM671 1324h2v1h-2zM833 1379h1v1h-1zM750 1320h2v1h-2zM1018 1397h2v2h-2zM676 1392h1v2h-1zM947 1383h2v1h-2zM851 1366h1v1h-1zM558 1326h2v1h-2zM895 1390h1v2h-1zM572 1287h1v2h-1zM908 1305h2v1h-2zM937 1324h1v2h-1zM688 1352h2v2h-2zM1013 1395h1v2h-1zM713 1321h2v2h-2zM907 1350h1v1h-1zM729 1296h1v2h-1zM575 1313h1v1h-1zM723 1395h1v2h-1z"/>
<path d="M611.4 1427.1C613.8 1427.1 620.5 1426.3 625.7 1427.1C630.9 1427.9 636.9 1430.5 642.4 1431.9C647.9 1433.3 653.5 1434.9 659.0 1435.5C664.5 1436.1 670.5 1436.1 675.7 1435.5C680.9 1434.9 685.2 1434.1 690.0 1431.9C694.8 1429.7 699.5 1425.2 704.3 1422.4C709.1 1419.6 713.8 1417.6 718.6 1415.2C723.4 1412.8 728.1 1410.9 732.9 1408.1C737.6 1405.3 742.8 1402.6 747.1 1398.6C751.5 1394.6 757.0 1386.7 759.0 1384.3" fill="none" stroke="#fff" stroke-width="2.6" stroke-dasharray="4.5 3.5"/>
<path d="M769.8 1360.5C770.4 1358.1 771.9 1351.0 773.3 1346.2C774.7 1341.4 776.2 1336.3 778.1 1331.9C780.0 1327.5 783.4 1321.9 784.4 1319.9" fill="none" stroke="#fff" stroke-width="2.6" stroke-dasharray="4.5 3.5"/>
<path d="M784.4 1319.9C785.5 1321.4 789.1 1325.5 791.1 1328.8C793.1 1332.1 794.9 1336.1 796.6 1339.8C798.3 1343.5 799.8 1347.6 801.1 1350.9C802.4 1354.2 803.9 1358.3 804.4 1359.8" fill="none" stroke="#fff" stroke-width="2.6" stroke-dasharray="4.5 3.5"/>
<path d="M812.1 1375.3C813.8 1377.2 818.2 1382.9 822.1 1386.4C826.0 1389.9 830.2 1393.5 835.4 1396.4C840.6 1399.4 847.2 1401.7 853.1 1404.1C859.0 1406.5 865.4 1408.8 870.9 1410.8C876.4 1412.8 881.2 1415.0 886.4 1416.3C891.6 1417.6 896.7 1418.5 901.9 1418.5C907.1 1418.5 911.9 1417.4 917.4 1416.3C922.9 1415.2 929.5 1413.4 935.1 1411.9C940.7 1410.4 945.9 1408.5 950.7 1407.4C955.5 1406.3 961.8 1405.6 964.0 1405.2" fill="none" stroke="#fff" stroke-width="2.6" stroke-dasharray="4.5 3.5"/>
<path d="M549.5 1404.5C551.9 1405.5 559.0 1408.3 563.8 1410.5C568.6 1412.7 573.3 1415.0 578.1 1417.6C582.9 1420.2 587.8 1423.2 592.4 1426.0C597.0 1428.8 601.5 1431.3 605.5 1434.3C609.5 1437.3 612.8 1440.6 616.2 1443.8C619.6 1447.0 622.5 1450.1 625.7 1453.3C628.9 1456.5 632.0 1459.7 635.2 1462.9C638.4 1466.1 641.6 1469.2 644.8 1472.4C648.0 1475.6 651.5 1479.1 654.3 1481.9C657.1 1484.7 660.2 1487.8 661.4 1489.0" fill="none" stroke="#fff" stroke-width="2.6" stroke-dasharray="4.5 3.5"/>
<path d="M549.5 1410.5C551.9 1412.1 559.0 1416.8 563.8 1420.0C568.6 1423.2 573.3 1426.1 578.1 1429.5C582.9 1432.9 588.0 1436.6 592.4 1440.2C596.8 1443.8 600.3 1447.6 604.3 1451.0C608.3 1454.4 612.2 1457.3 616.2 1460.5C620.2 1463.7 624.1 1466.8 628.1 1470.0C632.1 1473.2 636.4 1476.6 640.0 1479.5C643.6 1482.4 647.9 1486.2 649.5 1487.5" fill="none" stroke="#fff" stroke-width="2.6" stroke-dasharray="4.5 3.5"/>
<path d="M1019.4 1374.2C1016.4 1375.7 1007.5 1379.6 1001.6 1383.1C995.7 1386.6 989.4 1391.3 983.9 1395.2C978.4 1399.1 972.8 1403.0 968.4 1406.3C964.0 1409.6 960.6 1412.2 957.3 1415.2C954.0 1418.2 951.3 1420.8 948.4 1424.1C945.5 1427.4 942.9 1431.4 939.6 1435.1C936.3 1438.8 932.2 1442.5 928.5 1446.2C924.8 1449.9 921.5 1453.2 917.4 1457.3C913.3 1461.4 908.2 1465.3 904.1 1470.6C900.0 1475.9 894.9 1485.9 893.0 1489.0" fill="none" stroke="#fff" stroke-width="2.6" stroke-dasharray="4.5 3.5"/>
<path d="M1019.4 1382.0C1016.4 1383.8 1007.1 1389.3 1001.6 1393.0C996.1 1396.7 990.9 1400.6 986.1 1404.1C981.3 1407.6 976.9 1410.8 972.8 1414.1C968.7 1417.4 965.4 1420.6 961.7 1424.1C958.0 1427.6 954.4 1431.8 950.7 1435.1C947.0 1438.4 943.4 1441.2 939.6 1444.0C935.8 1446.8 932.1 1449.0 928.0 1452.0C923.9 1455.0 919.2 1458.2 915.0 1462.0C910.8 1465.8 906.2 1470.5 903.0 1475.0C899.8 1479.5 897.2 1486.7 896.0 1489.0" fill="none" stroke="#fff" stroke-width="2.6" stroke-dasharray="4.5 3.5"/>
<path d="M721.0 1489.0C722.6 1486.2 726.9 1476.8 730.5 1472.4C734.1 1468.1 738.4 1465.9 742.4 1462.9C746.4 1459.9 749.9 1457.1 754.3 1454.5C758.7 1451.9 763.5 1449.4 768.6 1447.4C773.8 1445.4 780.0 1443.8 785.2 1442.6C790.4 1441.4 795.0 1440.6 800.0 1440.5C805.0 1440.4 810.0 1440.5 815.5 1441.8C821.0 1443.1 827.7 1445.8 833.2 1448.4C838.7 1451.0 843.9 1454.0 848.7 1457.3C853.5 1460.6 858.3 1464.9 862.0 1468.4C865.7 1471.9 868.3 1475.0 870.9 1478.4C873.5 1481.8 876.4 1487.2 877.5 1489.0" fill="none" stroke="#fff" stroke-width="2.6" stroke-dasharray="4.5 3.5"/>
</g>
<path d="M588.4 1315V1354.3M568.2 1334.7H607.6" stroke="#f0f0f8" stroke-width="1.6" fill="none"/>
<path d="M584.6999999999999 1319.6L588.4 1315L592.1 1319.6" stroke="#f0f0f8" stroke-width="1.6" fill="none"/>
<path d="M602.6 1331.1000000000001L607.6 1334.7L602.6 1338.3" stroke="#f0f0f8" stroke-width="1.6" fill="none"/>
<text x="580.42" y="1308.1" font-size="24" fill="#f0f0f8" stroke="#f0f0f8" stroke-width="0.3" textLength="17.84" lengthAdjust="spacingAndGlyphs" xml:space="preserve" >D</text>
<text x="551.03" y="1341.1" font-size="24" fill="#f0f0f8" stroke="#f0f0f8" stroke-width="0.3" textLength="14.37" lengthAdjust="spacingAndGlyphs" xml:space="preserve" >L</text>
<text x="610.46" y="1341.1" font-size="24" fill="#f0f0f8" stroke="#f0f0f8" stroke-width="0.3" textLength="22.26" lengthAdjust="spacingAndGlyphs" xml:space="preserve" >M</text>
<text x="580.47" y="1379.5" font-size="24" fill="#f0f0f8" stroke="#f0f0f8" stroke-width="0.3" textLength="16.80" lengthAdjust="spacingAndGlyphs" xml:space="preserve" >V</text>
<text x="935.09" y="1473.2" font-size="24.5" fill="#fff" stroke="#fff" stroke-width="0.3" textLength="84.77" lengthAdjust="spacingAndGlyphs" xml:space="preserve" >500 µm</text>
<rect x="954.8" y="1481.3" width="48.6" height="4" fill="#fff"/>
<text x="2.31" y="1544" font-size="29" fill="#000" stroke="#000" stroke-width="0.3" font-weight="bold" textLength="15.18" lengthAdjust="spacingAndGlyphs" xml:space="preserve" >e</text>
<line x1="197.6" y1="1591.3" x2="197.6" y2="2010.5" stroke="#000" stroke-width="2.3" />
<line x1="196.6" y1="1994.4" x2="623.1" y2="1994.4" stroke="#000" stroke-width="2.3" />
<line x1="183.2" y1="1592.3" x2="197.6" y2="1592.3" stroke="#000" stroke-width="2.3" />
<text x="97.94" y="1599.9" font-size="28" fill="#000" stroke="#000" stroke-width="0.3" textLength="71.47" lengthAdjust="spacingAndGlyphs" xml:space="preserve" >1,500</text>
<line x1="183.2" y1="1726" x2="197.6" y2="1726" stroke="#000" stroke-width="2.3" />
<text x="97.94" y="1734" font-size="28" fill="#000" stroke="#000" stroke-width="0.3" textLength="71.47" lengthAdjust="spacingAndGlyphs" xml:space="preserve" >1,000</text>
<line x1="183.2" y1="1860.4" x2="197.6" y2="1860.4" stroke="#000" stroke-width="2.3" />
<text x="121.79" y="1868.2" font-size="28" fill="#000" stroke="#000" stroke-width="0.3" textLength="47.65" lengthAdjust="spacingAndGlyphs" xml:space="preserve" >500</text>
<line x1="292.5" y1="1994.4" x2="292.5" y2="2009.8" stroke="#000" stroke-width="2.3" />
<line x1="387" y1="1994.4" x2="387" y2="2009.8" stroke="#000" stroke-width="2.3" />
<line x1="482" y1="1994.4" x2="482" y2="2009.8" stroke="#000" stroke-width="2.3" />
<line x1="576.8" y1="1994.4" x2="576.8" y2="2009.8" stroke="#000" stroke-width="2.3" />
<text x="179.79" y="2043.8" font-size="27.5" fill="#000" stroke="#000" stroke-width="0.3" textLength="42.09" lengthAdjust="spacingAndGlyphs" xml:space="preserve" >-30</text>
<text x="273.71" y="2043.8" font-size="27.5" fill="#000" stroke="#000" stroke-width="0.3" textLength="41.45" lengthAdjust="spacingAndGlyphs" xml:space="preserve" >-20</text>
<text x="368.21" y="2043.8" font-size="27.5" fill="#000" stroke="#000" stroke-width="0.3" textLength="41.55" lengthAdjust="spacingAndGlyphs" xml:space="preserve" >-10</text>
<text x="474.87" y="2043.8" font-size="27.5" fill="#000" stroke="#000" stroke-width="0.3" textLength="15.29" lengthAdjust="spacingAndGlyphs" xml:space="preserve" >0</text>
<text x="562.76" y="2043.8" font-size="27.5" fill="#000" stroke="#000" stroke-width="0.3" textLength="30.59" lengthAdjust="spacingAndGlyphs" xml:space="preserve" >10</text>
<text x="221.98" y="2086.7" font-size="27.5" fill="#000" stroke="#000" stroke-width="0.3" textLength="359.54" lengthAdjust="spacingAndGlyphs" xml:space="preserve" >Percent of motivation change</text>
<text transform="rotate(-90)" x="-1933.14" y="35.9" font-size="28.5" fill="#000" stroke="#000" stroke-width="0.3" textLength="300.98" lengthAdjust="spacingAndGlyphs" xml:space="preserve">Number of TH+ neurons</text>
<text transform="rotate(-90)" x="-1906.55" y="72.5" font-size="28.5" fill="#000" stroke="#000" stroke-width="0.3" textLength="258.71" lengthAdjust="spacingAndGlyphs" xml:space="preserve">expressing m-Cherry</text>
<path d="M483 1697.5L719 1541M483 1744.5L719 1767.5" stroke="#1a0fb0" stroke-width="2.6" stroke-dasharray="4 12.5" fill="none"/>
<path d="M311 1818.5L718.6 1799M311 1864L718.6 2024" stroke="#d01818" stroke-width="2.6" stroke-dasharray="4 12.5" fill="none"/>
<rect x="199.4" y="1784.2" width="17" height="17" fill="rgb(232,70,70)" fill-opacity="0.58"/>
<rect x="301.2" y="1833.4" width="17" height="17" fill="rgb(232,70,70)" fill-opacity="0.58"/>
<rect x="250.0" y="1920.0" width="17" height="17" fill="rgb(232,70,70)" fill-opacity="0.58"/>
<rect x="263.1" y="1937.7" width="17" height="17" fill="rgb(232,70,70)" fill-opacity="0.58"/>
<rect x="315.1" y="1915.1" width="17" height="17" fill="rgb(232,70,70)" fill-opacity="0.58"/>
<rect x="210.0" y="1960.9" width="17" height="17" fill="rgb(232,70,70)" fill-opacity="0.58"/>
<rect x="315.1" y="1949.0" width="17" height="17" fill="rgb(232,70,70)" fill-opacity="0.58"/>
<rect x="324.6" y="1955.0" width="17" height="17" fill="rgb(232,70,70)" fill-opacity="0.58"/>
<rect x="296.1" y="1973.0" width="17" height="17" fill="rgb(232,70,70)" fill-opacity="0.58"/>
<rect x="578.0" y="1599.5" width="17.4" height="17.4" fill="#7db2ee"/>
<rect x="473.0" y="1712.1" width="17.4" height="17.4" fill="#7db2ee"/>
<rect x="425.7" y="1793.5" width="17.4" height="17.4" fill="#7db2ee"/>
<rect x="473.0" y="1807.6" width="17.4" height="17.4" fill="#7db2ee"/>
<rect x="473.0" y="1828.2" width="17.4" height="17.4" fill="#7db2ee"/>
<rect x="473.0" y="1872.1" width="17.4" height="17.4" fill="#7db2ee"/>
<rect x="418.0" y="1879.1" width="17.4" height="17.4" fill="#7db2ee"/>
<rect x="473.0" y="1933.5" width="17.4" height="17.4" fill="#7db2ee"/>
<circle cx="309.6" cy="1841.3" r="22.4" fill="none" stroke="#cc1014" stroke-width="2.2"/>
<circle cx="482.2" cy="1721" r="22.6" fill="none" stroke="#1c10b8" stroke-width="2.2"/>
<text x="719.15" y="1528.4" font-size="29" fill="#000" stroke="#000" stroke-width="0.3" textLength="51.54" lengthAdjust="spacingAndGlyphs" xml:space="preserve" >WT;</text>
<text x="793.56" y="1528.4" font-size="29" fill="#000" stroke="#000" stroke-width="0.3" textLength="52.66" lengthAdjust="spacingAndGlyphs" xml:space="preserve" >VTA</text>
<text x="937.74" y="1528.4" font-size="29" fill="#000" stroke="#000" stroke-width="0.3" textLength="46.52" lengthAdjust="spacingAndGlyphs" xml:space="preserve" >10x</text>
<g clip-path="url(#ce1)">
<rect x="719" y="1541" width="282" height="226.5" fill="#04060e"/>
<rect x="719" y="1541" width="282" height="226.5" filter="url(#motE)" opacity="0.6"/>
<polygon points="719.0,1622.0 745.0,1642.0 775.0,1665.0 795.0,1690.0 800.0,1720.0 805.0,1767.5 719.0,1767.5" fill="#070838" opacity="0.95" filter="url(#b5)"/>
<polygon points="760.0,1690.0 780.0,1700.0 795.0,1730.0 798.0,1767.0 770.0,1767.0" fill="#1418a0" opacity="0.35" filter="url(#b6)"/>
<polygon points="719.0,1541.0 830.0,1541.0 870.0,1580.0 905.0,1620.0 900.0,1660.0 880.0,1700.0 870.0,1767.5 805.0,1767.5 800.0,1720.0 795.0,1690.0 775.0,1665.0 745.0,1642.0 719.0,1622.0" fill="#0a1a12" opacity="0.9" filter="url(#b6)"/>
<polygon points="870.0,1660.0 1001.0,1650.0 1001.0,1767.0 870.0,1767.0" fill="#081a12" opacity="0.8" filter="url(#b10)"/>
<path stroke="#30d040" stroke-width="2.3" stroke-linecap="round" fill="none" opacity="0.85" d="M774 1580l3 3M823 1568l3 3M848 1761l2 2M902 1620l2 2M827 1579l3 2M837 1715l2 3M846 1614l4 2M808 1649l3 3M799 1559l2 2M821 1716l2 3M729 1608l2 1M815 1578l2 2M793 1606l2 2M848 1688l3 2M819 1706l3 2M801 1598l3 2M824 1576l3 1M823 1575l3 3M853 1630l3 3M857 1592l3 3M880 1672l3 3M845 1749l2 1M884 1661l2 1M887 1652l3 3M850 1673l2 3M818 1595l2 3M828 1756l4 2M741 1548l2 2M859 1656l2 3M754 1573l2 3M799 1599l1 1M835 1736l3 3M883 1678l3 2M823 1714l3 2M726 1557l3 3M838 1605l4 2M853 1764l3 3M740 1609l4 2M820 1754l2 1M853 1750l2 3M825 1632l2 2M833 1570l2 1M810 1572l4 2M750 1582l2 2M814 1614l2 2M840 1680l2 3M853 1717l3 3M853 1569l2 1M796 1613l2 2M779 1612l2 3M816 1709l4 2"/>
<path stroke="#40e050" stroke-width="2.3" stroke-linecap="round" fill="none" opacity="0.85" d="M896 1662l1 2M884 1618l2 2M821 1757l2 2M881 1688l2 2M787 1616l3 2M833 1750l2 3M816 1620l3 3M803 1689l3 1M827 1632l2 1M776 1629l3 2M854 1618l3 3M834 1587l3 3M881 1649l3 2M871 1699l2 2M807 1662l2 3M888 1677l2 1M837 1596l3 2M751 1618l3 2M766 1557l3 2M840 1719l2 3M832 1597l2 2M765 1654l2 3M841 1717l2 3M833 1709l1 2M846 1563l2 2M814 1748l3 2M764 1627l2 3M803 1554l2 1M785 1656l3 3M753 1596l3 3M723 1603l1 2M818 1663l3 3M829 1707l2 1M855 1627l2 2M826 1593l2 3M811 1708l1 2M845 1698l2 1M850 1728l3 1M740 1570l3 1M811 1615l2 1M801 1586l2 1M835 1692l3 2M829 1582l2 2M825 1695l3 3M885 1652l2 3M891 1608l3 3M824 1545l2 1M783 1615l3 1M787 1552l2 2M836 1747l2 2M866 1756l3 2M812 1674l2 1M723 1622l2 2M734 1567l2 2M878 1599l2 4M826 1603l1 2M783 1555l2 4M732 1631l3 1M823 1744l2 2M885 1679l1 2M861 1582l4 3M776 1616l2 2M743 1542l4 2M801 1553l1 2M782 1611l1 2M796 1624l4 2M885 1608l3 3M726 1575l2 3M735 1554l3 2M814 1636l2 4M825 1598l2 3M856 1597l2 1M794 1676l2 3M813 1744l2 1M806 1644l2 2"/>
<path stroke="#28b838" stroke-width="2.3" stroke-linecap="round" fill="none" opacity="0.85" d="M809 1688l2 4M740 1587l2 2M807 1729l2 1M851 1595l2 2M771 1603l2 2M806 1603l3 3M877 1701l2 2M809 1544l3 2M856 1675l4 2M824 1595l2 2M881 1678l3 2M787 1594l2 3M770 1549l3 3M819 1683l2 1M868 1700l1 2M843 1631l3 3M846 1672l2 3M840 1741l2 2M775 1651l1 2M755 1619l3 3M873 1698l3 2M898 1626l2 2M744 1583l2 3M802 1675l2 2M821 1767l4 2M829 1733l3 3M797 1626l3 2M843 1728l2 3M872 1602l2 1M747 1599l3 1M802 1573l3 2M818 1547l2 2M748 1583l2 2M796 1594l3 1M788 1649l2 3M842 1634l3 2M847 1633l2 2M742 1584l2 3M828 1617l3 3M819 1551l3 2M801 1588l2 1M753 1597l2 1M861 1739l4 3M799 1557l2 3M764 1541l2 2M844 1679l1 2M832 1620l3 2M770 1558l2 3M864 1735l3 2M799 1709l2 1M786 1556l2 3M816 1741l3 3M860 1631l3 3M731 1603l3 2M855 1662l3 1M757 1628l3 1M827 1692l2 2M729 1614l2 1M807 1596l1 2M732 1555l2 2M836 1711l2 1M797 1567l3 2M810 1718l3 1M840 1570l2 2M804 1576l2 1M766 1550l3 2"/>
<path stroke="#60f060" stroke-width="2.3" stroke-linecap="round" fill="none" opacity="0.85" d="M721 1566l2 1M848 1563l2 2M817 1736l2 1M833 1611l2 2M870 1623l2 1M811 1610l2 3M765 1652l2 1M777 1551l1 2M821 1558l3 3M855 1643l1 2M822 1719l1 2M777 1603l3 3M846 1673l3 2M754 1592l2 2M899 1647l2 2M869 1756l2 2M849 1756l2 2M813 1686l2 3M842 1678l3 2M858 1590l3 2M800 1658l3 3M772 1546l2 3M772 1646l3 3M729 1629l2 2M768 1608l2 2M858 1721l1 2M784 1568l2 2M888 1658l2 3M804 1574l2 3M781 1615l2 2M807 1750l2 2M811 1637l3 2M864 1723l2 3M849 1577l2 3M840 1762l2 2M814 1681l3 3M818 1624l2 4M790 1616l3 2M796 1677l2 3M880 1646l2 2M803 1552l2 2M879 1632l2 1M852 1640l3 2M789 1570l2 3M852 1600l2 1M880 1649l3 3M746 1578l1 2M868 1767l3 3M811 1617l2 1M825 1656l2 2M895 1637l2 3M880 1691l1 2M899 1655l2 1M725 1544l3 3M737 1597l2 2M822 1577l3 3M865 1749l2 1M841 1703l3 2M818 1559l3 2M838 1686l2 2M791 1623l2 1M776 1601l2 3M764 1618l3 2M865 1640l2 2M736 1558l2 1M840 1685l2 2M828 1703l2 3"/>
<path stroke="#20a030" stroke-width="2.3" stroke-linecap="round" fill="none" opacity="0.85" d="M842 1572l3 3M776 1581l3 4M747 1554l3 2M788 1680l2 1M880 1697l2 2M731 1597l2 3M865 1757l3 3M862 1601l2 2M801 1613l4 2M822 1541l2 3M803 1577l2 1M811 1593l3 3M793 1646l2 1M872 1625l4 2M750 1639l3 3M723 1554l2 4M775 1622l2 2M800 1675l3 3M758 1641l2 2M814 1704l2 2M801 1707l3 3M811 1572l2 3M831 1587l2 3M792 1552l3 3M820 1745l2 2M721 1621l3 3M775 1573l3 2M837 1554l2 2M847 1725l3 2M848 1756l3 2M846 1591l3 2M838 1586l2 2M773 1625l2 2M852 1645l2 2M760 1646l3 2M869 1680l2 3M746 1552l3 1M744 1613l3 2M850 1690l1 2M902 1623l2 1M862 1757l3 2M862 1714l3 1M740 1614l2 2M839 1728l2 2M872 1648l2 2M822 1615l2 2M855 1637l2 2M727 1581l2 2M841 1637l2 2M797 1610l2 3M736 1623l4 2M845 1757l3 1M813 1631l2 1M802 1656l3 2M803 1580l3 2M794 1676l1 2M793 1612l2 3M853 1716l2 1M761 1567l2 2M852 1669l2 2M868 1727l2 2M814 1673l2 3M721 1617l2 1M764 1606l3 3M900 1643l2 2M829 1592l2 3M818 1617l2 2M804 1652l1 2M835 1729l2 2M869 1767l2 3M804 1644l2 1"/>
<path stroke="#ff3a20" stroke-width="2.0" stroke-linecap="round" fill="none" opacity="0.85" d="M741 1555l2 2M756 1570l3 3M745 1545l2 1M780 1592l4 2M761 1602l1 2M735 1556l2 3M795 1641l3 2M778 1641l2 3M763 1613l2 2M802 1647l3 2M769 1580l2 3M761 1598l3 3M796 1633l3 2M761 1616l2 2M742 1605l3 3M762 1584l3 2M728 1564l3 4M743 1564l3 3M776 1636l2 3M756 1612l1 2M757 1596l2 2M760 1590l3 2M774 1643l3 2M789 1627l2 2M744 1590l2 2M761 1628l2 3M794 1650l3 3"/>
<path stroke="#ff5a2a" stroke-width="2.0" stroke-linecap="round" fill="none" opacity="0.85" d="M735 1546l2 4M795 1623l2 2M732 1585l4 3M737 1551l3 2M783 1660l4 3M733 1589l3 4M785 1658l2 3M731 1565l2 2M770 1594l2 2M763 1572l3 2M792 1665l3 4M737 1596l3 3M774 1594l3 3M731 1574l2 1M762 1600l3 4M745 1567l3 3M740 1594l2 4M765 1638l3 4M787 1624l4 3M793 1637l4 3M791 1642l3 3M768 1595l2 3M788 1635l2 2M730 1547l3 2M802 1646l3 3M742 1576l2 2M769 1611l3 3M766 1593l2 3M732 1555l2 2M758 1623l2 3M735 1579l2 2M775 1623l2 2"/>
<path stroke="#e83018" stroke-width="2.0" stroke-linecap="round" fill="none" opacity="0.85" d="M731 1572l3 3M727 1550l2 3M754 1566l3 3M732 1549l2 2M745 1596l3 2M732 1553l2 2M767 1587l2 3M794 1610l3 2M783 1631l3 2M727 1547l2 3M776 1621l3 2M740 1549l2 3M801 1642l2 3M788 1653l2 2M769 1638l3 3M727 1560l2 2M760 1629l3 2M782 1657l4 3M794 1660l2 2M745 1576l2 3M744 1561l4 3M740 1561l2 3M774 1586l3 4M736 1564l2 3M779 1638l3 2M733 1570l3 3M803 1654l3 2M745 1571l4 3"/>
<path stroke="#ff8030" stroke-width="2.0" stroke-linecap="round" fill="none" opacity="0.85" d="M784 1601l2 1M794 1644l3 3M754 1617l4 3M779 1591l3 3M763 1630l2 2M758 1586l3 3M741 1601l3 3M744 1588l3 3M773 1619l4 3M764 1608l3 2M749 1593l4 3M766 1615l2 2M780 1616l2 2M776 1586l3 3M760 1588l3 3M754 1599l4 3M752 1570l2 3M777 1593l2 2M795 1637l2 3M796 1647l3 2M787 1651l4 3M747 1611l2 2M766 1590l4 3"/>
<path stroke="#ff3a20" stroke-width="2.0" stroke-linecap="round" fill="none" opacity="0.85" d="M839 1762l3 2M822 1704l2 3M848 1714l4 3M854 1739l2 1M879 1756l3 3M810 1704l3 2M818 1763l2 2M865 1753l3 3M819 1691l2 2M830 1750l3 4M824 1766l2 2M826 1738l2 2M832 1752l3 4M832 1692l3 3M833 1734l2 2M845 1699l3 3M840 1720l2 2M830 1689l3 2M834 1714l4 3M823 1767l4 3M821 1737l2 2M874 1754l3 2"/>
<path stroke="#ff2a50" stroke-width="2.0" stroke-linecap="round" fill="none" opacity="0.85" d="M829 1747l2 1M836 1710l3 3M828 1763l2 2M846 1712l2 3M805 1682l4 3M826 1709l4 2M825 1743l3 3M809 1751l2 4M872 1723l3 4M879 1756l3 2M817 1725l2 2M862 1714l4 2M843 1691l2 2M826 1694l3 3M812 1733l2 2M848 1745l3 3M871 1744l2 2M811 1728l4 3M815 1704l2 2M870 1760l4 3M875 1731l2 4M839 1759l4 2M825 1729l2 3M860 1758l3 3M807 1687l3 3M867 1714l2 2M826 1758l3 3M856 1701l3 3M858 1726l3 2M819 1735l3 3M830 1691l2 3M877 1749l4 3M878 1750l2 1M873 1719l3 3"/>
<path stroke="#e83018" stroke-width="2.0" stroke-linecap="round" fill="none" opacity="0.85" d="M849 1735l2 3M846 1726l3 4M820 1758l2 2M859 1757l3 2M861 1734l4 3M834 1745l3 2M809 1709l3 3M873 1742l2 4M838 1724l3 2M805 1708l2 4M864 1764l4 3M807 1716l3 2M871 1738l2 3M817 1750l2 3M807 1727l2 2M859 1723l4 3M838 1714l3 3M831 1724l3 2M860 1707l2 2M866 1759l3 3M873 1725l3 3M835 1731l3 2M837 1760l2 1M853 1746l2 4M842 1750l2 2M849 1764l2 3M809 1710l2 2M852 1723l3 2M833 1758l2 2M880 1763l4 3M860 1763l4 3M806 1701l2 1M815 1764l2 2M850 1723l4 2M864 1706l2 2M851 1695l3 3M875 1726l3 3"/>
<path stroke="#ff8030" stroke-width="2.0" stroke-linecap="round" fill="none" opacity="0.85" d="M852 1744l4 3M852 1749l3 3M808 1722l3 3M857 1701l2 4M872 1755l3 3M844 1703l2 3M862 1711l2 3M811 1712l2 4M813 1722l2 3M853 1751l3 2M813 1694l2 3M854 1700l3 3M835 1689l2 2M805 1694l2 3M822 1749l3 4M875 1766l2 3M868 1767l2 2M817 1765l2 2M823 1707l2 3M851 1726l3 3M825 1733l3 3M835 1735l3 3M864 1762l2 3M810 1700l3 3M859 1711l2 2M816 1722l2 3M835 1750l2 3M819 1747l3 2M813 1755l3 4M816 1686l2 2M837 1705l2 2M847 1709l3 2M865 1735l4 2M825 1712l1 2M877 1764l1 2M863 1761l3 4M866 1713l2 2"/>
<path stroke="#30d040" stroke-width="1.8" stroke-linecap="round" fill="none" opacity="0.7" d="M939 1710l1 3M947 1739l1 2M972 1730l3 2M967 1725l0 3M929 1662l2 2M926 1670l1 2M976 1674l0 3M887 1673l2 1M972 1696l3 2M977 1759l2 1M979 1694l1 2M884 1641l2 2M987 1722l0 2M920 1696l2 0M983 1712l2 3M916 1666l3 2M990 1725l1 3M899 1722l2 1M969 1688l1 3M878 1698l1 2M898 1719l0 3M984 1746l2 1M882 1733l3 1M974 1725l1 1M913 1699l3 2M891 1728l0 2M960 1667l3 1M923 1708l0 2M968 1733l1 3M1001 1671l2 1M947 1681l1 1M879 1722l2 1M906 1641l0 3M917 1755l2 2M920 1704l0 2M886 1734l3 2M934 1702l3 1M991 1668l1 1M912 1724l2 2M897 1691l1 1M922 1752l3 0M908 1757l1 1M884 1707l0 3M953 1731l1 2M956 1649l2 1M936 1657l1 2M913 1758l1 1M881 1688l1 3M925 1732l1 3M912 1652l2 1M950 1689l2 2M936 1673l0 3M883 1653l1 1M916 1669l1 3M948 1725l1 2M889 1666l1 1M941 1741l3 1M912 1649l0 3M967 1711l0 2"/>
<path stroke="#40e050" stroke-width="1.8" stroke-linecap="round" fill="none" opacity="0.7" d="M918 1754l3 2M947 1716l2 1M896 1661l0 2M938 1739l2 2M900 1753l0 3M879 1728l2 1M894 1690l2 1M992 1714l1 2M891 1654l1 3M942 1732l0 3M961 1693l2 2M912 1677l2 2M967 1735l2 0M961 1659l1 2M903 1656l0 2M886 1699l2 2M956 1683l1 1M953 1760l0 2M938 1711l2 1M884 1649l1 1M982 1651l2 2M927 1734l3 1M968 1700l2 0M918 1718l2 1M945 1647l2 1M955 1652l2 2M901 1689l1 2M989 1722l3 1M932 1694l2 1M975 1668l3 0M926 1677l1 3M996 1649l2 1M931 1678l3 1M896 1672l2 1M932 1647l1 1M977 1736l1 1M967 1648l2 2M917 1660l1 2M993 1687l3 1M966 1683l1 2M899 1641l1 2M880 1753l1 3M936 1714l3 2M951 1700l3 0M887 1754l1 2M900 1754l3 2M876 1699l2 2M888 1707l2 1M941 1645l2 1"/>
<path stroke="#28b838" stroke-width="1.8" stroke-linecap="round" fill="none" opacity="0.7" d="M990 1702l2 2M965 1682l1 3M893 1655l1 3M982 1728l0 3M873 1739l2 1M889 1688l0 2M886 1668l2 1M982 1676l3 2M884 1681l0 2M981 1692l1 1M921 1716l0 3M968 1645l1 3M910 1695l0 3M885 1751l1 2M947 1707l2 1M885 1754l0 3M992 1742l2 2M873 1755l0 2M958 1683l2 3M876 1746l0 3M995 1703l1 2M897 1646l1 2M889 1709l3 2M914 1684l1 3M905 1722l0 2M999 1712l1 1M990 1711l1 3M988 1756l1 2M901 1725l1 3M991 1718l2 1M919 1755l3 1M986 1743l1 3M967 1720l2 1M941 1709l2 1M998 1708l1 2M891 1716l2 0M924 1678l2 1M997 1729l1 1M946 1707l2 0M882 1754l0 2M876 1747l1 3M922 1671l2 0"/>
<path stroke="#28b838" stroke-width="1.5" stroke-linecap="round" fill="none" opacity="0.6" d="M991 1633l0 2M919 1557l2 1M924 1570l2 0M973 1586l1 3M961 1595l1 1M904 1579l1 1M907 1619l1 1M936 1623l2 2M946 1614l1 2M969 1568l1 1M978 1578l3 0M990 1612l0 1M930 1587l0 1M963 1590l1 3M933 1585l2 0M973 1588l1 3M932 1575l0 1M894 1599l1 1M948 1629l1 1M949 1548l3 1M982 1571l2 2"/>
<path stroke="#1a2a80" stroke-width="1.5" stroke-linecap="round" fill="none" opacity="0.6" d="M946 1615l2 1M997 1597l1 2M925 1543l1 0M968 1585l1 1M901 1554l2 0M940 1609l3 0M948 1576l0 3M926 1586l1 1M910 1613l2 1M898 1581l1 2M974 1635l2 1M952 1576l2 1M969 1561l1 0M935 1638l1 1M965 1589l2 2M934 1623l1 1M969 1567l1 0M933 1548l1 2M987 1577l1 2"/>
<path stroke="#2a38d0" stroke-width="2.0" stroke-linecap="round" fill="none" opacity="0.35" d="M730 1694l3 2M755 1676l-5 1M773 1673l-4 1M747 1750l0 3M728 1731l-1 2M724 1658l1 3M731 1674l1 4M774 1680l-0 3M771 1697l-3 4M754 1717l-1 3M739 1727l1 3M720 1706l-4 2M719 1668l-0 5M728 1744l3 1M745 1754l-3 1M758 1703l3 4M738 1686l4 3M744 1733l1 2M769 1730l-1 2M775 1694l4 3M720 1699l-5 2M749 1705l-1 4M749 1698l2 2M767 1701l-5 3M749 1694l-1 1M737 1746l-4 1M760 1680l2 3M763 1758l-2 2M796 1758l-5 1M745 1739l5 2M724 1756l-1 2M781 1674l-5 4M744 1714l2 5M750 1730l-3 3M724 1695l-3 2M793 1755l-3 0M760 1692l-3 0M779 1756l-4 4M725 1666l-3 4"/>
<path stroke="#1a28b0" stroke-width="2.0" stroke-linecap="round" fill="none" opacity="0.35" d="M747 1765l6 0M754 1693l-3 2M770 1678l-2 1M782 1731l3 3M763 1717l-2 3M781 1767l-1 6M787 1751l1 2M767 1753l-1 2M777 1725l-0 2M744 1746l-0 6M720 1679l2 5M748 1747l-4 2M733 1682l-1 2M726 1679l3 0M767 1681l5 2M785 1729l-2 3M741 1708l4 3M784 1754l-4 1M772 1690l-2 5M723 1661l2 4M775 1667l-2 4M737 1737l-5 1M747 1656l-3 5M733 1636l3 1M775 1717l1 3M766 1734l-2 2M793 1724l-2 1M789 1753l-5 0M739 1765l0 2M760 1664l4 4M778 1722l2 5M772 1740l-3 5M729 1762l-6 1M782 1738l-4 3M779 1689l2 5M726 1703l1 5M796 1754l2 1M742 1641l-4 1"/>
<path stroke="#3040e0" stroke-width="2.0" stroke-linecap="round" fill="none" opacity="0.35" d="M782 1685l3 1M758 1655l3 2M731 1737l0 5M745 1687l3 1M771 1714l-3 1M739 1764l4 0M753 1697l-2 1M763 1676l-5 1M734 1689l-3 4M786 1712l-0 3M732 1752l-1 3M747 1680l1 2M741 1699l3 1M776 1758l-1 5M726 1727l0 6M743 1664l-3 0M761 1727l-2 4M719 1708l2 5M728 1695l2 1M760 1718l3 3M735 1722l-3 4M792 1760l-4 2M760 1676l2 5M745 1705l-0 5M740 1724l-5 0M724 1758l4 1M781 1750l-1 4M755 1717l-3 1M741 1736l-3 1M778 1687l1 2M729 1660l1 3M745 1707l0 5M753 1722l-4 1M727 1702l2 3M746 1755l3 4M726 1746l-4 1M766 1692l2 1M778 1702l-2 0M735 1755l-5 2M724 1684l3 1M751 1650l1 4M728 1724l-0 6M723 1686l3 4"/>
</g>
<path d="M956.5 1573.4V1619M933.4 1595.9H980.1" stroke="#f0f0f8" stroke-width="1.6" fill="none"/>
<path d="M952.8 1578.0L956.5 1573.4L960.2 1578.0" stroke="#f0f0f8" stroke-width="1.6" fill="none"/>
<path d="M938.4 1592.3000000000002L933.4 1595.9L938.4 1599.5" stroke="#f0f0f8" stroke-width="1.6" fill="none"/>
<text x="907.10" y="1603.1" font-size="25.5" fill="#f0f0f8" stroke="#f0f0f8" stroke-width="0.3" textLength="21.88" lengthAdjust="spacingAndGlyphs" xml:space="preserve" >M</text>
<text x="982.91" y="1603.1" font-size="25.5" fill="#f0f0f8" stroke="#f0f0f8" stroke-width="0.3" textLength="14.50" lengthAdjust="spacingAndGlyphs" xml:space="preserve" >L</text>
<text x="948.08" y="1641" font-size="25.5" fill="#f0f0f8" stroke="#f0f0f8" stroke-width="0.3" textLength="15.68" lengthAdjust="spacingAndGlyphs" xml:space="preserve" >V</text>
<text x="946.93" y="1564.1" font-size="27" fill="#f0f0f8" stroke="#f0f0f8" stroke-width="0.3" textLength="21.36" lengthAdjust="spacingAndGlyphs" xml:space="preserve" >D</text>
<text x="726.10" y="1749.2" font-size="25" fill="#fff" stroke="#fff" stroke-width="0.3" textLength="70.04" lengthAdjust="spacingAndGlyphs" xml:space="preserve" >50 µm</text>
<rect x="725.9" y="1758.1" width="44" height="4" fill="#fff"/>
<g clip-path="url(#ce2)">
<rect x="718.6" y="1799" width="279.4" height="225" fill="#04041a"/>
<rect x="718.6" y="1799" width="279.4" height="225" filter="url(#motE)" opacity="0.5"/>
<polygon points="719.0,1955.0 760.0,1965.0 800.0,1985.0 825.0,2005.0 835.0,2024.0 719.0,2024.0" fill="#08084e" opacity="0.95" filter="url(#b5)"/>
<polygon points="719.0,1830.0 780.0,1835.0 830.0,1850.0 870.0,1870.0 895.0,1900.0 900.0,1940.0 885.0,1990.0 860.0,2024.0 840.0,2024.0 800.0,1985.0 760.0,1965.0 719.0,1955.0" fill="#08140f" opacity="0.7" filter="url(#b8)"/>
<path stroke="#30d040" stroke-width="2.2" stroke-linecap="round" fill="none" opacity="0.8" d="M823 1982l2 1M749 1957l-0 2M805 1938l-2 0M844 2020l2 1M774 1858l-1 2M808 1907l2 0M849 1962l-2 3M881 1910l1 3M837 1864l-1 1M752 1922l0 2M822 1903l-1 3M868 1883l-0 3M748 1847l-2 1M724 1884l-1 2M774 1909l-2 0M834 1919l-2 2M845 1992l-1 1M814 1861l-2 1M808 1846l-1 3M870 1908l3 1M799 1917l0 2M721 1936l-2 2M824 1935l2 3M722 1903l-0 3M800 1881l3 2M745 1860l-3 1M885 1977l-3 1M838 2017l1 0M849 1960l3 1M747 1925l0 2M796 1870l3 0M793 1922l2 1M834 1939l1 2M723 1920l2 2M722 1830l-2 1M737 1905l3 1M873 1879l1 1M810 1986l-3 0M746 1957l-3 0M844 1986l2 1M847 2011l-3 1M795 1860l0 2M884 1890l1 1M890 1914l-0 2M766 1943l3 2M834 1901l2 1M892 1933l0 2M807 1944l2 0M771 1931l-1 3M860 1894l-2 0M885 1889l2 0M832 1973l-1 3M853 2021l1 2M842 1956l2 1M875 1954l-2 2M754 1896l-1 1M730 1862l-2 1M807 1953l-3 0M809 1895l-3 0M814 1949l3 1M840 1974l-1 2M795 1859l2 1M879 1976l2 1M876 1920l2 3M730 1891l2 1M883 1891l0 3M840 1954l2 2M773 1838l1 2M756 1855l-3 0M804 1934l-2 1M785 1895l1 2M749 1935l-3 2M886 1961l1 1M869 1870l-0 3M866 1912l-3 0M719 1830l-3 2M818 1968l2 1M726 1831l-2 3M809 1864l-0 3M876 1934l-2 2M877 1970l-3 0"/>
<path stroke="#40e050" stroke-width="2.2" stroke-linecap="round" fill="none" opacity="0.8" d="M788 1875l1 3M797 1885l1 1M838 1892l-2 2M769 1871l-2 1M855 1972l2 2M760 1921l1 1M724 1944l-0 3M727 1894l-1 2M849 1867l2 1M732 1905l3 2M844 2004l2 3M888 1893l3 2M745 1888l2 2M797 1909l2 1M860 1945l-2 1M872 1947l1 1M848 1970l1 2M816 1850l2 1M880 1905l-1 1M889 1916l-2 0M766 1949l-1 2M746 1860l2 1M766 1962l3 0M734 1899l2 0M883 1951l-1 2M757 1920l-1 3M872 1986l-3 1M884 1966l2 3M815 1910l-2 1M848 1919l-2 1M783 1955l2 0M794 1905l-3 1M817 1868l0 2M779 1900l3 0M822 1946l-1 3M796 1923l1 2M801 1871l1 2M761 1842l2 0M855 1951l-1 1M803 1900l-1 3M816 1940l-1 1M887 1920l3 1M809 1908l2 0M800 1875l-1 2M840 1964l-3 1M859 1968l-2 2M720 1905l1 3M857 1876l-1 2M827 1943l0 2M757 1932l1 2M786 1958l-0 3M892 1909l-0 3M824 1853l-3 2M767 1897l3 0M821 1851l-2 2M757 1963l-0 3M765 1893l2 1M770 1962l3 1M820 1980l-1 2M812 1927l3 1M736 1899l-1 3M734 1875l2 0M783 1917l3 0M892 1905l-2 2M783 1940l-2 1M841 1866l1 2M856 1914l-2 0M851 1928l-1 3M724 1904l-2 3M796 1848l-3 2M862 1956l2 2M817 1964l-2 1M790 1869l2 2M830 1915l-0 2M727 1934l0 2M755 1839l-2 3M843 1881l-1 2M833 1963l2 0"/>
<path stroke="#28b838" stroke-width="2.2" stroke-linecap="round" fill="none" opacity="0.8" d="M881 1885l-2 2M890 1908l-2 1M822 1860l1 2M819 1927l-3 2M794 1927l1 3M777 1915l2 1M873 1981l-2 2M843 1933l2 1M770 1879l2 1M756 1887l0 2M813 1929l-2 0M802 1935l1 2M809 1916l-1 3M782 1852l-2 1M791 1914l1 2M827 1984l-2 3M746 1840l-2 3M785 1920l2 3M729 1866l3 1M832 1976l0 3M842 2021l-3 1M844 1973l-2 1M821 1867l2 2M728 1956l1 1M884 1911l-0 2M801 1911l-1 2M736 1894l3 2M832 1947l-2 2M882 1885l-2 0M787 1969l0 3M723 1929l-1 2M751 1945l-2 0M854 1922l1 3M831 1896l2 3M750 1949l2 2M830 1883l-1 2M753 1951l-2 0M890 1906l1 2M836 1933l2 1M743 1889l-3 2M786 1969l1 2M767 1896l-0 3M854 1909l-0 2M816 1949l2 1M771 1854l-0 1M801 1888l-1 2M836 1927l-1 2M889 1960l-1 3M753 1872l3 0M852 2001l-1 3M721 1890l3 1M886 1969l2 1M749 1945l-1 1M846 1937l-2 0M778 1852l3 1M869 1979l-1 2M773 1940l-1 2M844 1962l-1 2M867 1934l1 3M781 1851l-1 2M864 2016l2 2M845 1998l-0 3M862 1900l-3 1M894 1918l0 3M758 1910l-2 1M787 1949l-1 1M813 1853l-0 3M851 1940l1 3M834 1993l1 3M775 1913l-0 2M867 1945l-1 3M824 1969l-3 1"/>
<path stroke="#60f060" stroke-width="2.2" stroke-linecap="round" fill="none" opacity="0.8" d="M724 1942l-3 2M763 1915l1 3M850 1990l-2 2M845 1872l-3 1M775 1859l-2 1M876 1884l-2 1M844 1876l2 2M722 1862l-1 2M838 2011l1 1M877 1980l2 2M828 1959l3 0M844 1929l-1 3M836 2010l0 2M834 1985l2 1M723 1859l-2 1M720 1953l-2 3M826 2009l2 1M893 1907l2 3M725 1833l-0 2M731 1915l1 2M846 1881l2 1M891 1928l-1 2M861 1946l0 2M898 1942l-2 2M828 1886l-2 2M847 1953l-1 2M876 1996l1 3M754 1848l-2 1M760 1914l-0 3M823 2003l-0 2M787 1968l-2 0M862 2021l-2 0M788 1871l2 1M896 1930l2 1M776 1932l1 2M863 1963l2 1M860 1887l3 1M734 1909l3 0M854 1914l0 2M888 1921l-3 1M855 1888l2 1M785 1947l0 3M776 1909l1 2M873 1956l-2 1M848 1871l-1 2M830 1956l-1 2M762 1903l1 3M850 1914l3 1M862 1900l1 3M766 1875l0 2M829 1927l-3 0M740 1924l3 0M880 1975l1 2M838 1959l0 3M861 1978l-2 1M802 1959l-1 1M884 1936l1 1M740 1895l-0 2M739 1903l-1 2M759 1908l-1 2M766 1917l-3 2M848 1983l-2 1M820 1947l-2 1M837 2015l1 2M782 1870l-0 2M827 1983l2 2M881 1960l2 0M781 1961l2 1M828 1855l-1 2"/>
<path stroke="#30d040" stroke-width="1.6" stroke-linecap="round" fill="none" opacity="0.65" d="M901 1989l2 0M900 1921l-1 2M993 1935l1 2M927 1925l-0 3M983 1967l1 1M921 1901l1 3M939 2002l2 1M919 2016l2 1M986 1976l1 1M922 1911l-3 1M918 1957l2 1M958 2003l-1 1M948 1994l0 2M947 1971l-2 2M937 1959l2 0M892 1964l-1 1M896 1899l3 1M916 1980l-1 2M985 1967l-2 2M983 1897l-1 1M976 1905l0 2M936 1927l3 1M977 2005l-2 0M980 2020l0 2M913 1944l2 0M995 1968l3 0M953 1957l-0 2M982 1899l2 2M903 2009l2 0M939 2014l-1 1M951 1903l2 1M928 1899l2 1M980 1984l-0 2M991 1904l-2 1M966 1965l-2 1M904 1931l2 2M990 1922l-2 2M962 1988l-1 1M940 1931l-1 2M933 1927l2 2M946 1998l2 0M956 1930l2 1M913 1953l2 2M962 1973l-2 2M963 1920l2 0M996 1972l-2 1M961 1891l2 2M941 1925l2 2M974 1955l2 0M906 1941l3 1M932 1993l-2 2M986 2002l1 2M989 2021l-1 3M895 1941l1 2M993 1895l2 2M892 1910l2 1M956 1990l2 1M931 2016l-1 1"/>
<path stroke="#28b838" stroke-width="1.6" stroke-linecap="round" fill="none" opacity="0.65" d="M959 1893l2 1M966 1946l-2 1M891 1998l2 1M995 1941l-1 3M969 1912l-2 0M964 1919l-2 2M915 1894l2 0M989 1966l0 2M951 1925l1 3M914 2024l2 0M902 1974l1 2M954 1953l-3 1M891 1987l1 2M902 1939l1 1M951 1901l-3 0M948 1907l3 1M965 1986l-1 3M911 1903l1 2M932 2014l-1 2M969 1995l1 1M899 1978l2 2M967 1922l-1 2M970 1911l-2 2M912 1975l2 2M988 1897l3 0M926 1908l0 2M988 1963l2 1M917 1904l-2 2M985 1893l1 3M902 2007l-2 1M959 1944l3 1M995 1914l-0 1M927 1995l-0 2M932 1967l0 2M962 1934l2 1M987 1958l-1 2M950 1916l-2 1M975 1971l0 2M952 1986l2 2M977 1983l1 1M982 1951l-2 0M954 2017l-2 2M945 2001l-2 2M921 1926l3 1M934 1963l-1 1M931 1891l1 2M942 1942l-2 1M962 1901l0 2M985 1927l2 0M892 1962l2 0M992 1952l2 1M924 1968l-2 1"/>
<path stroke="#ff2a30" stroke-width="2.0" stroke-linecap="round" fill="none" opacity="0.8" d="M834 1964l3 4M818 1946l-1 5M792 1964l-4 0M810 1993l-3 2M740 1875l2 2M787 1986l-4 2M811 1905l2 4M730 1890l-1 3M767 1889l4 1M798 1962l3 1M721 1887l3 1"/>
<path stroke="#e02020" stroke-width="2.0" stroke-linecap="round" fill="none" opacity="0.8" d="M732 1920l1 3M727 1862l-0 5M761 1949l4 0M819 1998l-0 3M781 1891l3 0M799 1986l4 1M770 1889l-1 4M784 1941l1 4M817 1996l-3 3M818 1920l-3 0M781 1950l-3 2M768 1895l1 4M751 1911l1 4M806 1991l-4 3M778 1918l-1 3M785 1970l-2 2"/>
<path stroke="#ff4040" stroke-width="2.0" stroke-linecap="round" fill="none" opacity="0.8" d="M739 1911l4 1M800 1935l2 4M798 1989l-3 1M781 1942l-0 4M734 1917l-3 4M736 1849l-1 4M817 1975l-2 3M834 1982l-5 1M794 1974l1 4M802 1950l-2 4M722 1853l-4 1M748 1864l-3 3M797 1939l-2 4M841 1988l3 0M803 1918l3 3M786 1930l1 4M764 1896l1 3M831 1995l-0 4"/>
<path stroke="#2a30d0" stroke-width="2.0" stroke-linecap="round" fill="none" opacity="0.4" d="M766 1992l2 2M722 1963l-2 2M752 1966l3 3M774 2018l-2 2M772 2010l0 3M802 2024l0 5M736 2019l3 4M720 1974l-5 0M771 1977l-3 5M757 1989l-2 1M799 1986l2 1M721 2003l-0 3M728 1962l3 4M734 2018l-3 4M743 1968l-0 2M818 2019l-3 5M732 2003l2 2M733 1985l-1 6M761 2021l-0 2M721 2005l-2 1M775 2012l-1 6M732 1991l2 2M721 1972l3 4M758 2014l0 4M785 1992l-1 4M747 2021l2 3M747 2013l-4 1M723 1973l1 2M780 2013l-3 3M799 2021l-3 2M725 1997l5 1M734 1973l-3 1M791 2024l4 0M762 2014l4 1M761 1967l2 2M723 1962l1 5M787 2010l-3 3M813 2013l6 1M737 1981l-1 3M752 1984l-2 2M803 2014l3 3M786 1980l3 2M780 1986l-6 0M813 2018l2 0M730 2002l-2 2M822 2012l0 5M778 2005l-0 4M792 1988l4 1"/>
<path stroke="#2020c0" stroke-width="2.0" stroke-linecap="round" fill="none" opacity="0.4" d="M793 1996l2 3M756 2020l1 2M801 2006l0 3M811 2002l-4 0M720 2016l3 5M742 1963l2 2M726 1988l-6 0M806 2009l0 4M752 1976l-3 1M728 1985l5 1M824 2008l-0 5M746 1989l-3 4M734 2019l2 3M756 1996l-2 5M751 1981l2 2M736 1973l4 2M752 2018l-3 2M799 2016l0 6M823 2008l2 1M751 2020l2 2M797 2000l-4 1M739 1970l5 0M782 1986l2 0M809 1999l4 1M751 1971l-0 2M762 2013l-3 4M795 2021l-2 2M722 1961l-3 3M765 1991l-3 0M809 2023l-3 3M783 2023l-3 0M720 1966l-5 1M741 1999l3 3M732 1999l-0 4M747 1977l-3 2M737 2005l1 3M791 2001l-2 1M739 1986l-5 1M747 1974l-2 3M771 2013l0 2M789 1999l5 3M746 2020l2 5M791 2011l1 5M802 2018l-2 1M754 1981l1 5M786 1984l-3 1M776 2016l1 4M819 2016l-5 3M791 2014l-3 3M801 1997l-2 1M752 1998l-3 5M742 1971l1 3"/>
<polygon points="940.0,1880.0 960.0,1880.0 960.0,2024.0 940.0,2024.0" fill="#020210" opacity="0.7" filter="url(#b4)"/>
</g>
<path d="M952.6 1828V1874.7M929.6 1851.3H975.7" stroke="#f0f0f8" stroke-width="1.6" fill="none"/>
<path d="M948.9 1832.6L952.6 1828L956.3000000000001 1832.6" stroke="#f0f0f8" stroke-width="1.6" fill="none"/>
<path d="M934.6 1847.7L929.6 1851.3L934.6 1854.8999999999999" stroke="#f0f0f8" stroke-width="1.6" fill="none"/>
<text x="942.83" y="1819.2" font-size="25" fill="#f0f0f8" stroke="#f0f0f8" stroke-width="0.3" textLength="18.69" lengthAdjust="spacingAndGlyphs" xml:space="preserve" >D</text>
<text x="903.24" y="1858.7" font-size="25" fill="#f0f0f8" stroke="#f0f0f8" stroke-width="0.3" textLength="22.50" lengthAdjust="spacingAndGlyphs" xml:space="preserve" >M</text>
<text x="978.27" y="1858.7" font-size="25" fill="#f0f0f8" stroke="#f0f0f8" stroke-width="0.3" textLength="14.12" lengthAdjust="spacingAndGlyphs" xml:space="preserve" >L</text>
<text x="944.28" y="1896.6" font-size="25" fill="#f0f0f8" stroke="#f0f0f8" stroke-width="0.3" textLength="15.68" lengthAdjust="spacingAndGlyphs" xml:space="preserve" >V</text>
<text x="726.10" y="2004.7" font-size="25" fill="#fff" stroke="#fff" stroke-width="0.3" textLength="70.04" lengthAdjust="spacingAndGlyphs" xml:space="preserve" >50 µm</text>
<rect x="725.9" y="2013.8" width="44.3" height="4" fill="#fff"/>
</svg></body></html>
